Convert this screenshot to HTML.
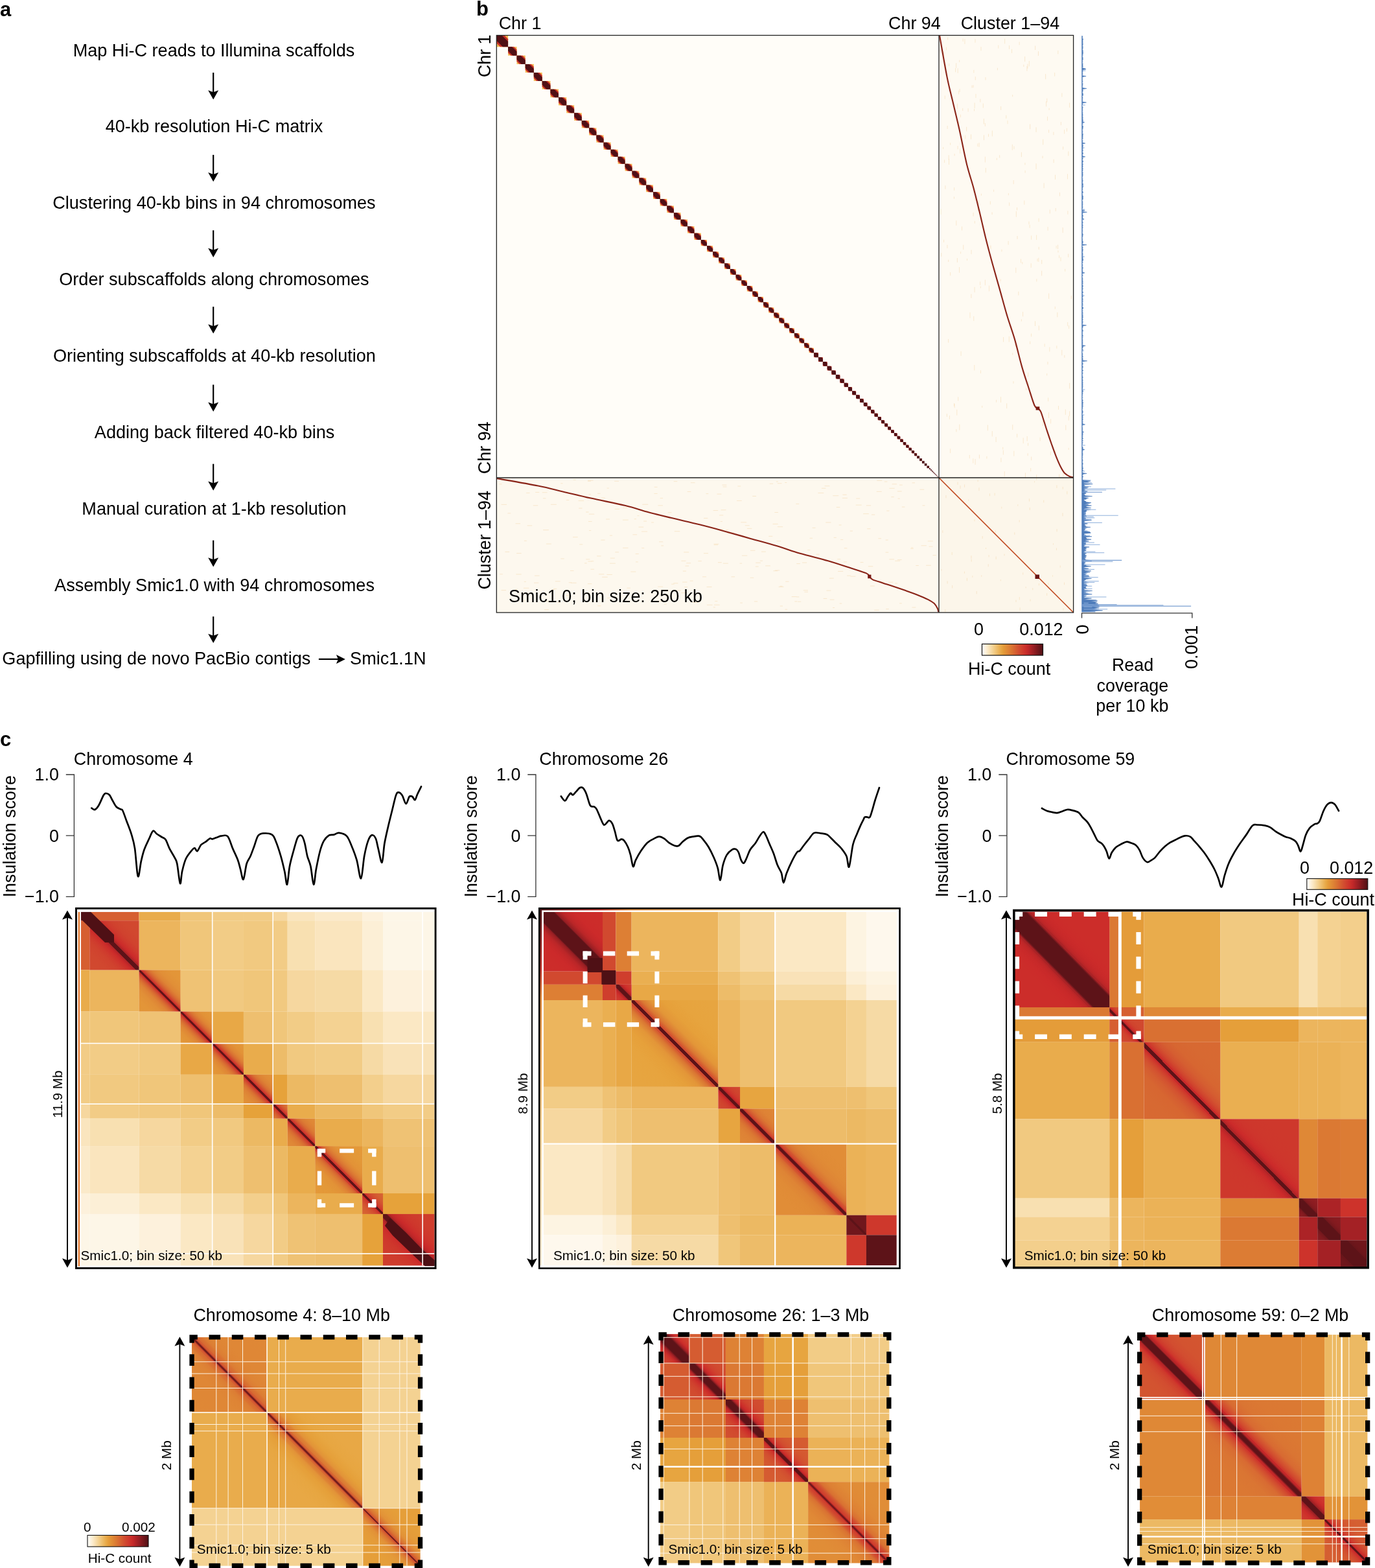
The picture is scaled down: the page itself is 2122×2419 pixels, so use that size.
<!DOCTYPE html>
<html><head><meta charset="utf-8"><title>Hi-C assembly figure</title>
<style>
html,body{margin:0;padding:0;background:#fff;}
body{width:2122px;height:2419px;overflow:hidden;}
svg{display:block;}
text{fill:#000;}
</style></head><body>
<svg xmlns="http://www.w3.org/2000/svg" width="2122" height="2419" viewBox="0 0 2122 2419" font-family="'Liberation Sans', Arial, Helvetica, sans-serif">
<text x="0" y="24.5" font-size="31" font-weight="bold">a</text>
<text x="112.65" y="86.7" font-size="27.1">Map Hi-C reads to Illumina scaffolds</text>
<text x="162.65" y="203.8" font-size="27.1">40-kb resolution Hi-C matrix</text>
<text x="81.21" y="322.1" font-size="27.1">Clustering 40-kb bins in 94 chromosomes</text>
<text x="91.27" y="440" font-size="27.1">Order subscaffolds along chromosomes</text>
<text x="81.89" y="557.5" font-size="27.1">Orienting subscaffolds at 40-kb resolution</text>
<text x="145.84" y="675.9" font-size="27.1">Adding back filtered 40-kb bins</text>
<text x="126.37" y="793.8" font-size="27.1">Manual curation at 1-kb resolution</text>
<text x="84.12" y="911.7" font-size="27.1">Assembly Smic1.0 with 94 chromosomes</text>
<line x1="329.2" y1="112.1" x2="329.2" y2="143.2" stroke="#000" stroke-width="2.2"/><path d="M329.2 153.5 L321.2 139.2 L329.2 142.2 L337.2 139.2 Z" fill="#000"/>
<line x1="329.2" y1="238.9" x2="329.2" y2="270" stroke="#000" stroke-width="2.2"/><path d="M329.2 280.3 L321.2 266 L329.2 269 L337.2 266 Z" fill="#000"/>
<line x1="329.2" y1="355.3" x2="329.2" y2="386.7" stroke="#000" stroke-width="2.2"/><path d="M329.2 397 L321.2 382.7 L329.2 385.7 L337.2 382.7 Z" fill="#000"/>
<line x1="329.2" y1="473.2" x2="329.2" y2="504.3" stroke="#000" stroke-width="2.2"/><path d="M329.2 514.6 L321.2 500.3 L329.2 503.3 L337.2 500.3 Z" fill="#000"/>
<line x1="329.2" y1="593.5" x2="329.2" y2="624.6" stroke="#000" stroke-width="2.2"/><path d="M329.2 634.9 L321.2 620.6 L329.2 623.6 L337.2 620.6 Z" fill="#000"/>
<line x1="329.2" y1="715.7" x2="329.2" y2="746.4" stroke="#000" stroke-width="2.2"/><path d="M329.2 756.7 L321.2 742.4 L329.2 745.4 L337.2 742.4 Z" fill="#000"/>
<line x1="329.2" y1="833.6" x2="329.2" y2="864.3" stroke="#000" stroke-width="2.2"/><path d="M329.2 874.6 L321.2 860.3 L329.2 863.3 L337.2 860.3 Z" fill="#000"/>
<line x1="329.2" y1="951.1" x2="329.2" y2="981.8" stroke="#000" stroke-width="2.2"/><path d="M329.2 992.1 L321.2 977.8 L329.2 980.8 L337.2 977.8 Z" fill="#000"/>
<text x="3.34" y="1024.9" font-size="27.1">Gapfilling using de novo PacBio contigs</text>
<line x1="491.9" y1="1016.9" x2="522" y2="1016.9" stroke="#000" stroke-width="2.2"/>
<path d="M532.9 1016.9 L518.9 1009.9 L521.9 1016.9 L518.9 1023.9 Z" fill="#000"/>
<text x="540.08" y="1024.9" font-size="27.1">Smic1.1N</text>
<text x="735" y="24" font-size="31" font-weight="bold">b</text>
<rect x="766.3" y="54.5" width="682.7" height="682.5" fill="#fffdf8"/>
<rect x="1449" y="54.5" width="207.6" height="682.5" fill="#fefaf2"/>
<rect x="766.3" y="737" width="682.7" height="208" fill="#fdf8ee"/>
<rect x="1449" y="737" width="207.6" height="208" fill="#fcf6ea"/>
<path d="M1517.28 159.55v6.91 M1466.6 420.02v5.19 M1463.69 400.78v3.22 M1539.42 104.76v3.54 M1537.58 616.87v3.74 M1497 481.96v8.69 M1568.34 325.85v8.86 M1461.39 638.25v4.74 M1481.08 137.19v4.85 M1616.53 179.76v6.49 M1580.8 309.43v6.29 M1464.66 97.82v4.24 M1589.17 346.77v4.88 M1570.05 364.08v4.8 M1612.15 530.37v4.46 M1567.8 412.8v8.25 M1599.06 252.29v8.88 M1475.8 340.36v7.54 M1482.64 388.28v3.24 M1586.71 574.73v6.44 M1628.5 269.75v7.17 M1571.82 449.8v5.74 M1621.34 696.58v5.84 M1585.89 98.54v7.21 M1582.46 729.33v7.93 M1509.37 318.49v7.01 M1456.55 369.84v4.01 M1475.61 97.38v7.61 M1478.07 225.01v5.35 M1627.68 112.01v5.7 M1562.77 655.11v7.92 M1626.18 245.85v5.49 M1524.33 655.66v8.75 M1482.43 176.71v4.39 M1499.04 385.58v6.53 M1504.97 60.27v5.51 M1526.44 440.63v8.72 M1591.2 406.23v6.71 M1588.32 94.03v8.4 M1609.24 649.11v7.79 M1531.1 327.41v3.62 M1579.87 99.61v3.4 M1494.09 167.3v5.04 M1462.6 57.66v3.91 M1472.46 303.48v3.15 M1628.27 472.92v3.89 M1502.86 292.51v5.18 M1476.76 631.81v8.96 M1545.94 384.81v3.52 M1472.6 289.29v4.59 M1619.1 166.71v3.14 M1643.72 414.87v3.88 M1561.5 75.79v6.17 M1649.27 641.54v7.18 M1504.64 305.57v4 M1607.62 417.8v7.67 M1518.46 208.39v7.87 M1650.56 634.3v7.84 M1616.98 558.02v4.36 M1556.36 298.04v3.17 M1457.63 246.53v4.56 M1591.61 704.58v5.68 M1640.9 725.91v8.73 M1525.51 206.64v4.36 M1491.66 195.76v6.74 M1633.5 626.05v5.88 M1583.64 598.46v3.51 M1585.17 672.96v7.69 M1603.23 380.89v4.07 M1611.09 282.45v7.8 M1647.89 325.28v5.41 M1642.87 547.83v4.02 M1477.61 159.75v8.43 M1614.59 156.39v7.96 M1649.63 502.14v5.1 M1562.61 146.11v3.09 M1647.73 497v6.16 M1640.22 350.97v8.23 M1618.55 200.27v4.51 M1511.06 220.22v6.52 M1504.29 340.96v3.79 M1635.46 296.83v5.75 M1569.6 669.26v5.52 M1637.01 396.87v6.19 M1557.54 70.15v5.64 M1488.91 60.16v7.8 M1486.75 377.82v7.35 M1564.19 278.03v6.11 M1563.98 588.06v3.64 M1564.96 225.61v4.66 M1607.69 400.97v6.37 M1605.21 674.8v5.66 M1575.49 399.51v6.07 M1591.65 363.51v6.2 M1548.37 694.43v7.2 M1628.71 694.89v4.56 M1564.8 695.62v8.04 M1479.65 139.78v5.65 M1466.63 220.29v3.44 M1586.97 587.83v8.38 M1483.14 541.96v6.96 M1480.82 654.74v8.81 M1496.27 701.87v5.39 M1550.23 727.15v7.99 M1484.55 349.42v6.09 M1520.37 189.92v4.91 M1597.59 70.68v6.32 M1540.8 69.73v4.99 M1577.78 404.05v3.39 M1650.59 590.83v8.83 M1473.12 237.15v3.24 M1609.05 240.46v3.78 M1537.13 674.07v7.91 M1504.14 158.55v8.52 M1567.03 531.33v3.54 M1463.6 523.07v5.55 M1466.6 692.29v6.81 M1613.61 114.15v8.14 M1465.43 641.17v5.72 M1520.37 431.65v8.56 M1506 144.92v6.16 M1500.07 131.54v3.97 M1462.16 194v4.87 M1513.49 571.3v4.74 M1552.82 177.85v5.08 M1455.66 226.93v3.09 M1599.79 430.28v4.14 M1547.71 689.79v3.64 M1617.09 349.87v5.97 M1620.26 323.42v6.04 M1590.65 722.12v5.06 M1619.79 535.6v6.82 M1533.59 292.62v3.33 M1478.17 105.34v7.45 M1503.53 167.94v3.51 M1621.6 646.42v7.02 M1508.84 221.36v4.76 M1544.63 164.07v5.67 M1505.07 708.15v8.84 M1562.29 222.87v8.79 M1514.4 298.73v3.01 M1528.94 378.6v6.02 M1492.52 398.95v3.03 M1505.26 118.22v5.4 M1460.4 72.72v4.83 M1498.93 453.65v6.18 M1603.31 502.33v7.3 M1629.22 321.01v4.96 M1650.52 158.61v7.34 M1581.67 87.12v8.01 M1631.82 481.89v7.4 M1615.74 151.74v6.14 M1553.68 622.34v7.83 M1618.6 452.62v8.36 M1589.67 526.54v4.38 M1458.28 147.54v5.16 M1473.15 622.93v6.35 M1578.56 481.14v7.08 M1550.64 59.74v7.79 M1602.85 397.76v6.21 M1584.91 102.18v7.42 M1502.84 107.87v4.59 M1599.03 196.33v7.44 M1648.71 391.66v5.3 M1548.57 520.02v7.6 M1576.38 492.33v3.46 M1481.72 229.29v7.46 M1513.37 441.59v3.07 M1464.23 239.32v7.03 M1591.54 514.62v4.75 M1556.13 371.84v5.8 M1475.89 662.06v4.2 M1649.19 690.88v3.11 M1544.53 612.16v8.81 M1542.61 239.25v4.26 M1642.63 200.04v6.49 M1480.57 412.03v8.72 M1478.73 612.38v6.05 M1630.79 533.31v4.39 M1632.98 386.37v3.15 M1452.72 390.13v5.7 M1512.87 152.69v5.06 M1515.72 625.92v3.01 M1603.35 625.16v3.72 M1638.76 539.86v8.41 M1510.43 309.31v5.36 M1653.36 456.08v5.16 M1538.3 243.64v3.29 M1472.5 622.16v4.71 M1640.61 226.17v4.59 M1555.01 185.93v5.24 M1644.76 655.71v7.87 M1579.19 675.43v8.64 M1562.72 544.29v3.3 M1599.64 362.51v7.52 M1581.93 251.12v3.29 M1638.84 143.63v5.83 M1521.28 258.94v7.43 M1648.82 233.5v6.94 M1512.65 434.53v5.37 M1485.73 166.86v4.25 M1634.64 393.77v4.32 M1634.7 731.62v5.7 M1480.14 187.66v3.54 M1520.94 119.13v4.43 M1504.08 442.85v8.32 M1603.13 336.75v5.48 M1557.67 312.45v5.03 M1464.51 245.24v8.81 M1477.38 398.05v6.78 M1625.95 203.6v4.63 M1502.09 327.94v5.68 M1644.32 631.63v8.24 M1456.4 79.31v7.26 M1632.57 377.67v6.52 M1452.04 322.36v8.56 M1618.44 636.22v8.83 M1502.09 131.27v3.93 M1557.31 518.92v8.65 M1597.5 495.43v7.59 M1544.2 430.59v3.24 M1609.71 214.84v8.52 M1582.13 263.01v3.77 M1502.76 487.95v7.19 M1474.61 105.09v6.15 M1569.51 320.04v4.34 M1573.17 64.58v4.81 M1544.88 706.22v6.87 M1630.17 379.04v4.41 M1501.81 707.36v7.23 M1513.97 72.24v5.99 M1587.97 341.64v4.54 M1586.54 683.37v4.36 M1458.87 286.19v5.52 M1589.61 191.5v7.78 M1601.01 399.05v4.23 M1647.52 268.38v7.92 M1498.53 207.31v7.56 M1511.46 701.48v5.97 M1489.76 208.58v5.5 M1586.12 699.34v3.88 M1531.32 201.56v8.84 M1480.61 92.57v3.36 M1531.29 665.11v8.3 M1599.72 732.33v8.59 M1518.38 183v8.62 M1602.46 79.08v6.99 M1528.33 310.43v4.99 M1486.12 59.44v4.68 M1522.86 703.91v3.74 M1646.4 197.81v5.14 M1617.63 613.59v5.59 M1461.93 377.8v5.24 M1637.37 188.08v5.19 M1632.83 77.99v5.46 M1615.66 576.15v3.24 M1459.03 99.84v8.52 M1503.81 563.04v8.39 M1520.36 241.72v8.75 M1576.38 234.86v7.3 M983.46 795.68h3.02 M1280.65 925.12h6.8 M1407.6 744.9h4.4 M1090.86 933.27h8.72 M1030.85 790.71h5.58 M1103.23 927.48h4.1 M1312.4 889.17h7.94 M1292.26 862.67h4.97 M985.54 813.1h7.69 M822.77 779.86h7.52 M936.65 753.08h3.2 M1143.24 805.8h8.88 M1367.15 939.54h4.59 M826.2 759.48h5.99 M1249.6 830.29h4.41 M1051.38 865.3h7.04 M1275.46 911.09h6.99 M851.29 909.86h4.76 M1152.91 815.34h7.43 M904.09 789.98h4.47 M873.05 918.6h6.47 M990.13 820.01h8.95 M1112.61 786.74h7.85 M1211.41 940.17h3.61 M1090.57 905.46h8.04 M1388.06 748.15h4.76 M849.97 778.29h8.84 M1163.95 927.9h5.23 M1355.41 830.72h4.56 M1295.62 931.03h3.63 M1172.71 865.23h4.31 M1018.81 768.56h4.22 M941.8 861.08h6.91 M906.97 742.3h4.96 M1228.32 777.4h4.87 M906.95 900.65h6.29 M812.12 760.48h5.37 M1141.58 869.11h3.55 M880.07 880.47h5.46 M961.01 802.13h8.72 M980.68 854.44h5.14 M1051.11 914.58h8.98 M1015.47 779.83h7.37 M907.12 741.19h8.41 M1056.05 905.71h5.44 M1366.72 833.1h3.98 M779.34 851.41h6.84 M1384.96 757.98h6.73 M1020.25 841.9h3.88 M961.01 845.27h8.55 M842.92 839.08h7.83 M1423.59 779.86h3.76 M1407.48 937.06h5.9 M805.42 927.09h5.33 M1381.19 865.31h7.95 M877.76 898.74h4.33 M1043.01 910.96h7.98 M893.11 784.06h5.4 M1119.76 817.48h3.74 M936.48 886.43h8.38 M797.11 853.59h7.54 M795.1 909.32h3.71 M1175 851.11h6.76 M976.52 824.85h6.5 M1057.4 873.09h5.68 M1065.93 744.72h6.71 M1100.55 787.52h7.58 M1297.11 832.57h4.08 M1089.53 761.63h3.77 M1060.69 758.53h5.65 M1114.53 748.23h6.82 M824.95 888.16h7.67 M1115.42 750.96h6.02 M1025 932.08h3.82 M1349.28 941.22h7.39 M1320.8 779.13h8.89 M1102.15 933.24h8.5 M881.03 899.25h8.58 M813.63 810.88h7.54 M876.74 921.1h4.65 M1321.23 769h6.01 M1391.8 782.08h4.58 M1111.71 804.45h3.22 M892.52 772.57h8.62 M1229.24 920.87h4.01 M1300.42 763.25h6.18 M1199.9 812.68h8.24 M1144.99 857.17h8.3 M840.09 940.58h6.78 M1036.09 901.13h4.59 M1439.57 856.63h5.16 M1286.73 829.34h4.06 M1272.49 749.75h7.92 M940.95 869.13h8.9 M1165.76 874.07h4.88 M770.51 746.83h3.9 M1186.18 827.31h6.08 M1375.31 766.67h4.36 M1211.26 744.5h3.02 M1009.5 761.49h5.14 M921.06 857.89h6.53 M907.47 866.03h5.85 M860.48 929.19h4.46 M870.34 759.35h6.83 M1358.9 898h5.41 M948.11 742.32h6.87 M1149.83 810.77h6.87 M1069.59 929.31h7.4 M937.46 922.51h3.26 M1128.98 822.01h4.43 M808.81 897.33h3.07 M1142.11 930.07h3.85 M904.31 862.83h6.04 M1203.45 904.3h4.05 M978.66 800.65h3.29 M1371.12 898.16h7.29 M773.6 910.58h7.47 M1084.15 889.83h5.71 M922.2 761.27h4.39 M795.57 807.77h7.5 M1239.68 910.76h7.27 M949.29 851.87h5.62 M1302.84 845.7h4.59 M1203.74 934.96h4.3 M1364.83 743.08h4.56 M929.08 890.26h8.67 M1274.22 806.03h8.28 M991.63 788.31h8.45 M1196.09 879.95h6.99 M1431.8 834.84h8.04 M1241.38 913.22h5.62 M1259.65 855.21h4.85 M912.74 865.77h3.47 M1385.63 769.21h3.16 M841.49 927.65h5.07 M865.28 745.8h3.25 M1238 868.04h7.18 M1267.88 753.28h6.54 M1015.22 905.15h7.92 M1372.43 753.32h8.21 M1388.08 930.75h3.64 M908.51 762.62h3.21 M1342.95 904.03h6.81 M1327.62 867.57h4.72 M836.89 759.77h7.54 M908.02 804.47h5.54 M783.46 791.85h4.7 M1253.66 814.34h4.92 M1421.64 841.75h8.11 M1187.69 746.26h5.48 M1064.65 896.15h5.08 M1246.14 848.65h4.3 M1352.78 758.36h7.92 M884.59 740.26h4.21 M1285.07 937.53h3.03 M1101.44 839.28h7.78 M894.16 839.91h5.08 M1332.2 792.64h8.66 M961.3 783.37h7.2 M1106.51 762.2h6.82 M824.03 899.16h7.18 M1301.82 866.84h5.13 M1040.84 819.71h8.34 M827.61 919.47h3.15 M908.78 793.17h8.41 M1108.46 816.62h8.3 M927.36 833.1h6.19 M1279.85 892.1h6.88 M1005.12 805.99h3.93 M1339.83 873.74h7.45 M884.03 828.64h7.64 M1161.22 765.46h5.77 M1368.26 788.06h4.15 M973.33 882.04h8.06 M873.91 771.51h4.49 M990.28 845.48h3.97 M991.31 778.23h8.85 M1262.43 760.56h8.77 M838.08 817.62h8.9 M1307.2 888.13h5.61 M902.06 868.87h3.64 M909 818.44h3.2 M1039.32 899.78h7.16 M1107.98 867.74h5.78 M865.26 861.95h5.43 M1270.7 923.42h5.58 M1157.71 891.32h5.53 M923.97 885.89h8.28 M1293.1 881.42h8.11 M1229.18 869.59h5.72 M981.12 866.91h3.59 M1053.23 898.04h7.28 M1195.36 790.51h5.54 M1077.33 865.56h5.46 M1226.24 927.9h4.1 M1212.19 897.19h5.33 M1100.77 936.87h3.23 M1136.99 772.49h7.69 M1405.8 844.88h3.61 M1158.11 849.29h7.3 M1115.9 869.13h7.97 M1122.33 822.89h8.69 M911.47 878.24h5.35 M1285.42 764.72h8.91 M1009.85 751.44h4.65 M1039.77 742.69h5.51 M1053.88 881.05h5.11 M948.73 785.33h7.45 M1405.35 846.47h4.31 M1311.67 819.18h4.27 M856.8 896.87h7.86 M1198.53 834.77h6.37 M922.23 934.7h5.12 M1201.57 905.39h7.9 M1086.06 799.46h6.29 M854 908.42h5.13 M1344.95 794.02h5.26 M940.88 826.07h4.12 M771.12 885.8h4.69 M935.07 800.97h5.88 M1059.26 868.73h6.96 M1014.56 927.6h8.13 M807.91 907.24h8.43 M1299.86 768.36h7.99 M1197.76 743.03h3.07 M1413.36 872.5h4.5 M837.99 768.83h4.4 M1294.63 809.98h3.92 M1381.1 899.92h4.01 M1372.33 862.89h7.69 M1221.65 920.57h7.73 M1336.92 779.87h7.16 M1128.49 889.87h5.63 M1366.61 852.12h4.59 M927.77 768.15h5.96 M808.86 834.35h3.87 M1101.81 840.63h6.24 M1353.21 741.33h8.04 M1085.97 853.64h6.99 M1338.11 815.74h5.51 M1419.35 755.23h6.82 M1199.77 745.76h6.66 M1231.21 928.16h4.98 M1433.62 843.15h5.91 M1376.68 746.85h7.31 M1192.43 808.4h8.17 M1017.08 835.86h6.15 M1290.75 782.57h5.61 M1055.13 851.91h7.96 M967.49 907.2h5.42 M1110.19 794.88h6.04 M1429.08 872.22h7.75 M993.22 804.05h4.8 M1166.15 868.23h7.71 M796.4 885.98h8.31 M1138.37 750.04h4.8 M773.5 778.37h8.53 M1181.2 872.92h7.73 M1384.98 863.57h6.7 M1193.47 880.67h6.58 M1589.29 782.93v4 M1544.31 894.06v2.3 M1488.55 747.47v4.32 M1636.28 872.45v3.11 M1617.84 898.88v3.69 M1504.01 801.01v3.27 M1516.2 827v3.93 M1640.27 751.03v3.7 M1459.94 764.01v4.43 M1567.98 925.56v3.34 M1454.85 818.2v3.78 M1641.04 938.12v3.43 M1535.14 760.61v3.93 M1494.8 770.66v2.05 M1452.96 878.12v2.37 M1646.82 757.8v4.61 M1478 743.59v4.16 M1500.84 888.18v2.56 M1462.11 896.35v4.14 M1624.47 887.4v2.25 M1578.73 883.27v3.38 M1639.96 791.32v4.89 M1596.59 742.3v2.04 M1583.18 905.1v2.24 M1514.71 887.35v2.5 M1625.57 838.24v2.18 M1526.1 856.14v3.32 M1588.46 769.27v4.39 M1525.23 870.27v3.89 M1536.26 817.92v4.36 M1642.5 898.49v3.7 M1510.95 752.25v4.92 M1593.78 907.14v3 M1574.13 937.44v4.49 M1573.19 802.34v3.29 M1631.05 816.09v4.05 M1573.32 921.02v4.42 M1509.12 740.34v2.79 M1537.18 858.5v4.45 M1630.91 748.54v4.5 M1615.65 915.18v3.72 M1507.21 911.94v4.42 M1590.02 924.58v3.04 M1469.15 851.84v4.39 M1492.41 891.54v4.8 M1499.18 862.59v4.03 M1545.81 781.73v2.76 M1603.43 899.92v3.38 M1469.68 902.93v4.32 M1498.95 857.08v4.69 M1630.43 845.42v3.43 M1570.81 778.21v2.58 M1488.43 881.61v3.09 M1565.79 821.3v3.55 M1482.04 749.01v4.99 M1527.41 761.44v3.9 M1610.73 771.54v3.79 M1521.54 844.93v2.06 M1458.77 940.06v4.6 M1550.04 854.57v2.78" stroke="#f0c890" stroke-width="1" fill="none" opacity="0.35"/>
<rect x="766.3" y="54.5" width="17.78" height="17.78" fill="#f2b850"/>
<path d="M766.3 54.5 L778.39 54.5 L784.08 60.19 L784.08 72.28 L771.99 72.28 L766.3 66.59 Z" fill="#c83028"/>
<path d="M766.3 54.5 L774.48 54.5 L784.08 64.1 L784.08 72.28 L775.9 72.28 L766.3 62.68 Z" fill="#501015"/>
<rect x="784.08" y="72.28" width="13.39" height="13.39" fill="#f2b850"/>
<path d="M784.08 72.28 L793.19 72.28 L797.47 76.57 L797.47 85.67 L788.37 85.67 L784.08 81.39 Z" fill="#c83028"/>
<path d="M784.08 72.28 L790.24 72.28 L797.47 79.51 L797.47 85.67 L791.31 85.67 L784.08 78.44 Z" fill="#501015"/>
<rect x="797.47" y="85.67" width="13.23" height="13.23" fill="#f2b850"/>
<path d="M797.47 85.67 L806.47 85.67 L810.7 89.91 L810.7 98.9 L801.71 98.9 L797.47 94.67 Z" fill="#c83028"/>
<path d="M797.47 85.67 L803.56 85.67 L810.7 92.82 L810.7 98.9 L804.62 98.9 L797.47 91.76 Z" fill="#501015"/>
<rect x="810.7" y="98.9" width="13.07" height="13.07" fill="#f2b850"/>
<path d="M810.7 98.9 L819.59 98.9 L823.77 103.08 L823.77 111.97 L814.88 111.97 L810.7 107.79 Z" fill="#c83028"/>
<path d="M810.7 98.9 L816.71 98.9 L823.77 105.96 L823.77 111.97 L817.76 111.97 L810.7 104.91 Z" fill="#501015"/>
<rect x="823.77" y="111.97" width="12.91" height="12.91" fill="#f2b850"/>
<path d="M823.77 111.97 L832.55 111.97 L836.68 116.1 L836.68 124.88 L827.9 124.88 L823.77 120.75 Z" fill="#c83028"/>
<path d="M823.77 111.97 L829.71 111.97 L836.68 118.94 L836.68 124.88 L830.74 124.88 L823.77 117.91 Z" fill="#501015"/>
<rect x="836.68" y="124.88" width="12.75" height="12.75" fill="#f2b850"/>
<path d="M836.68 124.88 L845.35 124.88 L849.43 128.96 L849.43 137.63 L840.76 137.63 L836.68 133.55 Z" fill="#c83028"/>
<path d="M836.68 124.88 L842.54 124.88 L849.43 131.76 L849.43 137.63 L843.56 137.63 L836.68 130.74 Z" fill="#501015"/>
<rect x="849.43" y="137.63" width="12.59" height="12.59" fill="#f2b850"/>
<path d="M849.43 137.63 L857.99 137.63 L862.02 141.66 L862.02 150.22 L853.46 150.22 L849.43 146.19 Z" fill="#c83028"/>
<path d="M849.43 137.63 L855.22 137.63 L862.02 144.42 L862.02 150.22 L856.22 150.22 L849.43 143.42 Z" fill="#501015"/>
<rect x="862.02" y="150.22" width="12.19" height="12.19" fill="#f2b850"/>
<path d="M862.02 150.22 L870.3 150.22 L874.21 154.12 L874.21 162.41 L865.92 162.41 L862.02 158.5 Z" fill="#c83028"/>
<path d="M862.02 150.22 L867.62 150.22 L874.21 156.8 L874.21 162.41 L868.6 162.41 L862.02 155.82 Z" fill="#501015"/>
<rect x="874.21" y="162.41" width="11.92" height="11.92" fill="#f2b850"/>
<path d="M874.21 162.41 L882.31 162.41 L886.13 166.22 L886.13 174.33 L878.02 174.33 L874.21 170.51 Z" fill="#c83028"/>
<path d="M874.21 162.41 L879.69 162.41 L886.13 168.84 L886.13 174.33 L880.64 174.33 L874.21 167.89 Z" fill="#501015"/>
<rect x="886.13" y="174.33" width="11.66" height="11.66" fill="#f2b850"/>
<path d="M886.13 174.33 L894.05 174.33 L897.78 178.06 L897.78 185.98 L889.86 185.98 L886.13 182.25 Z" fill="#c83028"/>
<path d="M886.13 174.33 L891.49 174.33 L897.78 180.62 L897.78 185.98 L892.42 185.98 L886.13 179.69 Z" fill="#501015"/>
<rect x="897.78" y="185.98" width="11.39" height="11.39" fill="#f2b850"/>
<path d="M897.78 185.98 L905.53 185.98 L909.17 189.63 L909.17 197.37 L901.43 197.37 L897.78 193.73 Z" fill="#c83028"/>
<path d="M897.78 185.98 L903.02 185.98 L909.17 192.14 L909.17 197.37 L903.94 197.37 L897.78 191.22 Z" fill="#501015"/>
<rect x="909.17" y="197.37" width="11.19" height="11.19" fill="#f2b850"/>
<path d="M909.17 197.37 L916.78 197.37 L920.36 200.96 L920.36 208.56 L912.76 208.56 L909.17 204.98 Z" fill="#c83028"/>
<path d="M909.17 197.37 L914.32 197.37 L920.36 203.42 L920.36 208.56 L915.22 208.56 L909.17 202.52 Z" fill="#501015"/>
<rect x="920.36" y="208.56" width="11.14" height="11.14" fill="#f2b850"/>
<path d="M920.36 208.56 L927.94 208.56 L931.5 212.13 L931.5 219.7 L923.93 219.7 L920.36 216.14 Z" fill="#c83028"/>
<path d="M920.36 208.56 L925.49 208.56 L931.5 214.58 L931.5 219.7 L926.38 219.7 L920.36 213.69 Z" fill="#501015"/>
<rect x="931.5" y="219.7" width="11.08" height="11.08" fill="#f2b850"/>
<path d="M931.5 219.7 L939.04 219.7 L942.59 223.25 L942.59 230.79 L935.05 230.79 L931.5 227.24 Z" fill="#c83028"/>
<path d="M931.5 219.7 L936.6 219.7 L942.59 225.69 L942.59 230.79 L937.49 230.79 L931.5 224.8 Z" fill="#501015"/>
<rect x="942.59" y="230.79" width="11.03" height="11.03" fill="#f2b850"/>
<path d="M942.59 230.79 L950.09 230.79 L953.62 234.31 L953.62 241.82 L946.11 241.82 L942.59 238.29 Z" fill="#c83028"/>
<path d="M942.59 230.79 L947.66 230.79 L953.62 236.74 L953.62 241.82 L948.54 241.82 L942.59 235.86 Z" fill="#501015"/>
<rect x="953.62" y="241.82" width="10.98" height="10.98" fill="#f2b850"/>
<path d="M953.62 241.82 L961.08 241.82 L964.59 245.33 L964.59 252.79 L957.13 252.79 L953.62 249.28 Z" fill="#c83028"/>
<path d="M953.62 241.82 L958.66 241.82 L964.59 247.74 L964.59 252.79 L959.54 252.79 L953.62 246.86 Z" fill="#501015"/>
<rect x="964.59" y="252.79" width="10.92" height="10.92" fill="#f2b850"/>
<path d="M964.59 252.79 L972.02 252.79 L975.52 256.29 L975.52 263.72 L968.09 263.72 L964.59 260.22 Z" fill="#c83028"/>
<path d="M964.59 252.79 L969.62 252.79 L975.52 258.69 L975.52 263.72 L970.49 263.72 L964.59 257.82 Z" fill="#501015"/>
<rect x="975.52" y="263.72" width="10.87" height="10.87" fill="#f2b850"/>
<path d="M975.52 263.72 L982.91 263.72 L986.39 267.19 L986.39 274.59 L978.99 274.59 L975.52 271.11 Z" fill="#c83028"/>
<path d="M975.52 263.72 L980.52 263.72 L986.39 269.59 L986.39 274.59 L981.39 274.59 L975.52 268.72 Z" fill="#501015"/>
<rect x="986.39" y="274.59" width="10.82" height="10.82" fill="#f2b850"/>
<path d="M986.39 274.59 L993.74 274.59 L997.2 278.05 L997.2 285.4 L989.85 285.4 L986.39 281.94 Z" fill="#c83028"/>
<path d="M986.39 274.59 L991.36 274.59 L997.2 280.43 L997.2 285.4 L992.23 285.4 L986.39 279.56 Z" fill="#501015"/>
<rect x="997.2" y="285.4" width="10.76" height="10.76" fill="#f2b850"/>
<path d="M997.2 285.4 L1004.52 285.4 L1007.97 288.85 L1007.97 296.17 L1000.65 296.17 L997.2 292.72 Z" fill="#c83028"/>
<path d="M997.2 285.4 L1002.16 285.4 L1007.97 291.22 L1007.97 296.17 L1003.02 296.17 L997.2 290.36 Z" fill="#501015"/>
<rect x="1007.97" y="296.17" width="10.71" height="10.71" fill="#f2b850"/>
<path d="M1007.97 296.17 L1015.25 296.17 L1018.68 299.59 L1018.68 306.88 L1011.39 306.88 L1007.97 303.45 Z" fill="#c83028"/>
<path d="M1007.97 296.17 L1012.89 296.17 L1018.68 301.95 L1018.68 306.88 L1013.75 306.88 L1007.97 301.09 Z" fill="#501015"/>
<rect x="1018.68" y="306.88" width="10.66" height="10.66" fill="#f2b850"/>
<path d="M1018.68 306.88 L1025.93 306.88 L1029.34 310.29 L1029.34 317.54 L1022.09 317.54 L1018.68 314.13 Z" fill="#c83028"/>
<path d="M1018.68 306.88 L1023.58 306.88 L1029.34 312.63 L1029.34 317.54 L1024.43 317.54 L1018.68 311.78 Z" fill="#501015"/>
<rect x="1029.34" y="317.54" width="10.6" height="10.6" fill="#f2b850"/>
<path d="M1029.34 317.54 L1036.55 317.54 L1039.94 320.93 L1039.94 328.14 L1032.73 328.14 L1029.34 324.75 Z" fill="#c83028"/>
<path d="M1029.34 317.54 L1034.21 317.54 L1039.94 323.26 L1039.94 328.14 L1035.06 328.14 L1029.34 322.41 Z" fill="#501015"/>
<rect x="1039.94" y="328.14" width="10.55" height="10.55" fill="#f2b850"/>
<path d="M1039.94 328.14 L1047.11 328.14 L1050.49 331.52 L1050.49 338.69 L1043.32 338.69 L1039.94 335.31 Z" fill="#c83028"/>
<path d="M1039.94 328.14 L1044.79 328.14 L1050.49 333.84 L1050.49 338.69 L1045.64 338.69 L1039.94 332.99 Z" fill="#501015"/>
<rect x="1050.49" y="338.69" width="10.5" height="10.5" fill="#f2b850"/>
<path d="M1050.49 338.69 L1057.63 338.69 L1060.99 342.05 L1060.99 349.19 L1053.85 349.19 L1050.49 345.83 Z" fill="#c83028"/>
<path d="M1050.49 338.69 L1055.32 338.69 L1060.99 344.36 L1060.99 349.19 L1056.16 349.19 L1050.49 343.52 Z" fill="#501015"/>
<rect x="1060.99" y="349.19" width="10.44" height="10.44" fill="#f2b850"/>
<path d="M1060.99 349.19 L1068.09 349.19 L1071.43 352.53 L1071.43 359.63 L1064.33 359.63 L1060.99 356.29 Z" fill="#c83028"/>
<path d="M1060.99 349.19 L1065.79 349.19 L1071.43 354.83 L1071.43 359.63 L1066.63 359.63 L1060.99 353.99 Z" fill="#501015"/>
<rect x="1071.43" y="359.63" width="10.39" height="10.39" fill="#f2b850"/>
<path d="M1071.43 359.63 L1078.5 359.63 L1081.82 362.96 L1081.82 370.02 L1074.76 370.02 L1071.43 366.7 Z" fill="#c83028"/>
<path d="M1071.43 359.63 L1076.21 359.63 L1081.82 365.24 L1081.82 370.02 L1077.04 370.02 L1071.43 364.41 Z" fill="#501015"/>
<rect x="1081.82" y="370.02" width="9.19" height="9.19" fill="#f2b850"/>
<path d="M1081.82 370.02 L1088.07 370.02 L1091.01 372.96 L1091.01 379.21 L1084.76 379.21 L1081.82 376.27 Z" fill="#c83028"/>
<path d="M1081.82 370.02 L1086.05 370.02 L1091.01 374.99 L1091.01 379.21 L1086.79 379.21 L1081.82 374.25 Z" fill="#501015"/>
<rect x="1091.01" y="379.21" width="9.1" height="9.1" fill="#f2b850"/>
<path d="M1091.01 379.21 L1097.2 379.21 L1100.12 382.13 L1100.12 388.32 L1093.93 388.32 L1091.01 385.4 Z" fill="#c83028"/>
<path d="M1091.01 379.21 L1095.2 379.21 L1100.12 384.13 L1100.12 388.32 L1095.93 388.32 L1091.01 383.4 Z" fill="#501015"/>
<rect x="1100.12" y="388.32" width="9.01" height="9.01" fill="#f2b850"/>
<path d="M1100.12 388.32 L1106.24 388.32 L1109.13 391.2 L1109.13 397.33 L1103 397.33 L1100.12 394.44 Z" fill="#c83028"/>
<path d="M1100.12 388.32 L1104.26 388.32 L1109.13 393.18 L1109.13 397.33 L1104.98 397.33 L1100.12 392.46 Z" fill="#501015"/>
<rect x="1109.13" y="397.33" width="8.92" height="8.92" fill="#f2b850"/>
<path d="M1109.13 397.33 L1115.2 397.33 L1118.05 400.18 L1118.05 406.25 L1111.98 406.25 L1109.13 403.4 Z" fill="#c83028"/>
<path d="M1109.13 397.33 L1113.23 397.33 L1118.05 402.15 L1118.05 406.25 L1113.95 406.25 L1109.13 401.43 Z" fill="#501015"/>
<rect x="1118.05" y="406.25" width="8.83" height="8.83" fill="#f2b850"/>
<path d="M1118.05 406.25 L1124.06 406.25 L1126.88 409.08 L1126.88 415.08 L1120.88 415.08 L1118.05 412.26 Z" fill="#c83028"/>
<path d="M1118.05 406.25 L1122.11 406.25 L1126.88 411.02 L1126.88 415.08 L1122.82 415.08 L1118.05 410.31 Z" fill="#501015"/>
<rect x="1126.88" y="415.08" width="8.74" height="8.74" fill="#f2b850"/>
<path d="M1126.88 415.08 L1132.83 415.08 L1135.63 417.88 L1135.63 423.83 L1129.68 423.83 L1126.88 421.03 Z" fill="#c83028"/>
<path d="M1126.88 415.08 L1130.9 415.08 L1135.63 419.8 L1135.63 423.83 L1131.6 423.83 L1126.88 419.1 Z" fill="#501015"/>
<rect x="1135.63" y="423.83" width="8.65" height="8.65" fill="#f2b850"/>
<path d="M1135.63 423.83 L1141.51 423.83 L1144.28 426.59 L1144.28 432.48 L1138.39 432.48 L1135.63 429.71 Z" fill="#c83028"/>
<path d="M1135.63 423.83 L1139.61 423.83 L1144.28 428.5 L1144.28 432.48 L1140.3 432.48 L1135.63 427.81 Z" fill="#501015"/>
<rect x="1144.28" y="432.48" width="8.56" height="8.56" fill="#f2b850"/>
<path d="M1144.28 432.48 L1150.1 432.48 L1152.84 435.22 L1152.84 441.04 L1147.02 441.04 L1144.28 438.3 Z" fill="#c83028"/>
<path d="M1144.28 432.48 L1148.22 432.48 L1152.84 437.1 L1152.84 441.04 L1148.9 441.04 L1144.28 436.42 Z" fill="#501015"/>
<rect x="1152.84" y="441.04" width="8.47" height="8.47" fill="#f2b850"/>
<path d="M1152.84 441.04 L1158.6 441.04 L1161.31 443.75 L1161.31 449.51 L1155.55 449.51 L1152.84 446.8 Z" fill="#c83028"/>
<path d="M1152.84 441.04 L1156.74 441.04 L1161.31 445.62 L1161.31 449.51 L1157.42 449.51 L1152.84 444.94 Z" fill="#501015"/>
<rect x="1161.31" y="449.51" width="8.38" height="8.38" fill="#f2b850"/>
<path d="M1161.31 449.51 L1167.01 449.51 L1169.7 452.2 L1169.7 457.9 L1164 457.9 L1161.31 455.21 Z" fill="#c83028"/>
<path d="M1161.31 449.51 L1165.17 449.51 L1169.7 454.04 L1169.7 457.9 L1165.84 457.9 L1161.31 453.37 Z" fill="#501015"/>
<rect x="1169.7" y="457.9" width="8.29" height="8.29" fill="#f2b850"/>
<path d="M1169.7 457.9 L1175.33 457.9 L1177.99 460.55 L1177.99 466.19 L1172.35 466.19 L1169.7 463.53 Z" fill="#c83028"/>
<path d="M1169.7 457.9 L1173.51 457.9 L1177.99 462.37 L1177.99 466.19 L1174.17 466.19 L1169.7 461.71 Z" fill="#501015"/>
<rect x="1177.99" y="466.19" width="8.2" height="8.2" fill="#f2b850"/>
<path d="M1177.99 466.19 L1183.57 466.19 L1186.19 468.81 L1186.19 474.39 L1180.61 474.39 L1177.99 471.77 Z" fill="#c83028"/>
<path d="M1177.99 466.19 L1181.76 466.19 L1186.19 470.62 L1186.19 474.39 L1182.42 474.39 L1177.99 469.96 Z" fill="#501015"/>
<rect x="1186.19" y="474.39" width="8.11" height="8.11" fill="#f2b850"/>
<path d="M1186.19 474.39 L1191.71 474.39 L1194.3 476.99 L1194.3 482.5 L1188.79 482.5 L1186.19 479.91 Z" fill="#c83028"/>
<path d="M1186.19 474.39 L1189.92 474.39 L1194.3 478.77 L1194.3 482.5 L1190.57 482.5 L1186.19 478.12 Z" fill="#501015"/>
<rect x="1194.3" y="482.5" width="8.02" height="8.02" fill="#f2b850"/>
<path d="M1194.3 482.5 L1199.76 482.5 L1202.33 485.07 L1202.33 490.53 L1196.87 490.53 L1194.3 487.96 Z" fill="#c83028"/>
<path d="M1194.3 482.5 L1197.99 482.5 L1202.33 486.84 L1202.33 490.53 L1198.64 490.53 L1194.3 486.19 Z" fill="#501015"/>
<rect x="1202.33" y="490.53" width="7.93" height="7.93" fill="#f2b850"/>
<path d="M1202.33 490.53 L1207.72 490.53 L1210.26 493.07 L1210.26 498.46 L1204.87 498.46 L1202.33 495.92 Z" fill="#c83028"/>
<path d="M1202.33 490.53 L1205.98 490.53 L1210.26 494.81 L1210.26 498.46 L1206.61 498.46 L1202.33 494.18 Z" fill="#501015"/>
<rect x="1210.26" y="498.46" width="7.84" height="7.84" fill="#f2b850"/>
<path d="M1210.26 498.46 L1215.59 498.46 L1218.1 500.97 L1218.1 506.3 L1212.77 506.3 L1210.26 503.79 Z" fill="#c83028"/>
<path d="M1210.26 498.46 L1213.87 498.46 L1218.1 502.7 L1218.1 506.3 L1214.5 506.3 L1210.26 502.07 Z" fill="#501015"/>
<rect x="1218.1" y="506.3" width="7.75" height="7.75" fill="#f2b850"/>
<path d="M1218.1 506.3 L1223.38 506.3 L1225.86 508.78 L1225.86 514.06 L1220.58 514.06 L1218.1 511.58 Z" fill="#c83028"/>
<path d="M1218.1 506.3 L1221.67 506.3 L1225.86 510.49 L1225.86 514.06 L1222.29 514.06 L1218.1 509.87 Z" fill="#501015"/>
<rect x="1225.86" y="514.06" width="7.66" height="7.66" fill="#f2b850"/>
<path d="M1225.86 514.06 L1231.07 514.06 L1233.52 516.51 L1233.52 521.72 L1228.31 521.72 L1225.86 519.27 Z" fill="#c83028"/>
<path d="M1225.86 514.06 L1229.38 514.06 L1233.52 518.19 L1233.52 521.72 L1229.99 521.72 L1225.86 517.58 Z" fill="#501015"/>
<rect x="1233.52" y="521.72" width="7.57" height="7.57" fill="#f2b850"/>
<path d="M1233.52 521.72 L1238.67 521.72 L1241.09 524.14 L1241.09 529.29 L1235.94 529.29 L1233.52 526.87 Z" fill="#c83028"/>
<path d="M1233.52 521.72 L1237 521.72 L1241.09 525.81 L1241.09 529.29 L1237.61 529.29 L1233.52 525.2 Z" fill="#501015"/>
<rect x="1241.09" y="529.29" width="7.48" height="7.48" fill="#f2b850"/>
<path d="M1241.09 529.29 L1246.18 529.29 L1248.58 531.69 L1248.58 536.78 L1243.49 536.78 L1241.09 534.38 Z" fill="#c83028"/>
<path d="M1241.09 529.29 L1244.54 529.29 L1248.58 533.33 L1248.58 536.78 L1245.13 536.78 L1241.09 532.74 Z" fill="#501015"/>
<rect x="1248.58" y="536.78" width="7.39" height="7.39" fill="#f2b850"/>
<path d="M1248.58 536.78 L1253.6 536.78 L1255.97 539.14 L1255.97 544.17 L1250.94 544.17 L1248.58 541.8 Z" fill="#c83028"/>
<path d="M1248.58 536.78 L1251.98 536.78 L1255.97 540.77 L1255.97 544.17 L1252.57 544.17 L1248.58 540.18 Z" fill="#501015"/>
<rect x="1255.97" y="544.17" width="6.99" height="6.99" fill="#b83026"/>
<path d="M1255.97 544.17 L1260.87 544.17 L1262.96 546.27 L1262.96 551.16 L1258.07 551.16 L1255.97 549.07 Z" fill="#501015"/>
<rect x="1262.96" y="551.16" width="6.89" height="6.89" fill="#b83026"/>
<path d="M1262.96 551.16 L1267.78 551.16 L1269.85 553.23 L1269.85 558.05 L1265.03 558.05 L1262.96 555.98 Z" fill="#501015"/>
<rect x="1269.85" y="558.05" width="6.78" height="6.78" fill="#b83026"/>
<path d="M1269.85 558.05 L1274.59 558.05 L1276.63 560.08 L1276.63 564.83 L1271.88 564.83 L1269.85 562.79 Z" fill="#501015"/>
<rect x="1276.63" y="564.83" width="6.67" height="6.67" fill="#b83026"/>
<path d="M1276.63 564.83 L1281.3 564.83 L1283.3 566.83 L1283.3 571.5 L1278.63 571.5 L1276.63 569.5 Z" fill="#501015"/>
<rect x="1283.3" y="571.5" width="6.56" height="6.56" fill="#b83026"/>
<path d="M1283.3 571.5 L1287.89 571.5 L1289.86 573.47 L1289.86 578.06 L1285.27 578.06 L1283.3 576.09 Z" fill="#501015"/>
<rect x="1289.86" y="578.06" width="6.46" height="6.46" fill="#b83026"/>
<path d="M1289.86 578.06 L1294.38 578.06 L1296.32 580 L1296.32 584.52 L1291.8 584.52 L1289.86 582.58 Z" fill="#501015"/>
<rect x="1296.32" y="584.52" width="6.35" height="6.35" fill="#b83026"/>
<path d="M1296.32 584.52 L1300.76 584.52 L1302.67 586.42 L1302.67 590.87 L1298.22 590.87 L1296.32 588.96 Z" fill="#501015"/>
<rect x="1302.67" y="590.87" width="6.24" height="6.24" fill="#b83026"/>
<path d="M1302.67 590.87 L1307.04 590.87 L1308.91 592.74 L1308.91 597.11 L1304.54 597.11 L1302.67 595.24 Z" fill="#501015"/>
<rect x="1308.91" y="597.11" width="6.13" height="6.13" fill="#b83026"/>
<path d="M1308.91 597.11 L1313.2 597.11 L1315.04 598.95 L1315.04 603.24 L1310.75 603.24 L1308.91 601.4 Z" fill="#501015"/>
<rect x="1315.04" y="603.24" width="6.03" height="6.03" fill="#b83026"/>
<path d="M1315.04 603.24 L1319.26 603.24 L1321.07 605.05 L1321.07 609.27 L1316.85 609.27 L1315.04 607.46 Z" fill="#501015"/>
<rect x="1321.07" y="609.27" width="5.92" height="5.92" fill="#b83026"/>
<path d="M1321.07 609.27 L1325.21 609.27 L1326.98 611.04 L1326.98 615.18 L1322.84 615.18 L1321.07 613.41 Z" fill="#501015"/>
<rect x="1326.98" y="615.18" width="5.81" height="5.81" fill="#b83026"/>
<path d="M1326.98 615.18 L1331.05 615.18 L1332.79 616.93 L1332.79 620.99 L1328.73 620.99 L1326.98 619.25 Z" fill="#501015"/>
<rect x="1332.79" y="620.99" width="5.7" height="5.7" fill="#b83026"/>
<path d="M1332.79 620.99 L1336.79 620.99 L1338.5 622.71 L1338.5 626.7 L1334.51 626.7 L1332.79 624.99 Z" fill="#501015"/>
<rect x="1338.5" y="626.7" width="5.6" height="5.6" fill="#b83026"/>
<path d="M1338.5 626.7 L1342.41 626.7 L1344.09 628.38 L1344.09 632.29 L1340.18 632.29 L1338.5 630.61 Z" fill="#501015"/>
<rect x="1344.09" y="632.29" width="5.4" height="5.4" fill="#b83026"/>
<path d="M1344.09 632.29 L1347.87 632.29 L1349.49 633.91 L1349.49 637.69 L1345.71 637.69 L1344.09 636.07 Z" fill="#501015"/>
<rect x="1349.49" y="637.69" width="5.3" height="5.3" fill="#b83026"/>
<path d="M1349.49 637.69 L1353.2 637.69 L1354.79 639.28 L1354.79 642.99 L1351.08 642.99 L1349.49 641.4 Z" fill="#501015"/>
<rect x="1354.79" y="642.99" width="5.21" height="5.21" fill="#b83026"/>
<path d="M1354.79 642.99 L1358.43 642.99 L1359.99 644.55 L1359.99 648.19 L1356.35 648.19 L1354.79 646.63 Z" fill="#501015"/>
<rect x="1359.99" y="648.19" width="5.11" height="5.11" fill="#b83026"/>
<path d="M1359.99 648.19 L1363.57 648.19 L1365.11 649.73 L1365.11 653.31 L1361.53 653.31 L1359.99 651.77 Z" fill="#501015"/>
<rect x="1365.11" y="653.31" width="5.02" height="5.02" fill="#b83026"/>
<path d="M1365.11 653.31 L1368.62 653.31 L1370.12 654.81 L1370.12 658.32 L1366.61 658.32 L1365.11 656.82 Z" fill="#501015"/>
<rect x="1370.12" y="658.32" width="4.92" height="4.92" fill="#b83026"/>
<path d="M1370.12 658.32 L1373.57 658.32 L1375.04 659.8 L1375.04 663.24 L1371.6 663.24 L1370.12 661.77 Z" fill="#501015"/>
<rect x="1375.04" y="663.24" width="4.83" height="4.83" fill="#b83026"/>
<path d="M1375.04 663.24 L1378.42 663.24 L1379.87 664.69 L1379.87 668.07 L1376.49 668.07 L1375.04 666.62 Z" fill="#501015"/>
<rect x="1379.87" y="668.07" width="4.73" height="4.73" fill="#b83026"/>
<path d="M1379.87 668.07 L1383.18 668.07 L1384.6 669.49 L1384.6 672.8 L1381.29 672.8 L1379.87 671.38 Z" fill="#501015"/>
<rect x="1384.6" y="672.8" width="4.64" height="4.64" fill="#b83026"/>
<path d="M1384.6 672.8 L1387.85 672.8 L1389.24 674.2 L1389.24 677.44 L1386 677.44 L1384.6 676.05 Z" fill="#501015"/>
<rect x="1389.24" y="677.44" width="4.54" height="4.54" fill="#b83026"/>
<path d="M1389.24 677.44 L1392.42 677.44 L1393.79 678.81 L1393.79 681.99 L1390.61 681.99 L1389.24 680.62 Z" fill="#501015"/>
<rect x="1393.79" y="681.99" width="4.45" height="4.45" fill="#b83026"/>
<path d="M1393.79 681.99 L1396.9 681.99 L1398.23 683.32 L1398.23 686.43 L1395.12 686.43 L1393.79 685.1 Z" fill="#501015"/>
<rect x="1398.23" y="686.43" width="4.35" height="4.35" fill="#b83026"/>
<path d="M1398.23 686.43 L1401.28 686.43 L1402.59 687.74 L1402.59 690.79 L1399.54 690.79 L1398.23 689.48 Z" fill="#501015"/>
<rect x="1402.59" y="690.79" width="4.26" height="4.26" fill="#b83026"/>
<path d="M1402.59 690.79 L1405.57 690.79 L1406.85 692.07 L1406.85 695.05 L1403.87 695.05 L1402.59 693.77 Z" fill="#501015"/>
<rect x="1406.85" y="695.05" width="4.16" height="4.16" fill="#b83026"/>
<path d="M1406.85 695.05 L1409.76 695.05 L1411.01 696.3 L1411.01 699.21 L1408.1 699.21 L1406.85 697.96 Z" fill="#501015"/>
<rect x="1411.01" y="699.21" width="4.07" height="4.07" fill="#b83026"/>
<path d="M1411.01 699.21 L1413.86 699.21 L1415.08 700.43 L1415.08 703.28 L1412.23 703.28 L1411.01 702.06 Z" fill="#501015"/>
<rect x="1415.08" y="703.28" width="3.98" height="3.98" fill="#501015"/>
<rect x="1419.06" y="707.26" width="3.88" height="3.88" fill="#501015"/>
<rect x="1422.94" y="711.14" width="3.79" height="3.79" fill="#501015"/>
<rect x="1426.72" y="714.92" width="3.69" height="3.69" fill="#501015"/>
<rect x="1430.42" y="718.62" width="3.6" height="3.6" fill="#501015"/>
<rect x="1434.01" y="722.21" width="2" height="2" fill="#501015"/>
<rect x="1436.01" y="724.21" width="1.86" height="1.86" fill="#501015"/>
<rect x="1437.87" y="726.07" width="1.73" height="1.73" fill="#501015"/>
<rect x="1439.6" y="727.8" width="1.59" height="1.59" fill="#501015"/>
<rect x="1441.19" y="729.39" width="1.45" height="1.45" fill="#501015"/>
<rect x="1442.64" y="730.84" width="1.32" height="1.32" fill="#501015"/>
<rect x="1443.96" y="732.16" width="1.18" height="1.18" fill="#501015"/>
<rect x="1445.14" y="733.34" width="1.04" height="1.04" fill="#501015"/>
<rect x="1446.18" y="734.38" width="0.91" height="0.91" fill="#501015"/>
<rect x="1447.09" y="735.29" width="0.77" height="0.77" fill="#501015"/>
<rect x="1447.86" y="736.06" width="0.64" height="0.64" fill="#501015"/>
<rect x="1448.5" y="736.7" width="0.5" height="0.5" fill="#501015"/>
<path d="M1450.1 55.1 C1452 65.68 1458.12 101.65 1461.5 118.6 C1464.88 135.55 1467.22 143.23 1470.4 156.8 C1473.58 170.37 1477 183.9 1480.6 200 C1484.2 216.1 1488.4 238.57 1492 253.4 C1495.6 268.23 1499.02 277.13 1502.2 289 C1505.38 300.87 1507.92 311.47 1511.1 324.6 C1514.28 337.73 1517.92 354.23 1521.3 367.8 C1524.68 381.37 1527.8 392.87 1531.4 406 C1535 419.13 1539.08 433.05 1542.9 446.6 C1546.72 460.15 1550.48 474.58 1554.3 487.3 C1558.12 500.02 1561.98 509.77 1565.8 522.9 C1569.62 536.03 1573.57 553.47 1577.2 566.1 C1580.83 578.73 1584.4 588.85 1587.6 598.7 C1590.8 608.55 1594.08 619.98 1596.4 625.2 C1598.72 630.42 1599.88 628.38 1601.5 630 C1603.12 631.62 1604.45 631.45 1606.1 634.9 C1607.75 638.35 1609.72 645.57 1611.4 650.7 C1613.08 655.83 1614.3 659.98 1616.2 665.7 C1618.1 671.42 1620.52 678.55 1622.8 685 C1625.08 691.45 1627.55 698.52 1629.9 704.4 C1632.25 710.28 1634.7 716.03 1636.9 720.3 C1639.1 724.57 1640.75 727.52 1643.1 730 C1645.45 732.48 1648.85 734.13 1651 735.2 C1653.15 736.27 1655.17 736.2 1656 736.4" fill="none" stroke="#8a2418" stroke-width="2.1"/>
<rect x="1598.6" y="627.4" width="5.7" height="5.2" fill="#7a1a14"/>
<path d="M766.9 738.1 C777.48 740 813.45 746.12 830.4 749.5 C847.35 752.88 855.03 755.22 868.6 758.4 C882.17 761.58 895.7 765 911.8 768.6 C927.9 772.2 950.37 776.4 965.2 780 C980.03 783.6 988.93 787.02 1000.8 790.2 C1012.67 793.38 1023.27 795.92 1036.4 799.1 C1049.53 802.28 1066.03 805.92 1079.6 809.3 C1093.17 812.68 1104.67 815.8 1117.8 819.4 C1130.93 823 1144.85 827.08 1158.4 830.9 C1171.95 834.72 1186.38 838.48 1199.1 842.3 C1211.82 846.12 1221.57 849.98 1234.7 853.8 C1247.83 857.62 1265.27 861.57 1277.9 865.2 C1290.53 868.83 1300.65 872.4 1310.5 875.6 C1320.35 878.8 1331.78 882.08 1337 884.4 C1342.22 886.72 1340.18 887.88 1341.8 889.5 C1343.42 891.12 1343.25 892.45 1346.7 894.1 C1350.15 895.75 1357.37 897.72 1362.5 899.4 C1367.63 901.08 1371.78 902.3 1377.5 904.2 C1383.22 906.1 1390.35 908.52 1396.8 910.8 C1403.25 913.08 1410.32 915.55 1416.2 917.9 C1422.08 920.25 1427.83 922.7 1432.1 924.9 C1436.37 927.1 1439.32 928.75 1441.8 931.1 C1444.28 933.45 1445.93 936.85 1447 939 C1448.07 941.15 1448 943.17 1448.2 944" fill="none" stroke="#8a2418" stroke-width="2.1"/>
<rect x="1339.2" y="886.6" width="5.2" height="5.7" fill="#7a1a14"/>
<line x1="1449" y1="737" x2="1656.6" y2="945" stroke="#c04a20" stroke-width="1.6"/>
<rect x="1597.5" y="886.5" width="6.5" height="6.5" fill="#6a1414"/>
<rect x="766.3" y="54.5" width="890.3" height="890.5" fill="none" stroke="#222" stroke-width="1.3"/>
<line x1="1449" y1="54.5" x2="1449" y2="945" stroke="#222" stroke-width="1.3"/>
<line x1="766.3" y1="737" x2="1656.6" y2="737" stroke="#222" stroke-width="1.3"/>
<text x="769.65" y="44.5" font-size="26.9">Chr 1</text>
<text x="1371.04" y="44.5" font-size="26.9">Chr 94</text>
<text x="1482.65" y="44.5" font-size="26.9">Cluster 1–94</text>
<text x="757" y="119.22" font-size="26.9" transform="rotate(-90 757 119.22)">Chr 1</text>
<text x="757.5" y="731.15" font-size="26.9" transform="rotate(-90 757.5 731.15)">Chr 94</text>
<text x="757.5" y="909.56" font-size="26.9" transform="rotate(-90 757.5 909.56)">Cluster 1–94</text>
<text x="785.09" y="929.3" font-size="26.9">Smic1.0; bin size: 250 kb</text>
<defs><linearGradient id="cbar" x1="0" y1="0" x2="1" y2="0"><stop offset="0" stop-color="#ffffff"/><stop offset="0.05" stop-color="#fdf4e2"/><stop offset="0.1" stop-color="#fbe8c4"/><stop offset="0.15" stop-color="#f6daa5"/><stop offset="0.2" stop-color="#f2cc86"/><stop offset="0.25" stop-color="#edbc69"/><stop offset="0.3" stop-color="#e9ac4c"/><stop offset="0.35" stop-color="#e49c39"/><stop offset="0.4" stop-color="#e18d37"/><stop offset="0.45" stop-color="#dd7f34"/><stop offset="0.5" stop-color="#d97032"/><stop offset="0.55" stop-color="#d65f31"/><stop offset="0.6" stop-color="#d24f30"/><stop offset="0.65" stop-color="#d0412e"/><stop offset="0.7" stop-color="#cd332b"/><stop offset="0.75" stop-color="#c32829"/><stop offset="0.8" stop-color="#ac2326"/><stop offset="0.85" stop-color="#961e23"/><stop offset="0.9" stop-color="#7e191e"/><stop offset="0.95" stop-color="#67151a"/><stop offset="1" stop-color="#4f1015"/></linearGradient></defs>
<rect x="1515.5" y="993.5" width="94" height="17.5" fill="url(#cbar)" stroke="#111" stroke-width="1.2"/>
<text x="1503" y="980" font-size="26.9">0</text>
<text x="1573.28" y="980" font-size="26.9">0.012</text>
<text x="1494.12" y="1041.4" font-size="26.9">Hi-C count</text>
<path d="M1669.6 55.5 L1670.38 55.5 L1670.59 56.4 L1671 57.3 L1670.02 58.2 L1670.41 59.1 L1671.59 60 L1671.34 60.9 L1671.02 61.8 L1671.02 62.7 L1670.84 63.6 L1671.07 64.5 L1671.21 65.4 L1670.48 66.3 L1671.38 67.2 L1671.15 68.1 L1671.14 69 L1670.63 69.9 L1670.71 70.8 L1671.41 71.7 L1670.22 72.6 L1671.54 73.5 L1671 74.4 L1670.81 75.3 L1670.56 76.2 L1670.93 77.1 L1671.09 78 L1671.37 78.9 L1671.07 79.8 L1671.38 80.7 L1671.45 81.6 L1671.14 82.5 L1671.33 83.4 L1670.46 84.3 L1671.37 85.2 L1670.14 86.1 L1670.66 87 L1670.47 87.9 L1671.4 88.8 L1670.98 89.7 L1671.15 90.6 L1671.41 91.5 L1670.81 92.4 L1670.5 93.3 L1670.96 94.2 L1670.32 95.1 L1670.98 96 L1670.07 96.9 L1670.5 97.8 L1671.43 98.7 L1670.74 99.6 L1671.03 100.5 L1670.89 101.4 L1671.5 102.3 L1670.69 103.2 L1670.38 104.1 L1671.56 105 L1674.95 105.9 L1676.01 106.8 L1671.01 107.7 L1671 108.6 L1671.09 109.5 L1671.13 110.4 L1670.04 111.3 L1671.08 112.2 L1670.4 113.1 L1670.95 114 L1670.58 114.9 L1670.59 115.8 L1670.48 116.7 L1676.08 117.6 L1671.18 118.5 L1670.36 119.4 L1670.38 120.3 L1670.7 121.2 L1670.16 122.1 L1670.53 123 L1670.7 123.9 L1670.27 124.8 L1671.04 125.7 L1670.72 126.6 L1670.19 127.5 L1670.31 128.4 L1671.34 129.3 L1670.45 130.2 L1671.03 131.1 L1670.55 132 L1670.47 132.9 L1670.43 133.8 L1670.67 134.7 L1670.66 135.6 L1676.97 136.5 L1671.41 137.4 L1670.69 138.3 L1671.48 139.2 L1671.19 140.1 L1671.06 141 L1670.46 141.9 L1670.36 142.8 L1670.94 143.7 L1671.3 144.6 L1671.45 145.5 L1671.48 146.4 L1671.44 147.3 L1670.02 148.2 L1670.27 149.1 L1671.06 150 L1670.66 150.9 L1670.98 151.8 L1670.4 152.7 L1670.76 153.6 L1670.56 154.5 L1670.86 155.4 L1670.27 156.3 L1671.47 157.2 L1676.46 158.1 L1671.38 159 L1670.43 159.9 L1670.84 160.8 L1670.76 161.7 L1670 162.6 L1670.2 163.5 L1670.11 164.4 L1671.37 165.3 L1670.8 166.2 L1670.5 167.1 L1671.04 168 L1670.58 168.9 L1670.53 169.8 L1670.89 170.7 L1670.61 171.6 L1670.29 172.5 L1670.97 173.4 L1670.61 174.3 L1671 175.2 L1670.6 176.1 L1671.12 177 L1671.11 177.9 L1670.39 178.8 L1671.11 179.7 L1670.68 180.6 L1671.41 181.5 L1670.6 182.4 L1671.27 183.3 L1670.74 184.2 L1671.3 185.1 L1671.42 186 L1671.07 186.9 L1670.9 187.8 L1673.66 188.7 L1671.24 189.6 L1670.15 190.5 L1671.41 191.4 L1670.04 192.3 L1670.19 193.2 L1671.08 194.1 L1671.52 195 L1671.28 195.9 L1671.23 196.8 L1671.14 197.7 L1671.2 198.6 L1670.1 199.5 L1670.9 200.4 L1670.39 201.3 L1670.4 202.2 L1671.21 203.1 L1670.59 204 L1670.56 204.9 L1670.13 205.8 L1671.56 206.7 L1671.2 207.6 L1671.11 208.5 L1671.08 209.4 L1670.77 210.3 L1671.44 211.2 L1670.15 212.1 L1671.47 213 L1670.71 213.9 L1670.3 214.8 L1670.32 215.7 L1670.5 216.6 L1671.11 217.5 L1670.47 218.4 L1670.66 219.3 L1670.94 220.2 L1674.75 221.1 L1670.61 222 L1670.58 222.9 L1671.24 223.8 L1671.59 224.7 L1670.96 225.6 L1671.34 226.5 L1670.89 227.4 L1671.15 228.3 L1670.64 229.2 L1671.54 230.1 L1670.37 231 L1671.15 231.9 L1671.53 232.8 L1670.39 233.7 L1670.41 234.6 L1671.13 235.5 L1671.44 236.4 L1671.38 237.3 L1670.68 238.2 L1670.14 239.1 L1671.33 240 L1670.57 240.9 L1674.75 241.8 L1670.7 242.7 L1670.34 243.6 L1671.53 244.5 L1670.87 245.4 L1670.44 246.3 L1670.18 247.2 L1671.45 248.1 L1671.51 249 L1671.24 249.9 L1670.47 250.8 L1671.05 251.7 L1670.42 252.6 L1671.54 253.5 L1670.86 254.4 L1670.79 255.3 L1671.15 256.2 L1670.91 257.1 L1671.03 258 L1670.29 258.9 L1671.05 259.8 L1671.49 260.7 L1670.53 261.6 L1670.96 262.5 L1671.04 263.4 L1670.5 264.3 L1670.11 265.2 L1671.21 266.1 L1671.18 267 L1670.43 267.9 L1671.4 268.8 L1670.81 269.7 L1671.23 270.6 L1670.53 271.5 L1670.87 272.4 L1670.56 273.3 L1670.18 274.2 L1670.16 275.1 L1671.25 276 L1670.3 276.9 L1670.67 277.8 L1671.31 278.7 L1670.95 279.6 L1670.64 280.5 L1670.84 281.4 L1670.32 282.3 L1671.25 283.2 L1671.29 284.1 L1671.52 285 L1670.88 285.9 L1671.01 286.8 L1671.1 287.7 L1671.38 288.6 L1670.96 289.5 L1670 290.4 L1671.06 291.3 L1670.84 292.2 L1670.31 293.1 L1670.06 294 L1671.03 294.9 L1670.91 295.8 L1671.43 296.7 L1671.27 297.6 L1670.08 298.5 L1670.37 299.4 L1670.86 300.3 L1670.52 301.2 L1671.11 302.1 L1671.37 303 L1671.48 303.9 L1671.18 304.8 L1671.29 305.7 L1671.38 306.6 L1671.21 307.5 L1670.17 308.4 L1670.12 309.3 L1670.26 310.2 L1671.12 311.1 L1670.68 312 L1670.49 312.9 L1671.21 313.8 L1670.29 314.7 L1671.15 315.6 L1670.59 316.5 L1670.95 317.4 L1670 318.3 L1671.25 319.2 L1670.74 320.1 L1670.33 321 L1670.65 321.9 L1670.04 322.8 L1670.27 323.7 L1674.34 324.6 L1670.65 325.5 L1670.08 326.4 L1677.46 327.3 L1670.35 328.2 L1670.76 329.1 L1671 330 L1670.2 330.9 L1671.16 331.8 L1671.26 332.7 L1671.49 333.6 L1670.4 334.5 L1671.3 335.4 L1670.55 336.3 L1671.09 337.2 L1673.1 338.1 L1670.14 339 L1670.06 339.9 L1671.05 340.8 L1670.32 341.7 L1670.76 342.6 L1671.47 343.5 L1670.05 344.4 L1670.97 345.3 L1670.14 346.2 L1671.36 347.1 L1670.62 348 L1671.09 348.9 L1670.28 349.8 L1671.17 350.7 L1670.89 351.6 L1670.58 352.5 L1670.37 353.4 L1670.77 354.3 L1670.27 355.2 L1670.97 356.1 L1670.62 357 L1670.25 357.9 L1670.04 358.8 L1671.21 359.7 L1670.16 360.6 L1671.35 361.5 L1671.41 362.4 L1670.72 363.3 L1671.17 364.2 L1670.59 365.1 L1670.64 366 L1670.17 366.9 L1670.18 367.8 L1671.04 368.7 L1670.08 369.6 L1671.03 370.5 L1670.02 371.4 L1671.55 372.3 L1670.9 373.2 L1671.25 374.1 L1671.26 375 L1670.3 375.9 L1670.13 376.8 L1677.01 377.7 L1670.32 378.6 L1670.14 379.5 L1670.36 380.4 L1670.98 381.3 L1671.22 382.2 L1670.55 383.1 L1670.71 384 L1671.34 384.9 L1671.3 385.8 L1670.86 386.7 L1671.16 387.6 L1670.55 388.5 L1670.11 389.4 L1671.18 390.3 L1671.04 391.2 L1670.34 392.1 L1671.59 393 L1670.69 393.9 L1670.35 394.8 L1671.49 395.7 L1671.4 396.6 L1670.98 397.5 L1670.86 398.4 L1671.52 399.3 L1671.52 400.2 L1671.24 401.1 L1671.6 402 L1670.47 402.9 L1670.3 403.8 L1671.16 404.7 L1670.83 405.6 L1670.06 406.5 L1670.44 407.4 L1670.55 408.3 L1671.19 409.2 L1670.17 410.1 L1670.66 411 L1670.25 411.9 L1671.12 412.8 L1671.57 413.7 L1670.6 414.6 L1670.5 415.5 L1670.84 416.4 L1670.58 417.3 L1670.46 418.2 L1671.42 419.1 L1670.48 420 L1673.95 420.9 L1670.85 421.8 L1670.27 422.7 L1670.33 423.6 L1670.75 424.5 L1671.26 425.4 L1670.06 426.3 L1670.02 427.2 L1670.54 428.1 L1670.87 429 L1670.5 429.9 L1671.28 430.8 L1670.42 431.7 L1670.69 432.6 L1671.08 433.5 L1671.29 434.4 L1670.22 435.3 L1671.26 436.2 L1671.33 437.1 L1670.45 438 L1670.03 438.9 L1671.44 439.8 L1670.75 440.7 L1671.49 441.6 L1670.96 442.5 L1670.83 443.4 L1670.29 444.3 L1671.59 445.2 L1670.65 446.1 L1670.73 447 L1670.72 447.9 L1670.25 448.8 L1670.84 449.7 L1671.36 450.6 L1671.49 451.5 L1670.05 452.4 L1670.88 453.3 L1670.45 454.2 L1671.46 455.1 L1671.07 456 L1670.82 456.9 L1671.54 457.8 L1670.31 458.7 L1670.29 459.6 L1671.33 460.5 L1670.43 461.4 L1671.51 462.3 L1670.63 463.2 L1670.21 464.1 L1671.57 465 L1670.37 465.9 L1670.13 466.8 L1671.19 467.7 L1671.01 468.6 L1670.01 469.5 L1671.54 470.4 L1670.43 471.3 L1670.43 472.2 L1670.08 473.1 L1671.53 474 L1671.45 474.9 L1671.59 475.8 L1671.04 476.7 L1670.09 477.6 L1670.28 478.5 L1671.32 479.4 L1670.08 480.3 L1670.86 481.2 L1670.17 482.1 L1671.58 483 L1670.21 483.9 L1670.2 484.8 L1671.46 485.7 L1670.31 486.6 L1671.6 487.5 L1670.39 488.4 L1671.52 489.3 L1671.13 490.2 L1670.03 491.1 L1671.2 492 L1670.91 492.9 L1670.86 493.8 L1670.86 494.7 L1670.32 495.6 L1671.49 496.5 L1670.29 497.4 L1671.34 498.3 L1670.43 499.2 L1670.08 500.1 L1670.65 501 L1676.53 501.9 L1671.27 502.8 L1671.1 503.7 L1671.23 504.6 L1670.86 505.5 L1670.23 506.4 L1670.52 507.3 L1670.6 508.2 L1670.57 509.1 L1671.57 510 L1671.38 510.9 L1670.46 511.8 L1670.43 512.7 L1670.8 513.6 L1670.55 514.5 L1670.45 515.4 L1670.72 516.3 L1670.85 517.2 L1671.58 518.1 L1670.71 519 L1670.11 519.9 L1671.36 520.8 L1670.09 521.7 L1670.61 522.6 L1670.59 523.5 L1670.88 524.4 L1670.69 525.3 L1671.14 526.2 L1670.48 527.1 L1670.64 528 L1671.04 528.9 L1670.94 529.8 L1670.35 530.7 L1670.98 531.6 L1670.13 532.5 L1675.15 533.4 L1671.47 534.3 L1671.18 535.2 L1671.34 536.1 L1670.71 537 L1670.19 537.9 L1670.61 538.8 L1671.42 539.7 L1670.3 540.6 L1670.96 541.5 L1670.04 542.4 L1670.01 543.3 L1670.29 544.2 L1670.62 545.1 L1670.69 546 L1671.06 546.9 L1670.16 547.8 L1671.11 548.7 L1670.71 549.6 L1671.59 550.5 L1670.02 551.4 L1670.68 552.3 L1671.32 553.2 L1670.67 554.1 L1671.41 555 L1670.63 555.9 L1677.7 556.8 L1670.84 557.7 L1670.14 558.6 L1670.75 559.5 L1670.86 560.4 L1671.57 561.3 L1670.85 562.2 L1670.48 563.1 L1670.21 564 L1670.99 564.9 L1671.23 565.8 L1671.37 566.7 L1670.33 567.6 L1670.69 568.5 L1670.31 569.4 L1670.35 570.3 L1671.5 571.2 L1671.46 572.1 L1670.34 573 L1670.06 573.9 L1670.61 574.8 L1671.33 575.7 L1670.64 576.6 L1670.28 577.5 L1670.42 578.4 L1670.54 579.3 L1670.35 580.2 L1670.9 581.1 L1671.12 582 L1671.07 582.9 L1670.28 583.8 L1670.63 584.7 L1670.96 585.6 L1670.71 586.5 L1671.26 587.4 L1670.78 588.3 L1670.43 589.2 L1671.1 590.1 L1671.31 591 L1670.55 591.9 L1670.77 592.8 L1671.15 593.7 L1671.17 594.6 L1670.17 595.5 L1671.36 596.4 L1670.86 597.3 L1670.71 598.2 L1670.93 599.1 L1670.32 600 L1671.22 600.9 L1670.48 601.8 L1671.42 602.7 L1671.58 603.6 L1671.2 604.5 L1670.02 605.4 L1671.18 606.3 L1670.77 607.2 L1670.4 608.1 L1670.9 609 L1670.18 609.9 L1670.51 610.8 L1670.28 611.7 L1670.31 612.6 L1670.92 613.5 L1670.09 614.4 L1670.32 615.3 L1670.27 616.2 L1670.86 617.1 L1671.39 618 L1670.64 618.9 L1670.44 619.8 L1671.51 620.7 L1671.52 621.6 L1670.69 622.5 L1671.54 623.4 L1670.91 624.3 L1670.32 625.2 L1671.58 626.1 L1671.17 627 L1670.16 627.9 L1671.2 628.8 L1670.73 629.7 L1670.52 630.6 L1670.26 631.5 L1670.43 632.4 L1670.6 633.3 L1671.19 634.2 L1671.1 635.1 L1671.29 636 L1670.87 636.9 L1670.62 637.8 L1670.27 638.7 L1670.34 639.6 L1670.81 640.5 L1671.36 641.4 L1670.6 642.3 L1670.89 643.2 L1671.47 644.1 L1670.25 645 L1671.18 645.9 L1671.18 646.8 L1670.87 647.7 L1670.97 648.6 L1670.22 649.5 L1671.41 650.4 L1670.01 651.3 L1671.26 652.2 L1670.73 653.1 L1670.98 654 L1674.53 654.9 L1671.12 655.8 L1670.05 656.7 L1670.52 657.6 L1670.16 658.5 L1670.62 659.4 L1670.71 660.3 L1670.52 661.2 L1670.72 662.1 L1670.55 663 L1670.67 663.9 L1670.51 664.8 L1670.87 665.7 L1672.6 666.6 L1670.54 667.5 L1670.91 668.4 L1671.22 669.3 L1671.06 670.2 L1670.83 671.1 L1670.49 672 L1671.27 672.9 L1670.16 673.8 L1670.93 674.7 L1670.7 675.6 L1671.6 676.5 L1670.59 677.4 L1670.2 678.3 L1670.77 679.2 L1671.48 680.1 L1670.02 681 L1670.01 681.9 L1671.39 682.8 L1670.08 683.7 L1670.49 684.6 L1670.48 685.5 L1670.21 686.4 L1670.14 687.3 L1670.07 688.2 L1670.31 689.1 L1671.19 690 L1671.23 690.9 L1671.01 691.8 L1671.08 692.7 L1673.88 693.6 L1671.08 694.5 L1670.67 695.4 L1670.9 696.3 L1670.74 697.2 L1670.05 698.1 L1671.18 699 L1670.76 699.9 L1670.57 700.8 L1671.19 701.7 L1670.76 702.6 L1670.54 703.5 L1670.38 704.4 L1670.98 705.3 L1670.29 706.2 L1670.29 707.1 L1670.41 708 L1670.9 708.9 L1670.69 709.8 L1671.17 710.7 L1670.58 711.6 L1670.44 712.5 L1670.37 713.4 L1670.97 714.3 L1671.16 715.2 L1671.23 716.1 L1670.61 717 L1670.69 717.9 L1670.63 718.8 L1671.14 719.7 L1670.31 720.6 L1671.28 721.5 L1671.57 722.4 L1671.24 723.3 L1670.2 724.2 L1671.52 725.1 L1671.37 726 L1670.7 726.9 L1670.34 727.8 L1670.68 728.7 L1670.71 729.6 L1677.15 730.5 L1670.51 731.4 L1671.56 732.3 L1670.14 733.2 L1670.39 734.1 L1671.5 735 L1671.44 735.9 L1670.49 736.8 L1670.87 737.7 L1670.64 738.6 L1670.48 739.5 L1671.49 740.4 L1680.2 741.3 L1682.87 742.2 L1676.63 743.1 L1680.31 744 L1672.38 744.9 L1673.43 745.8 L1686.21 746.7 L1673.66 747.6 L1672.63 748.5 L1674.09 749.4 L1675.37 750.3 L1679.96 751.2 L1672.22 752.1 L1678.44 753 L1672.67 753.9 L1674.82 754.8 L1673.77 755.7 L1674.53 756.6 L1674.29 757.5 L1677.88 758.4 L1676.34 759.3 L1674.01 760.2 L1676.33 761.1 L1673.91 762 L1672.15 762.9 L1674.5 763.8 L1674.36 764.7 L1685.53 765.6 L1672.67 766.5 L1672.98 767.4 L1679.73 768.3 L1676.29 769.2 L1676.48 770.1 L1672.37 771 L1672.63 771.9 L1674.36 772.8 L1676.08 773.7 L1675.48 774.6 L1683.97 775.5 L1681.2 776.4 L1673.5 777.3 L1679.97 778.2 L1672.29 779.1 L1684.43 780 L1675.82 780.9 L1675.93 781.8 L1678.46 782.7 L1683.64 783.6 L1672.74 784.5 L1674.33 785.4 L1683.28 786.3 L1676.1 787.2 L1676.83 788.1 L1676.6 789 L1674.05 789.9 L1675.59 790.8 L1673.78 791.7 L1675.98 792.6 L1672.47 793.5 L1675.75 794.4 L1674.12 795.3 L1677.06 796.2 L1673.86 797.1 L1673.92 798 L1675.35 798.9 L1675.4 799.8 L1675.19 800.7 L1674.72 801.6 L1684.54 802.5 L1673.59 803.4 L1672.46 804.3 L1674.31 805.2 L1673.11 806.1 L1672.76 807 L1678.41 807.9 L1673.1 808.8 L1674.38 809.7 L1673.55 810.6 L1676.16 811.5 L1672.11 812.4 L1682.86 813.3 L1673.69 814.2 L1675.23 815.1 L1674.58 816 L1674.69 816.9 L1672.42 817.8 L1673.92 818.7 L1676.14 819.6 L1681.7 820.5 L1682.69 821.4 L1683.28 822.3 L1673.24 823.2 L1672.81 824.1 L1673.35 825 L1676.19 825.9 L1672.84 826.8 L1684.98 827.7 L1676.31 828.6 L1675.59 829.5 L1676.98 830.4 L1677.07 831.3 L1684.05 832.2 L1674.08 833.1 L1675.9 834 L1680.45 834.9 L1673.94 835.8 L1675.45 836.7 L1675.8 837.6 L1675.58 838.5 L1674.64 839.4 L1676.17 840.3 L1673.88 841.2 L1673.24 842.1 L1672.1 843 L1681.09 843.9 L1674.47 844.8 L1676.52 845.7 L1676.46 846.6 L1672.93 847.5 L1676.27 848.4 L1675.9 849.3 L1673.13 850.2 L1673.15 851.1 L1674.97 852 L1673.88 852.9 L1676.62 853.8 L1673.99 854.7 L1674.28 855.6 L1674.68 856.5 L1677 857.4 L1675.89 858.3 L1673.07 859.2 L1676.21 860.1 L1673.17 861 L1674.72 861.9 L1675.04 862.8 L1675.34 863.7 L1683.58 864.6 L1676.83 865.5 L1675 866.4 L1672.26 867.3 L1675.22 868.2 L1673.65 869.1 L1672.73 870 L1673.39 870.9 L1676.12 871.8 L1675.87 872.7 L1683.58 873.6 L1675.92 874.5 L1672.52 875.4 L1672.16 876.3 L1679.91 877.2 L1676.54 878.1 L1673.67 879 L1673.88 879.9 L1683.88 880.8 L1672.46 881.7 L1682.31 882.6 L1676.4 883.5 L1673.84 884.4 L1676.23 885.3 L1675.23 886.2 L1674.14 887.1 L1680.53 888 L1673.23 888.9 L1681.23 889.8 L1672.94 890.7 L1674.38 891.6 L1684.48 892.5 L1676.54 893.4 L1675.62 894.3 L1673.62 895.2 L1673.09 896.1 L1672.54 897 L1676.52 897.9 L1680.02 898.8 L1673.49 899.7 L1672.4 900.6 L1675.21 901.5 L1677.25 902.4 L1678.12 903.3 L1676.01 904.2 L1676.38 905.1 L1674.88 906 L1675.59 906.9 L1676.95 907.8 L1673.35 908.7 L1672.71 909.6 L1674.98 910.5 L1685.65 911.4 L1676.89 912.3 L1672.73 913.2 L1676.55 914.1 L1674.14 915 L1678.02 915.9 L1685.25 916.8 L1672.25 917.7 L1673.28 918.6 L1676.19 919.5 L1674.45 920.4 L1673.56 921.3 L1672.64 922.2 L1684.59 923.1 L1677.75 924 L1672.24 924.9 L1691.38 925.8 L1693.52 926.7 L1681.67 927.6 L1693.2 928.5 L1690.67 929.4 L1689.58 930.3 L1694.57 931.2 L1689.49 932.1 L1694.62 933 L1696.53 933.9 L1694.87 934.8 L1683.51 935.7 L1696.57 936.6 L1693.25 937.5 L1687.39 938.4 L1696.04 939.3 L1684.93 940.2 L1693.3 941.1 L1701.61 942 L1680.05 942.9 L1690.34 943.8 L1669.6 944 Z" fill="#4f7dbb" stroke="#4a78b8" stroke-width="0.6"/>
<path d="M1672.6 740.99H1683.53 M1672.6 744.62H1684.95 M1672.6 750.77H1683.92 M1672.6 754.11H1721.4 M1672.6 756.07H1707.22 M1672.6 757.88H1678.43 M1672.6 786.19H1691.37 M1672.6 791.18H1675.72 M1672.6 795.23H1725.71 M1672.6 797.14H1687.72 M1672.6 798.92H1689.34 M1672.6 801.16H1684.43 M1672.6 806.42H1700.86 M1672.6 814.86H1677.22 M1672.6 818.98H1678.42 M1672.6 826.42H1681.96 M1672.6 837.05H1688.9 M1672.6 840.27H1697.53 M1672.6 851.1H1690.48 M1672.6 852.74H1704.23 M1672.6 865.67H1684.86 M1672.6 871.03H1705.54 M1672.6 878.4H1688.94 M1672.6 885.17H1677.98 M1672.6 888.24H1679.06 M1672.6 890.67H1694.67 M1672.6 896.63H1695.72 M1672.6 898.54H1689.34 M1672.6 900.89H1676.84 M1672.6 904.21H1685.23 M1672.6 908.26H1685.57 M1672.6 911.86H1681.63 M1672.6 914.88H1679.69 M1672.6 919.09H1676.86 M1672.6 920.97H1707.43 M1672.6 930.42H1679.73 M1672.6 932.96H1687.59 M1672.6 936.27H1685.41 M1672.6 939.83H1709.18 M1670.6 109H1675.48 M1670.6 162H1674.87 M1670.6 228H1673.65 M1670.6 287H1672.67 M1670.6 323H1673.91 M1670.6 396H1673.92 M1670.6 456H1673.72 M1670.6 541H1672.89 M1670.6 601H1674.33 M1670.6 640H1673.36 M1670.6 687H1674.89 M1670.6 727H1674.19" stroke="#8fb0dc" stroke-width="1" fill="none"/>
<line x1="1669.6" y1="935.1" x2="1838.1" y2="935.1" stroke="#7a9fd2" stroke-width="1.1"/>
<line x1="1669.6" y1="933.8" x2="1795.5" y2="933.8" stroke="#7a9fd2" stroke-width="1.1"/>
<line x1="1669.6" y1="932.8" x2="1723.6" y2="932.8" stroke="#7a9fd2" stroke-width="1.1"/>
<line x1="1669.6" y1="864.4" x2="1731.2" y2="864.4" stroke="#7a9fd2" stroke-width="1.1"/>
<line x1="1669.6" y1="866.3" x2="1717.4" y2="866.3" stroke="#7a9fd2" stroke-width="1.1"/>
<line x1="1669.6" y1="759.3" x2="1700.9" y2="759.3" stroke="#7a9fd2" stroke-width="1.1"/>
<path d="M1669.5 953.6 V945.8 H1839.8 V953.6" fill="none" stroke="#333" stroke-width="1.3"/>
<text x="1680" y="978.5" font-size="26.9" transform="rotate(-90 1680 978.5)">0</text>
<text x="1847.6" y="1032.06" font-size="26.9" transform="rotate(-90 1847.6 1032.06)">0.001</text>
<text x="1715.89" y="1034.7" font-size="26.9">Read</text>
<text x="1692.49" y="1066.5" font-size="26.9">coverage</text>
<text x="1691.26" y="1097.7" font-size="26.9">per 10 kb</text>
<defs><linearGradient id="g1" gradientUnits="userSpaceOnUse" x1="88.94" y1="1442.76" x2="160.86" y2="1370.84"><stop offset="0" stop-color="#e39638"/><stop offset="0.18" stop-color="#e39538"/><stop offset="0.29" stop-color="#e18f37"/><stop offset="0.36" stop-color="#de8335"/><stop offset="0.4" stop-color="#da7232"/><stop offset="0.43" stop-color="#d55f31"/><stop offset="0.45" stop-color="#d24e30"/><stop offset="0.46" stop-color="#d0432e"/><stop offset="0.47" stop-color="#cf3c2d"/><stop offset="0.47" stop-color="#ce362c"/><stop offset="0.48" stop-color="#cc2d2a"/><stop offset="0.49" stop-color="#5d1318"/><stop offset="0.5" stop-color="#5d1318"/><stop offset="0.51" stop-color="#5d1318"/><stop offset="0.52" stop-color="#cc2d2a"/><stop offset="0.53" stop-color="#ce362c"/><stop offset="0.53" stop-color="#cf3c2d"/><stop offset="0.54" stop-color="#d0432e"/><stop offset="0.55" stop-color="#d24e30"/><stop offset="0.57" stop-color="#d55f31"/><stop offset="0.6" stop-color="#da7232"/><stop offset="0.64" stop-color="#de8335"/><stop offset="0.71" stop-color="#e18f37"/><stop offset="0.82" stop-color="#e39538"/><stop offset="1" stop-color="#e39638"/></linearGradient><linearGradient id="g2" gradientUnits="userSpaceOnUse" x1="88.94" y1="1442.76" x2="160.86" y2="1370.84"><stop offset="0" stop-color="#e49939"/><stop offset="0.18" stop-color="#e39838"/><stop offset="0.29" stop-color="#e29237"/><stop offset="0.36" stop-color="#df8535"/><stop offset="0.4" stop-color="#da7433"/><stop offset="0.43" stop-color="#d66131"/><stop offset="0.45" stop-color="#d24f30"/><stop offset="0.46" stop-color="#d0442e"/><stop offset="0.47" stop-color="#cf3c2d"/><stop offset="0.47" stop-color="#ce372c"/><stop offset="0.48" stop-color="#cc2d2a"/><stop offset="0.49" stop-color="#5d1318"/><stop offset="0.5" stop-color="#5d1318"/><stop offset="0.51" stop-color="#5d1318"/><stop offset="0.52" stop-color="#cc2d2a"/><stop offset="0.53" stop-color="#ce372c"/><stop offset="0.53" stop-color="#cf3c2d"/><stop offset="0.54" stop-color="#d0442e"/><stop offset="0.55" stop-color="#d24f30"/><stop offset="0.57" stop-color="#d66131"/><stop offset="0.6" stop-color="#da7433"/><stop offset="0.64" stop-color="#df8535"/><stop offset="0.71" stop-color="#e29237"/><stop offset="0.82" stop-color="#e39838"/><stop offset="1" stop-color="#e49939"/></linearGradient><linearGradient id="g3" gradientUnits="userSpaceOnUse" x1="88.94" y1="1442.76" x2="160.86" y2="1370.84"><stop offset="0" stop-color="#e49939"/><stop offset="0.18" stop-color="#e39838"/><stop offset="0.29" stop-color="#e29237"/><stop offset="0.36" stop-color="#df8535"/><stop offset="0.4" stop-color="#da7433"/><stop offset="0.43" stop-color="#d66131"/><stop offset="0.45" stop-color="#d24f30"/><stop offset="0.46" stop-color="#d0442e"/><stop offset="0.47" stop-color="#cf3c2d"/><stop offset="0.47" stop-color="#ce372c"/><stop offset="0.48" stop-color="#cc2d2a"/><stop offset="0.49" stop-color="#5d1318"/><stop offset="0.5" stop-color="#5d1318"/><stop offset="0.51" stop-color="#5d1318"/><stop offset="0.52" stop-color="#cc2d2a"/><stop offset="0.53" stop-color="#ce372c"/><stop offset="0.53" stop-color="#cf3c2d"/><stop offset="0.54" stop-color="#d0442e"/><stop offset="0.55" stop-color="#d24f30"/><stop offset="0.57" stop-color="#d66131"/><stop offset="0.6" stop-color="#da7433"/><stop offset="0.64" stop-color="#df8535"/><stop offset="0.71" stop-color="#e29237"/><stop offset="0.82" stop-color="#e39838"/><stop offset="1" stop-color="#e49939"/></linearGradient><linearGradient id="g4" gradientUnits="userSpaceOnUse" x1="101.83" y1="1429.87" x2="147.97" y2="1383.73"><stop offset="0" stop-color="#e29237"/><stop offset="0.17" stop-color="#e08c37"/><stop offset="0.28" stop-color="#dd8135"/><stop offset="0.35" stop-color="#d97032"/><stop offset="0.39" stop-color="#d55d31"/><stop offset="0.42" stop-color="#d24d30"/><stop offset="0.44" stop-color="#d0432e"/><stop offset="0.45" stop-color="#cf3b2d"/><stop offset="0.45" stop-color="#ce362c"/><stop offset="0.47" stop-color="#cc2d2a"/><stop offset="0.48" stop-color="#5d1318"/><stop offset="0.5" stop-color="#5d1318"/><stop offset="0.52" stop-color="#5d1318"/><stop offset="0.53" stop-color="#cc2d2a"/><stop offset="0.55" stop-color="#ce362c"/><stop offset="0.55" stop-color="#cf3b2d"/><stop offset="0.56" stop-color="#d0432e"/><stop offset="0.58" stop-color="#d24d30"/><stop offset="0.61" stop-color="#d55d31"/><stop offset="0.65" stop-color="#d97032"/><stop offset="0.72" stop-color="#dd8135"/><stop offset="0.83" stop-color="#e08c37"/><stop offset="1" stop-color="#e29237"/></linearGradient><linearGradient id="g5" gradientUnits="userSpaceOnUse" x1="109.88" y1="1421.82" x2="139.92" y2="1391.78"><stop offset="0" stop-color="#de8235"/><stop offset="0.17" stop-color="#db7733"/><stop offset="0.27" stop-color="#d76831"/><stop offset="0.34" stop-color="#d45730"/><stop offset="0.38" stop-color="#d14a2f"/><stop offset="0.4" stop-color="#d0402e"/><stop offset="0.42" stop-color="#cf392d"/><stop offset="0.43" stop-color="#ce352c"/><stop offset="0.45" stop-color="#cc2d2a"/><stop offset="0.47" stop-color="#5d1318"/><stop offset="0.5" stop-color="#5d1318"/><stop offset="0.53" stop-color="#5d1318"/><stop offset="0.55" stop-color="#cc2d2a"/><stop offset="0.57" stop-color="#ce352c"/><stop offset="0.58" stop-color="#cf392d"/><stop offset="0.6" stop-color="#d0402e"/><stop offset="0.62" stop-color="#d14a2f"/><stop offset="0.66" stop-color="#d45730"/><stop offset="0.73" stop-color="#d76831"/><stop offset="0.83" stop-color="#db7733"/><stop offset="1" stop-color="#de8235"/></linearGradient><linearGradient id="g6" gradientUnits="userSpaceOnUse" x1="101.83" y1="1429.87" x2="147.97" y2="1383.73"><stop offset="0" stop-color="#e08c37"/><stop offset="0.17" stop-color="#df8736"/><stop offset="0.28" stop-color="#dc7c34"/><stop offset="0.35" stop-color="#d86c32"/><stop offset="0.39" stop-color="#d45a31"/><stop offset="0.42" stop-color="#d14b2f"/><stop offset="0.44" stop-color="#d0412e"/><stop offset="0.45" stop-color="#cf3a2d"/><stop offset="0.45" stop-color="#ce362c"/><stop offset="0.47" stop-color="#cc2d2a"/><stop offset="0.48" stop-color="#5d1318"/><stop offset="0.5" stop-color="#5d1318"/><stop offset="0.52" stop-color="#5d1318"/><stop offset="0.53" stop-color="#cc2d2a"/><stop offset="0.55" stop-color="#ce362c"/><stop offset="0.55" stop-color="#cf3a2d"/><stop offset="0.56" stop-color="#d0412e"/><stop offset="0.58" stop-color="#d14b2f"/><stop offset="0.61" stop-color="#d45a31"/><stop offset="0.65" stop-color="#d86c32"/><stop offset="0.72" stop-color="#dc7c34"/><stop offset="0.83" stop-color="#df8736"/><stop offset="1" stop-color="#e08c37"/></linearGradient><linearGradient id="g7" gradientUnits="userSpaceOnUse" x1="68.32" y1="1463.38" x2="181.48" y2="1350.22"><stop offset="0" stop-color="#e49939"/><stop offset="0.18" stop-color="#e49939"/><stop offset="0.3" stop-color="#e39838"/><stop offset="0.37" stop-color="#e29237"/><stop offset="0.41" stop-color="#df8535"/><stop offset="0.44" stop-color="#da7433"/><stop offset="0.46" stop-color="#d66131"/><stop offset="0.47" stop-color="#d24f30"/><stop offset="0.47" stop-color="#d0442e"/><stop offset="0.48" stop-color="#cf3c2d"/><stop offset="0.48" stop-color="#ce372c"/><stop offset="0.49" stop-color="#cc2d2a"/><stop offset="0.49" stop-color="#5d1318"/><stop offset="0.5" stop-color="#5d1318"/><stop offset="0.51" stop-color="#5d1318"/><stop offset="0.51" stop-color="#cc2d2a"/><stop offset="0.52" stop-color="#ce372c"/><stop offset="0.52" stop-color="#cf3c2d"/><stop offset="0.53" stop-color="#d0442e"/><stop offset="0.53" stop-color="#d24f30"/><stop offset="0.54" stop-color="#d66131"/><stop offset="0.56" stop-color="#da7433"/><stop offset="0.59" stop-color="#df8535"/><stop offset="0.63" stop-color="#e29237"/><stop offset="0.7" stop-color="#e39838"/><stop offset="0.82" stop-color="#e49939"/><stop offset="1" stop-color="#e49939"/></linearGradient><linearGradient id="g8" gradientUnits="userSpaceOnUse" x1="101.83" y1="1429.87" x2="147.97" y2="1383.73"><stop offset="0" stop-color="#d76832"/><stop offset="0.17" stop-color="#d76531"/><stop offset="0.28" stop-color="#d55d31"/><stop offset="0.35" stop-color="#d35230"/><stop offset="0.39" stop-color="#d1482f"/><stop offset="0.42" stop-color="#d0402e"/><stop offset="0.44" stop-color="#cf3a2d"/><stop offset="0.45" stop-color="#ce352c"/><stop offset="0.45" stop-color="#cd322b"/><stop offset="0.47" stop-color="#cc2d2a"/><stop offset="0.48" stop-color="#5d1318"/><stop offset="0.5" stop-color="#5d1318"/><stop offset="0.52" stop-color="#5d1318"/><stop offset="0.53" stop-color="#cc2d2a"/><stop offset="0.55" stop-color="#cd322b"/><stop offset="0.55" stop-color="#ce352c"/><stop offset="0.56" stop-color="#cf3a2d"/><stop offset="0.58" stop-color="#d0402e"/><stop offset="0.61" stop-color="#d1482f"/><stop offset="0.65" stop-color="#d35230"/><stop offset="0.72" stop-color="#d55d31"/><stop offset="0.83" stop-color="#d76531"/><stop offset="1" stop-color="#d76832"/></linearGradient><linearGradient id="g9" gradientUnits="userSpaceOnUse" x1="67.32" y1="1464.38" x2="182.48" y2="1349.22"><stop offset="0" stop-color="#d1492f"/><stop offset="0.18" stop-color="#d1492f"/><stop offset="0.29" stop-color="#d1472f"/><stop offset="0.36" stop-color="#d0422e"/><stop offset="0.4" stop-color="#cf3a2d"/><stop offset="0.43" stop-color="#cd312b"/><stop offset="0.45" stop-color="#cb2a2a"/><stop offset="0.46" stop-color="#c12829"/><stop offset="0.47" stop-color="#ba2628"/><stop offset="0.47" stop-color="#b52527"/><stop offset="0.47" stop-color="#b22427"/><stop offset="0.48" stop-color="#ac2326"/><stop offset="0.48" stop-color="#5d1318"/><stop offset="0.5" stop-color="#5d1318"/><stop offset="0.52" stop-color="#5d1318"/><stop offset="0.52" stop-color="#ac2326"/><stop offset="0.53" stop-color="#b22427"/><stop offset="0.53" stop-color="#b52527"/><stop offset="0.53" stop-color="#ba2628"/><stop offset="0.54" stop-color="#c12829"/><stop offset="0.55" stop-color="#cb2a2a"/><stop offset="0.57" stop-color="#cd312b"/><stop offset="0.6" stop-color="#cf3a2d"/><stop offset="0.64" stop-color="#d0422e"/><stop offset="0.71" stop-color="#d1472f"/><stop offset="0.82" stop-color="#d1492f"/><stop offset="1" stop-color="#d1492f"/></linearGradient><linearGradient id="g10" gradientUnits="userSpaceOnUse" x1="66.82" y1="1464.88" x2="182.98" y2="1348.72"><stop offset="0" stop-color="#cf3e2d"/><stop offset="0.18" stop-color="#cf3e2d"/><stop offset="0.29" stop-color="#cf3c2d"/><stop offset="0.36" stop-color="#ce372c"/><stop offset="0.4" stop-color="#cd302b"/><stop offset="0.43" stop-color="#c9292a"/><stop offset="0.45" stop-color="#be2728"/><stop offset="0.46" stop-color="#b62527"/><stop offset="0.46" stop-color="#b02426"/><stop offset="0.47" stop-color="#ab2326"/><stop offset="0.47" stop-color="#a82225"/><stop offset="0.47" stop-color="#a42125"/><stop offset="0.48" stop-color="#5d1318"/><stop offset="0.5" stop-color="#5d1318"/><stop offset="0.52" stop-color="#5d1318"/><stop offset="0.53" stop-color="#a42125"/><stop offset="0.53" stop-color="#a82225"/><stop offset="0.53" stop-color="#ab2326"/><stop offset="0.54" stop-color="#b02426"/><stop offset="0.54" stop-color="#b62527"/><stop offset="0.55" stop-color="#be2728"/><stop offset="0.57" stop-color="#c9292a"/><stop offset="0.6" stop-color="#cd302b"/><stop offset="0.64" stop-color="#ce372c"/><stop offset="0.71" stop-color="#cf3c2d"/><stop offset="0.82" stop-color="#cf3e2d"/><stop offset="1" stop-color="#cf3e2d"/></linearGradient><linearGradient id="g11" gradientUnits="userSpaceOnUse" x1="118.06" y1="1413.64" x2="131.74" y2="1399.96"><stop offset="0" stop-color="#75171c"/><stop offset="0.14" stop-color="#75171c"/><stop offset="0.23" stop-color="#75171c"/><stop offset="0.29" stop-color="#75171c"/><stop offset="0.32" stop-color="#75171c"/><stop offset="0.35" stop-color="#75171c"/><stop offset="0.38" stop-color="#75171c"/><stop offset="0.43" stop-color="#5d1318"/><stop offset="0.5" stop-color="#5d1318"/><stop offset="0.57" stop-color="#5d1318"/><stop offset="0.62" stop-color="#75171c"/><stop offset="0.65" stop-color="#75171c"/><stop offset="0.68" stop-color="#75171c"/><stop offset="0.71" stop-color="#75171c"/><stop offset="0.77" stop-color="#75171c"/><stop offset="0.86" stop-color="#75171c"/><stop offset="1" stop-color="#75171c"/></linearGradient><linearGradient id="g12" gradientUnits="userSpaceOnUse" x1="774.62" y1="1470.98" x2="902.58" y2="1343.02"><stop offset="0" stop-color="#cc2d2a"/><stop offset="0.16" stop-color="#cc2d2a"/><stop offset="0.26" stop-color="#cc2c2a"/><stop offset="0.32" stop-color="#cc2a2a"/><stop offset="0.36" stop-color="#c52829"/><stop offset="0.39" stop-color="#ba2628"/><stop offset="0.4" stop-color="#b02426"/><stop offset="0.41" stop-color="#a72225"/><stop offset="0.42" stop-color="#a02024"/><stop offset="0.42" stop-color="#9b1f24"/><stop offset="0.43" stop-color="#971e23"/><stop offset="0.43" stop-color="#911d22"/><stop offset="0.44" stop-color="#5d1318"/><stop offset="0.5" stop-color="#5d1318"/><stop offset="0.56" stop-color="#5d1318"/><stop offset="0.57" stop-color="#911d22"/><stop offset="0.57" stop-color="#971e23"/><stop offset="0.58" stop-color="#9b1f24"/><stop offset="0.58" stop-color="#a02024"/><stop offset="0.59" stop-color="#a72225"/><stop offset="0.6" stop-color="#b02426"/><stop offset="0.61" stop-color="#ba2628"/><stop offset="0.64" stop-color="#c52829"/><stop offset="0.68" stop-color="#cc2a2a"/><stop offset="0.74" stop-color="#cc2c2a"/><stop offset="0.84" stop-color="#cc2d2a"/><stop offset="1" stop-color="#cc2d2a"/></linearGradient><linearGradient id="g13" gradientUnits="userSpaceOnUse" x1="822.58" y1="1423.02" x2="854.62" y2="1390.98"><stop offset="0" stop-color="#cf3f2d"/><stop offset="0.16" stop-color="#cf3c2d"/><stop offset="0.26" stop-color="#ce352c"/><stop offset="0.32" stop-color="#cd2e2b"/><stop offset="0.35" stop-color="#c82929"/><stop offset="0.38" stop-color="#bf2728"/><stop offset="0.39" stop-color="#b92628"/><stop offset="0.4" stop-color="#b42527"/><stop offset="0.42" stop-color="#ac2326"/><stop offset="0.44" stop-color="#5d1318"/><stop offset="0.5" stop-color="#5d1318"/><stop offset="0.56" stop-color="#5d1318"/><stop offset="0.58" stop-color="#ac2326"/><stop offset="0.6" stop-color="#b42527"/><stop offset="0.61" stop-color="#b92628"/><stop offset="0.62" stop-color="#bf2728"/><stop offset="0.65" stop-color="#c82929"/><stop offset="0.68" stop-color="#cd2e2b"/><stop offset="0.74" stop-color="#ce352c"/><stop offset="0.84" stop-color="#cf3c2d"/><stop offset="1" stop-color="#cf3f2d"/></linearGradient><linearGradient id="g14" gradientUnits="userSpaceOnUse" x1="749.04" y1="1496.56" x2="928.16" y2="1317.44"><stop offset="0" stop-color="#e7a540"/><stop offset="0.18" stop-color="#e7a540"/><stop offset="0.3" stop-color="#e7a43e"/><stop offset="0.37" stop-color="#e6a03a"/><stop offset="0.42" stop-color="#e39638"/><stop offset="0.44" stop-color="#df8736"/><stop offset="0.46" stop-color="#da7633"/><stop offset="0.47" stop-color="#d76531"/><stop offset="0.48" stop-color="#d45831"/><stop offset="0.48" stop-color="#d24e30"/><stop offset="0.49" stop-color="#d1482f"/><stop offset="0.49" stop-color="#d0452e"/><stop offset="0.49" stop-color="#cf3e2d"/><stop offset="0.49" stop-color="#5d1318"/><stop offset="0.5" stop-color="#5d1318"/><stop offset="0.51" stop-color="#5d1318"/><stop offset="0.51" stop-color="#cf3e2d"/><stop offset="0.51" stop-color="#d0452e"/><stop offset="0.51" stop-color="#d1482f"/><stop offset="0.52" stop-color="#d24e30"/><stop offset="0.52" stop-color="#d45831"/><stop offset="0.53" stop-color="#d76531"/><stop offset="0.54" stop-color="#da7633"/><stop offset="0.56" stop-color="#df8736"/><stop offset="0.58" stop-color="#e39638"/><stop offset="0.63" stop-color="#e6a03a"/><stop offset="0.7" stop-color="#e7a43e"/><stop offset="0.82" stop-color="#e7a540"/><stop offset="1" stop-color="#e7a540"/></linearGradient><linearGradient id="g15" gradientUnits="userSpaceOnUse" x1="815.28" y1="1430.32" x2="861.92" y2="1383.68"><stop offset="0" stop-color="#d1492f"/><stop offset="0.17" stop-color="#d1482f"/><stop offset="0.28" stop-color="#d0442e"/><stop offset="0.35" stop-color="#cf3d2d"/><stop offset="0.39" stop-color="#ce352c"/><stop offset="0.42" stop-color="#cd2e2b"/><stop offset="0.43" stop-color="#c9292a"/><stop offset="0.44" stop-color="#c32829"/><stop offset="0.45" stop-color="#be2728"/><stop offset="0.46" stop-color="#b52527"/><stop offset="0.47" stop-color="#5d1318"/><stop offset="0.5" stop-color="#5d1318"/><stop offset="0.53" stop-color="#5d1318"/><stop offset="0.54" stop-color="#b52527"/><stop offset="0.55" stop-color="#be2728"/><stop offset="0.56" stop-color="#c32829"/><stop offset="0.57" stop-color="#c9292a"/><stop offset="0.58" stop-color="#cd2e2b"/><stop offset="0.61" stop-color="#ce352c"/><stop offset="0.65" stop-color="#cf3d2d"/><stop offset="0.72" stop-color="#d0442e"/><stop offset="0.83" stop-color="#d1482f"/><stop offset="1" stop-color="#d1492f"/></linearGradient><linearGradient id="g16" gradientUnits="userSpaceOnUse" x1="802.39" y1="1443.21" x2="874.81" y2="1370.79"><stop offset="0" stop-color="#df8736"/><stop offset="0.18" stop-color="#df8636"/><stop offset="0.29" stop-color="#de8235"/><stop offset="0.36" stop-color="#db7833"/><stop offset="0.4" stop-color="#d86a32"/><stop offset="0.43" stop-color="#d45a31"/><stop offset="0.45" stop-color="#d24d30"/><stop offset="0.46" stop-color="#d0452e"/><stop offset="0.46" stop-color="#cf3e2d"/><stop offset="0.47" stop-color="#cf3a2d"/><stop offset="0.47" stop-color="#cd332b"/><stop offset="0.48" stop-color="#5d1318"/><stop offset="0.5" stop-color="#5d1318"/><stop offset="0.52" stop-color="#5d1318"/><stop offset="0.53" stop-color="#cd332b"/><stop offset="0.53" stop-color="#cf3a2d"/><stop offset="0.54" stop-color="#cf3e2d"/><stop offset="0.54" stop-color="#d0452e"/><stop offset="0.55" stop-color="#d24d30"/><stop offset="0.57" stop-color="#d45a31"/><stop offset="0.6" stop-color="#d86a32"/><stop offset="0.64" stop-color="#db7833"/><stop offset="0.71" stop-color="#de8235"/><stop offset="0.82" stop-color="#df8636"/><stop offset="1" stop-color="#df8736"/></linearGradient><linearGradient id="g17" gradientUnits="userSpaceOnUse" x1="781.77" y1="1463.83" x2="895.43" y2="1350.17"><stop offset="0" stop-color="#e18d37"/><stop offset="0.18" stop-color="#e18d37"/><stop offset="0.29" stop-color="#e08b36"/><stop offset="0.37" stop-color="#de8435"/><stop offset="0.41" stop-color="#db7833"/><stop offset="0.44" stop-color="#d76831"/><stop offset="0.45" stop-color="#d45831"/><stop offset="0.47" stop-color="#d14b2f"/><stop offset="0.47" stop-color="#d0432e"/><stop offset="0.48" stop-color="#cf3d2d"/><stop offset="0.48" stop-color="#ce392c"/><stop offset="0.48" stop-color="#cd332b"/><stop offset="0.49" stop-color="#5d1318"/><stop offset="0.5" stop-color="#5d1318"/><stop offset="0.51" stop-color="#5d1318"/><stop offset="0.52" stop-color="#cd332b"/><stop offset="0.52" stop-color="#ce392c"/><stop offset="0.52" stop-color="#cf3d2d"/><stop offset="0.53" stop-color="#d0432e"/><stop offset="0.53" stop-color="#d14b2f"/><stop offset="0.55" stop-color="#d45831"/><stop offset="0.56" stop-color="#d76831"/><stop offset="0.59" stop-color="#db7833"/><stop offset="0.63" stop-color="#de8435"/><stop offset="0.71" stop-color="#e08b36"/><stop offset="0.82" stop-color="#e18d37"/><stop offset="1" stop-color="#e18d37"/></linearGradient><linearGradient id="g18" gradientUnits="userSpaceOnUse" x1="823.58" y1="1422.02" x2="853.62" y2="1391.98"><stop offset="0" stop-color="#7e191e"/><stop offset="0.17" stop-color="#7e191e"/><stop offset="0.27" stop-color="#7e191e"/><stop offset="0.34" stop-color="#7e191e"/><stop offset="0.38" stop-color="#7e191e"/><stop offset="0.4" stop-color="#7e191e"/><stop offset="0.42" stop-color="#7e191e"/><stop offset="0.43" stop-color="#7e191e"/><stop offset="0.45" stop-color="#7e191e"/><stop offset="0.47" stop-color="#5d1318"/><stop offset="0.5" stop-color="#5d1318"/><stop offset="0.53" stop-color="#5d1318"/><stop offset="0.55" stop-color="#7e191e"/><stop offset="0.57" stop-color="#7e191e"/><stop offset="0.58" stop-color="#7e191e"/><stop offset="0.6" stop-color="#7e191e"/><stop offset="0.62" stop-color="#7e191e"/><stop offset="0.66" stop-color="#7e191e"/><stop offset="0.73" stop-color="#7e191e"/><stop offset="0.83" stop-color="#7e191e"/><stop offset="1" stop-color="#7e191e"/></linearGradient><linearGradient id="g19" gradientUnits="userSpaceOnUse" x1="815.53" y1="1430.07" x2="861.67" y2="1383.93"><stop offset="0" stop-color="#70171c"/><stop offset="0.17" stop-color="#70171c"/><stop offset="0.28" stop-color="#70171c"/><stop offset="0.35" stop-color="#70171c"/><stop offset="0.39" stop-color="#70171c"/><stop offset="0.42" stop-color="#70171c"/><stop offset="0.44" stop-color="#70171c"/><stop offset="0.45" stop-color="#70171c"/><stop offset="0.45" stop-color="#70171c"/><stop offset="0.47" stop-color="#70171c"/><stop offset="0.48" stop-color="#5d1318"/><stop offset="0.5" stop-color="#5d1318"/><stop offset="0.52" stop-color="#5d1318"/><stop offset="0.53" stop-color="#70171c"/><stop offset="0.55" stop-color="#70171c"/><stop offset="0.55" stop-color="#70171c"/><stop offset="0.56" stop-color="#70171c"/><stop offset="0.58" stop-color="#70171c"/><stop offset="0.61" stop-color="#70171c"/><stop offset="0.65" stop-color="#70171c"/><stop offset="0.72" stop-color="#70171c"/><stop offset="0.83" stop-color="#70171c"/><stop offset="1" stop-color="#70171c"/></linearGradient><linearGradient id="g20" gradientUnits="userSpaceOnUse" x1="802.64" y1="1442.96" x2="874.56" y2="1371.04"><stop offset="0" stop-color="#5d1318"/><stop offset="0.18" stop-color="#5d1318"/><stop offset="0.29" stop-color="#5d1318"/><stop offset="0.36" stop-color="#5d1318"/><stop offset="0.4" stop-color="#5d1318"/><stop offset="0.43" stop-color="#5d1318"/><stop offset="0.45" stop-color="#5d1318"/><stop offset="0.46" stop-color="#5d1318"/><stop offset="0.47" stop-color="#5d1318"/><stop offset="0.47" stop-color="#5d1318"/><stop offset="0.48" stop-color="#5d1318"/><stop offset="0.49" stop-color="#5d1318"/><stop offset="0.5" stop-color="#5d1318"/><stop offset="0.51" stop-color="#5d1318"/><stop offset="0.52" stop-color="#5d1318"/><stop offset="0.53" stop-color="#5d1318"/><stop offset="0.53" stop-color="#5d1318"/><stop offset="0.54" stop-color="#5d1318"/><stop offset="0.55" stop-color="#5d1318"/><stop offset="0.57" stop-color="#5d1318"/><stop offset="0.6" stop-color="#5d1318"/><stop offset="0.64" stop-color="#5d1318"/><stop offset="0.71" stop-color="#5d1318"/><stop offset="0.82" stop-color="#5d1318"/><stop offset="1" stop-color="#5d1318"/></linearGradient><linearGradient id="g21" gradientUnits="userSpaceOnUse" x1="1466.34" y1="1505.96" x2="1665.26" y2="1307.04" gradientTransform="matrix(1 0 0 1.01 0 -10.41)"><stop offset="0" stop-color="#cc2d2a"/><stop offset="0.17" stop-color="#cc2d2a"/><stop offset="0.27" stop-color="#cc2d2a"/><stop offset="0.33" stop-color="#cc2d2a"/><stop offset="0.37" stop-color="#cc2b2a"/><stop offset="0.4" stop-color="#c82929"/><stop offset="0.42" stop-color="#c02728"/><stop offset="0.43" stop-color="#b62527"/><stop offset="0.43" stop-color="#ae2326"/><stop offset="0.44" stop-color="#a82225"/><stop offset="0.44" stop-color="#a32125"/><stop offset="0.44" stop-color="#a02024"/><stop offset="0.44" stop-color="#9a1f24"/><stop offset="0.45" stop-color="#5d1318"/><stop offset="0.5" stop-color="#5d1318"/><stop offset="0.55" stop-color="#5d1318"/><stop offset="0.56" stop-color="#9a1f24"/><stop offset="0.56" stop-color="#a02024"/><stop offset="0.56" stop-color="#a32125"/><stop offset="0.56" stop-color="#a82225"/><stop offset="0.57" stop-color="#ae2326"/><stop offset="0.57" stop-color="#b62527"/><stop offset="0.58" stop-color="#c02728"/><stop offset="0.6" stop-color="#c82929"/><stop offset="0.63" stop-color="#cc2b2a"/><stop offset="0.67" stop-color="#cc2d2a"/><stop offset="0.73" stop-color="#cc2d2a"/><stop offset="0.83" stop-color="#cc2d2a"/><stop offset="1" stop-color="#cc2d2a"/></linearGradient><linearGradient id="g22" gradientUnits="userSpaceOnUse" x1="1475.74" y1="1496.56" x2="1655.86" y2="1316.44" gradientTransform="matrix(1 0 0 1.01 0 -10.41)"><stop offset="0" stop-color="#d86932"/><stop offset="0.18" stop-color="#d86932"/><stop offset="0.3" stop-color="#d76932"/><stop offset="0.37" stop-color="#d76631"/><stop offset="0.41" stop-color="#d55e31"/><stop offset="0.44" stop-color="#d35230"/><stop offset="0.46" stop-color="#d0452e"/><stop offset="0.47" stop-color="#cf3b2d"/><stop offset="0.48" stop-color="#cd332b"/><stop offset="0.48" stop-color="#cc2d2a"/><stop offset="0.48" stop-color="#ca2a2a"/><stop offset="0.49" stop-color="#c62929"/><stop offset="0.49" stop-color="#be2728"/><stop offset="0.49" stop-color="#5d1318"/><stop offset="0.5" stop-color="#5d1318"/><stop offset="0.51" stop-color="#5d1318"/><stop offset="0.51" stop-color="#be2728"/><stop offset="0.51" stop-color="#c62929"/><stop offset="0.52" stop-color="#ca2a2a"/><stop offset="0.52" stop-color="#cc2d2a"/><stop offset="0.52" stop-color="#cd332b"/><stop offset="0.53" stop-color="#cf3b2d"/><stop offset="0.54" stop-color="#d0452e"/><stop offset="0.56" stop-color="#d35230"/><stop offset="0.59" stop-color="#d55e31"/><stop offset="0.63" stop-color="#d76631"/><stop offset="0.7" stop-color="#d76932"/><stop offset="0.82" stop-color="#d86932"/><stop offset="1" stop-color="#d86932"/></linearGradient><linearGradient id="g23" gradientUnits="userSpaceOnUse" x1="1475.74" y1="1496.56" x2="1655.86" y2="1316.44" gradientTransform="matrix(1 0 0 1.01 0 -10.41)"><stop offset="0" stop-color="#ce382c"/><stop offset="0.18" stop-color="#ce382c"/><stop offset="0.3" stop-color="#ce382c"/><stop offset="0.37" stop-color="#ce372c"/><stop offset="0.41" stop-color="#ce352c"/><stop offset="0.44" stop-color="#cd302b"/><stop offset="0.46" stop-color="#cc2a2a"/><stop offset="0.47" stop-color="#c32829"/><stop offset="0.48" stop-color="#bc2628"/><stop offset="0.48" stop-color="#b72527"/><stop offset="0.48" stop-color="#b32427"/><stop offset="0.49" stop-color="#b12426"/><stop offset="0.49" stop-color="#ac2326"/><stop offset="0.49" stop-color="#5d1318"/><stop offset="0.5" stop-color="#5d1318"/><stop offset="0.51" stop-color="#5d1318"/><stop offset="0.51" stop-color="#ac2326"/><stop offset="0.51" stop-color="#b12426"/><stop offset="0.52" stop-color="#b32427"/><stop offset="0.52" stop-color="#b72527"/><stop offset="0.52" stop-color="#bc2628"/><stop offset="0.53" stop-color="#c32829"/><stop offset="0.54" stop-color="#cc2a2a"/><stop offset="0.56" stop-color="#cd302b"/><stop offset="0.59" stop-color="#ce352c"/><stop offset="0.63" stop-color="#ce372c"/><stop offset="0.7" stop-color="#ce382c"/><stop offset="0.82" stop-color="#ce382c"/><stop offset="1" stop-color="#ce382c"/></linearGradient><linearGradient id="g24" gradientUnits="userSpaceOnUse" x1="1547.78" y1="1424.52" x2="1583.82" y2="1388.48" gradientTransform="matrix(1 0 0 1.01 0 -10.41)"><stop offset="0" stop-color="#911d22"/><stop offset="0.14" stop-color="#901d22"/><stop offset="0.23" stop-color="#8c1c21"/><stop offset="0.28" stop-color="#881b20"/><stop offset="0.32" stop-color="#831a1f"/><stop offset="0.34" stop-color="#7f191e"/><stop offset="0.35" stop-color="#7c191e"/><stop offset="0.36" stop-color="#79181d"/><stop offset="0.37" stop-color="#75171c"/><stop offset="0.39" stop-color="#5d1318"/><stop offset="0.5" stop-color="#5d1318"/><stop offset="0.61" stop-color="#5d1318"/><stop offset="0.63" stop-color="#75171c"/><stop offset="0.64" stop-color="#79181d"/><stop offset="0.65" stop-color="#7c191e"/><stop offset="0.66" stop-color="#7f191e"/><stop offset="0.68" stop-color="#831a1f"/><stop offset="0.72" stop-color="#881b20"/><stop offset="0.77" stop-color="#8c1c21"/><stop offset="0.86" stop-color="#901d22"/><stop offset="1" stop-color="#911d22"/></linearGradient><linearGradient id="g25" gradientUnits="userSpaceOnUse" x1="1545.78" y1="1426.52" x2="1585.82" y2="1386.48" gradientTransform="matrix(1 0 0 1.01 0 -10.41)"><stop offset="0" stop-color="#881b20"/><stop offset="0.13" stop-color="#861b20"/><stop offset="0.2" stop-color="#841a1f"/><stop offset="0.25" stop-color="#801a1f"/><stop offset="0.28" stop-color="#7c191e"/><stop offset="0.3" stop-color="#78181d"/><stop offset="0.32" stop-color="#76181d"/><stop offset="0.32" stop-color="#74171c"/><stop offset="0.34" stop-color="#70171c"/><stop offset="0.35" stop-color="#5d1318"/><stop offset="0.5" stop-color="#5d1318"/><stop offset="0.65" stop-color="#5d1318"/><stop offset="0.66" stop-color="#70171c"/><stop offset="0.68" stop-color="#74171c"/><stop offset="0.68" stop-color="#76181d"/><stop offset="0.7" stop-color="#78181d"/><stop offset="0.72" stop-color="#7c191e"/><stop offset="0.75" stop-color="#801a1f"/><stop offset="0.8" stop-color="#841a1f"/><stop offset="0.87" stop-color="#861b20"/><stop offset="1" stop-color="#881b20"/></linearGradient><linearGradient id="g26" gradientUnits="userSpaceOnUse" x1="1544.78" y1="1427.52" x2="1586.82" y2="1385.48" gradientTransform="matrix(1 0 0 1.01 0 -10.41)"><stop offset="0" stop-color="#70171c"/><stop offset="0.12" stop-color="#70161b"/><stop offset="0.19" stop-color="#6e161b"/><stop offset="0.24" stop-color="#6d161b"/><stop offset="0.27" stop-color="#6b161b"/><stop offset="0.29" stop-color="#6a151a"/><stop offset="0.3" stop-color="#69151a"/><stop offset="0.31" stop-color="#68151a"/><stop offset="0.32" stop-color="#67151a"/><stop offset="0.33" stop-color="#5d1318"/><stop offset="0.5" stop-color="#5d1318"/><stop offset="0.67" stop-color="#5d1318"/><stop offset="0.68" stop-color="#67151a"/><stop offset="0.69" stop-color="#68151a"/><stop offset="0.7" stop-color="#69151a"/><stop offset="0.71" stop-color="#6a151a"/><stop offset="0.73" stop-color="#6b161b"/><stop offset="0.76" stop-color="#6d161b"/><stop offset="0.81" stop-color="#6e161b"/><stop offset="0.88" stop-color="#70161b"/><stop offset="1" stop-color="#70171c"/></linearGradient><linearGradient id="g27" gradientUnits="userSpaceOnUse" x1="1555.81" y1="1416.49" x2="1575.79" y2="1396.51" gradientTransform="matrix(1 0 0 1.01 0 -10.41)"><stop offset="0" stop-color="#d24d30"/><stop offset="0.16" stop-color="#d1492f"/><stop offset="0.26" stop-color="#d0412e"/><stop offset="0.32" stop-color="#ce382c"/><stop offset="0.36" stop-color="#cd302b"/><stop offset="0.38" stop-color="#cc2a2a"/><stop offset="0.39" stop-color="#c42829"/><stop offset="0.42" stop-color="#b52527"/><stop offset="0.45" stop-color="#5d1318"/><stop offset="0.5" stop-color="#5d1318"/><stop offset="0.55" stop-color="#5d1318"/><stop offset="0.58" stop-color="#b52527"/><stop offset="0.61" stop-color="#c42829"/><stop offset="0.62" stop-color="#cc2a2a"/><stop offset="0.64" stop-color="#cd302b"/><stop offset="0.68" stop-color="#ce382c"/><stop offset="0.74" stop-color="#d0412e"/><stop offset="0.84" stop-color="#d1492f"/><stop offset="1" stop-color="#d24d30"/></linearGradient><linearGradient id="g28" gradientUnits="userSpaceOnUse" x1="1542.73" y1="1429.57" x2="1588.87" y2="1383.43" gradientTransform="matrix(1 0 0 1.01 0 -10.41)"><stop offset="0" stop-color="#d1492f"/><stop offset="0.17" stop-color="#d1492f"/><stop offset="0.28" stop-color="#d1482f"/><stop offset="0.35" stop-color="#d0442e"/><stop offset="0.39" stop-color="#cf3d2d"/><stop offset="0.42" stop-color="#ce352c"/><stop offset="0.44" stop-color="#cd2e2b"/><stop offset="0.45" stop-color="#c9292a"/><stop offset="0.45" stop-color="#c32829"/><stop offset="0.47" stop-color="#b52527"/><stop offset="0.48" stop-color="#5d1318"/><stop offset="0.5" stop-color="#5d1318"/><stop offset="0.52" stop-color="#5d1318"/><stop offset="0.53" stop-color="#b52527"/><stop offset="0.55" stop-color="#c32829"/><stop offset="0.55" stop-color="#c9292a"/><stop offset="0.56" stop-color="#cd2e2b"/><stop offset="0.58" stop-color="#ce352c"/><stop offset="0.61" stop-color="#cf3d2d"/><stop offset="0.65" stop-color="#d0442e"/><stop offset="0.72" stop-color="#d1482f"/><stop offset="0.83" stop-color="#d1492f"/><stop offset="1" stop-color="#d1492f"/></linearGradient><linearGradient id="g29" gradientUnits="userSpaceOnUse" x1="206.89" y1="2152.11" x2="385.11" y2="1973.89"><stop offset="0" stop-color="#df8836"/><stop offset="0.19" stop-color="#df8836"/><stop offset="0.3" stop-color="#df8736"/><stop offset="0.37" stop-color="#df8736"/><stop offset="0.42" stop-color="#de8435"/><stop offset="0.45" stop-color="#dc7d34"/><stop offset="0.46" stop-color="#da7332"/><stop offset="0.48" stop-color="#d76832"/><stop offset="0.48" stop-color="#d55f31"/><stop offset="0.49" stop-color="#d45731"/><stop offset="0.49" stop-color="#d35230"/><stop offset="0.49" stop-color="#d24f30"/><stop offset="0.49" stop-color="#d1492f"/><stop offset="0.5" stop-color="#5d1318"/><stop offset="0.5" stop-color="#5d1318"/><stop offset="0.5" stop-color="#5d1318"/><stop offset="0.51" stop-color="#d1492f"/><stop offset="0.51" stop-color="#d24f30"/><stop offset="0.51" stop-color="#d35230"/><stop offset="0.51" stop-color="#d45731"/><stop offset="0.52" stop-color="#d55f31"/><stop offset="0.52" stop-color="#d76832"/><stop offset="0.54" stop-color="#da7332"/><stop offset="0.55" stop-color="#dc7d34"/><stop offset="0.58" stop-color="#de8435"/><stop offset="0.63" stop-color="#df8736"/><stop offset="0.7" stop-color="#df8736"/><stop offset="0.81" stop-color="#df8836"/><stop offset="1" stop-color="#df8836"/></linearGradient><linearGradient id="g30" gradientUnits="userSpaceOnUse" x1="206.89" y1="2152.11" x2="385.11" y2="1973.89"><stop offset="0" stop-color="#e8a846"/><stop offset="0.19" stop-color="#e8a846"/><stop offset="0.3" stop-color="#e8a845"/><stop offset="0.37" stop-color="#e7a641"/><stop offset="0.42" stop-color="#e59f39"/><stop offset="0.45" stop-color="#e29338"/><stop offset="0.46" stop-color="#de8435"/><stop offset="0.48" stop-color="#db7633"/><stop offset="0.48" stop-color="#d86b32"/><stop offset="0.49" stop-color="#d66131"/><stop offset="0.49" stop-color="#d55b31"/><stop offset="0.49" stop-color="#d45730"/><stop offset="0.49" stop-color="#d24f30"/><stop offset="0.5" stop-color="#5d1318"/><stop offset="0.5" stop-color="#5d1318"/><stop offset="0.5" stop-color="#5d1318"/><stop offset="0.51" stop-color="#d24f30"/><stop offset="0.51" stop-color="#d45730"/><stop offset="0.51" stop-color="#d55b31"/><stop offset="0.51" stop-color="#d66131"/><stop offset="0.52" stop-color="#d86b32"/><stop offset="0.52" stop-color="#db7633"/><stop offset="0.54" stop-color="#de8435"/><stop offset="0.55" stop-color="#e29338"/><stop offset="0.58" stop-color="#e59f39"/><stop offset="0.63" stop-color="#e7a641"/><stop offset="0.7" stop-color="#e8a845"/><stop offset="0.81" stop-color="#e8a846"/><stop offset="1" stop-color="#e8a846"/></linearGradient><linearGradient id="g31" gradientUnits="userSpaceOnUse" x1="239.87" y1="2119.13" x2="352.13" y2="2006.87"><stop offset="0" stop-color="#e59f3a"/><stop offset="0.18" stop-color="#e59f3a"/><stop offset="0.3" stop-color="#e59e39"/><stop offset="0.37" stop-color="#e49a39"/><stop offset="0.42" stop-color="#e29137"/><stop offset="0.44" stop-color="#de8435"/><stop offset="0.46" stop-color="#db7733"/><stop offset="0.47" stop-color="#d86c32"/><stop offset="0.48" stop-color="#d66231"/><stop offset="0.48" stop-color="#d55c31"/><stop offset="0.49" stop-color="#d45730"/><stop offset="0.49" stop-color="#d24f30"/><stop offset="0.5" stop-color="#5d1318"/><stop offset="0.5" stop-color="#5d1318"/><stop offset="0.5" stop-color="#5d1318"/><stop offset="0.51" stop-color="#d24f30"/><stop offset="0.51" stop-color="#d45730"/><stop offset="0.52" stop-color="#d55c31"/><stop offset="0.52" stop-color="#d66231"/><stop offset="0.53" stop-color="#d86c32"/><stop offset="0.54" stop-color="#db7733"/><stop offset="0.56" stop-color="#de8435"/><stop offset="0.58" stop-color="#e29137"/><stop offset="0.63" stop-color="#e49a39"/><stop offset="0.7" stop-color="#e59e39"/><stop offset="0.82" stop-color="#e59f3a"/><stop offset="1" stop-color="#e59f3a"/></linearGradient><linearGradient id="g32" gradientUnits="userSpaceOnUse" x1="991.53" y1="2085.57" x2="1046.47" y2="2030.63"><stop offset="0" stop-color="#d1482f"/><stop offset="0.15" stop-color="#d0452e"/><stop offset="0.24" stop-color="#cf3d2d"/><stop offset="0.3" stop-color="#cd312b"/><stop offset="0.33" stop-color="#c52929"/><stop offset="0.35" stop-color="#b62527"/><stop offset="0.37" stop-color="#aa2226"/><stop offset="0.38" stop-color="#a12124"/><stop offset="0.38" stop-color="#9c1f24"/><stop offset="0.39" stop-color="#911d22"/><stop offset="0.42" stop-color="#5d1318"/><stop offset="0.5" stop-color="#5d1318"/><stop offset="0.58" stop-color="#5d1318"/><stop offset="0.61" stop-color="#911d22"/><stop offset="0.62" stop-color="#9c1f24"/><stop offset="0.62" stop-color="#a12124"/><stop offset="0.63" stop-color="#aa2226"/><stop offset="0.65" stop-color="#b62527"/><stop offset="0.67" stop-color="#c52929"/><stop offset="0.7" stop-color="#cd312b"/><stop offset="0.76" stop-color="#cf3d2d"/><stop offset="0.85" stop-color="#d0452e"/><stop offset="1" stop-color="#d1482f"/></linearGradient><linearGradient id="g33" gradientUnits="userSpaceOnUse" x1="980.14" y1="2096.96" x2="1057.86" y2="2019.24"><stop offset="0" stop-color="#d24f30"/><stop offset="0.17" stop-color="#d24e30"/><stop offset="0.27" stop-color="#d14a2f"/><stop offset="0.33" stop-color="#d0422e"/><stop offset="0.37" stop-color="#ce372c"/><stop offset="0.4" stop-color="#cc2c2a"/><stop offset="0.42" stop-color="#bf2728"/><stop offset="0.43" stop-color="#b32427"/><stop offset="0.43" stop-color="#aa2326"/><stop offset="0.44" stop-color="#a52125"/><stop offset="0.44" stop-color="#9a1f24"/><stop offset="0.46" stop-color="#5d1318"/><stop offset="0.5" stop-color="#5d1318"/><stop offset="0.54" stop-color="#5d1318"/><stop offset="0.56" stop-color="#9a1f24"/><stop offset="0.56" stop-color="#a52125"/><stop offset="0.57" stop-color="#aa2326"/><stop offset="0.57" stop-color="#b32427"/><stop offset="0.58" stop-color="#bf2728"/><stop offset="0.6" stop-color="#cc2c2a"/><stop offset="0.63" stop-color="#ce372c"/><stop offset="0.67" stop-color="#d0422e"/><stop offset="0.73" stop-color="#d14a2f"/><stop offset="0.83" stop-color="#d24e30"/><stop offset="1" stop-color="#d24f30"/></linearGradient><linearGradient id="g34" gradientUnits="userSpaceOnUse" x1="980.14" y1="2096.96" x2="1057.86" y2="2019.24"><stop offset="0" stop-color="#d24f30"/><stop offset="0.17" stop-color="#d24e30"/><stop offset="0.27" stop-color="#d14a2f"/><stop offset="0.33" stop-color="#d0422e"/><stop offset="0.37" stop-color="#ce372c"/><stop offset="0.4" stop-color="#cc2c2a"/><stop offset="0.42" stop-color="#bf2728"/><stop offset="0.43" stop-color="#b32427"/><stop offset="0.43" stop-color="#aa2326"/><stop offset="0.44" stop-color="#a52125"/><stop offset="0.44" stop-color="#9a1f24"/><stop offset="0.46" stop-color="#5d1318"/><stop offset="0.5" stop-color="#5d1318"/><stop offset="0.54" stop-color="#5d1318"/><stop offset="0.56" stop-color="#9a1f24"/><stop offset="0.56" stop-color="#a52125"/><stop offset="0.57" stop-color="#aa2326"/><stop offset="0.57" stop-color="#b32427"/><stop offset="0.58" stop-color="#bf2728"/><stop offset="0.6" stop-color="#cc2c2a"/><stop offset="0.63" stop-color="#ce372c"/><stop offset="0.67" stop-color="#d0422e"/><stop offset="0.73" stop-color="#d14a2f"/><stop offset="0.83" stop-color="#d24e30"/><stop offset="1" stop-color="#d24f30"/></linearGradient><linearGradient id="g35" gradientUnits="userSpaceOnUse" x1="982.79" y1="2094.31" x2="1055.21" y2="2021.89"><stop offset="0" stop-color="#d55c31"/><stop offset="0.18" stop-color="#d55b31"/><stop offset="0.29" stop-color="#d45730"/><stop offset="0.36" stop-color="#d24e30"/><stop offset="0.4" stop-color="#d0422e"/><stop offset="0.43" stop-color="#ce372c"/><stop offset="0.45" stop-color="#cc2d2a"/><stop offset="0.46" stop-color="#c52829"/><stop offset="0.46" stop-color="#bc2728"/><stop offset="0.47" stop-color="#b72527"/><stop offset="0.47" stop-color="#ac2326"/><stop offset="0.48" stop-color="#5d1318"/><stop offset="0.5" stop-color="#5d1318"/><stop offset="0.52" stop-color="#5d1318"/><stop offset="0.53" stop-color="#ac2326"/><stop offset="0.53" stop-color="#b72527"/><stop offset="0.54" stop-color="#bc2728"/><stop offset="0.54" stop-color="#c52829"/><stop offset="0.55" stop-color="#cc2d2a"/><stop offset="0.57" stop-color="#ce372c"/><stop offset="0.6" stop-color="#d0422e"/><stop offset="0.64" stop-color="#d24e30"/><stop offset="0.71" stop-color="#d45730"/><stop offset="0.82" stop-color="#d55b31"/><stop offset="1" stop-color="#d55c31"/></linearGradient><linearGradient id="g36" gradientUnits="userSpaceOnUse" x1="929.69" y1="2147.41" x2="1108.31" y2="1968.79"><stop offset="0" stop-color="#e18d37"/><stop offset="0.18" stop-color="#e18d37"/><stop offset="0.3" stop-color="#e08d37"/><stop offset="0.37" stop-color="#e08936"/><stop offset="0.42" stop-color="#dd8034"/><stop offset="0.45" stop-color="#d97132"/><stop offset="0.46" stop-color="#d55f31"/><stop offset="0.47" stop-color="#d24f30"/><stop offset="0.48" stop-color="#d0442e"/><stop offset="0.49" stop-color="#cf3c2d"/><stop offset="0.49" stop-color="#ce372c"/><stop offset="0.49" stop-color="#cd332b"/><stop offset="0.49" stop-color="#cc2d2a"/><stop offset="0.5" stop-color="#5d1318"/><stop offset="0.5" stop-color="#5d1318"/><stop offset="0.5" stop-color="#5d1318"/><stop offset="0.51" stop-color="#cc2d2a"/><stop offset="0.51" stop-color="#cd332b"/><stop offset="0.51" stop-color="#ce372c"/><stop offset="0.51" stop-color="#cf3c2d"/><stop offset="0.52" stop-color="#d0442e"/><stop offset="0.53" stop-color="#d24f30"/><stop offset="0.54" stop-color="#d55f31"/><stop offset="0.55" stop-color="#d97132"/><stop offset="0.58" stop-color="#dd8034"/><stop offset="0.63" stop-color="#e08936"/><stop offset="0.7" stop-color="#e08d37"/><stop offset="0.82" stop-color="#e18d37"/><stop offset="1" stop-color="#e18d37"/></linearGradient><linearGradient id="g37" gradientUnits="userSpaceOnUse" x1="1699.62" y1="2118.58" x2="1818.58" y2="1999.62"><stop offset="0" stop-color="#d35630"/><stop offset="0.17" stop-color="#d35530"/><stop offset="0.28" stop-color="#d35330"/><stop offset="0.35" stop-color="#d24d30"/><stop offset="0.39" stop-color="#d0442e"/><stop offset="0.42" stop-color="#ce382c"/><stop offset="0.43" stop-color="#cd2d2b"/><stop offset="0.44" stop-color="#c32829"/><stop offset="0.45" stop-color="#b82627"/><stop offset="0.46" stop-color="#b12426"/><stop offset="0.46" stop-color="#ac2326"/><stop offset="0.46" stop-color="#a42125"/><stop offset="0.47" stop-color="#5d1318"/><stop offset="0.5" stop-color="#5d1318"/><stop offset="0.53" stop-color="#5d1318"/><stop offset="0.54" stop-color="#a42125"/><stop offset="0.54" stop-color="#ac2326"/><stop offset="0.54" stop-color="#b12426"/><stop offset="0.55" stop-color="#b82627"/><stop offset="0.56" stop-color="#c32829"/><stop offset="0.57" stop-color="#cd2d2b"/><stop offset="0.58" stop-color="#ce382c"/><stop offset="0.61" stop-color="#d0442e"/><stop offset="0.65" stop-color="#d24d30"/><stop offset="0.72" stop-color="#d35330"/><stop offset="0.83" stop-color="#d35530"/><stop offset="1" stop-color="#d35630"/></linearGradient><linearGradient id="g38" gradientUnits="userSpaceOnUse" x1="1667.14" y1="2151.06" x2="1851.06" y2="1967.14"><stop offset="0" stop-color="#db7933"/><stop offset="0.18" stop-color="#db7933"/><stop offset="0.29" stop-color="#db7833"/><stop offset="0.36" stop-color="#da7533"/><stop offset="0.41" stop-color="#d86b32"/><stop offset="0.43" stop-color="#d55b31"/><stop offset="0.45" stop-color="#d14a2f"/><stop offset="0.46" stop-color="#cf3d2d"/><stop offset="0.47" stop-color="#cd322b"/><stop offset="0.47" stop-color="#cc2b2a"/><stop offset="0.47" stop-color="#c52829"/><stop offset="0.48" stop-color="#bf2728"/><stop offset="0.48" stop-color="#b52527"/><stop offset="0.49" stop-color="#5d1318"/><stop offset="0.5" stop-color="#5d1318"/><stop offset="0.51" stop-color="#5d1318"/><stop offset="0.52" stop-color="#b52527"/><stop offset="0.52" stop-color="#bf2728"/><stop offset="0.53" stop-color="#c52829"/><stop offset="0.53" stop-color="#cc2b2a"/><stop offset="0.53" stop-color="#cd322b"/><stop offset="0.54" stop-color="#cf3d2d"/><stop offset="0.55" stop-color="#d14a2f"/><stop offset="0.57" stop-color="#d55b31"/><stop offset="0.59" stop-color="#d86b32"/><stop offset="0.64" stop-color="#da7533"/><stop offset="0.71" stop-color="#db7833"/><stop offset="0.82" stop-color="#db7933"/><stop offset="1" stop-color="#db7933"/></linearGradient><linearGradient id="g39" gradientUnits="userSpaceOnUse" x1="1734.13" y1="2084.07" x2="1784.07" y2="2034.13"><stop offset="0" stop-color="#cf3d2d"/><stop offset="0.16" stop-color="#cf3a2d"/><stop offset="0.26" stop-color="#ce342c"/><stop offset="0.32" stop-color="#cc2c2a"/><stop offset="0.36" stop-color="#c12829"/><stop offset="0.39" stop-color="#b62527"/><stop offset="0.4" stop-color="#ad2326"/><stop offset="0.41" stop-color="#a62225"/><stop offset="0.42" stop-color="#a22125"/><stop offset="0.43" stop-color="#9a1f24"/><stop offset="0.45" stop-color="#5d1318"/><stop offset="0.5" stop-color="#5d1318"/><stop offset="0.55" stop-color="#5d1318"/><stop offset="0.57" stop-color="#9a1f24"/><stop offset="0.58" stop-color="#a22125"/><stop offset="0.59" stop-color="#a62225"/><stop offset="0.6" stop-color="#ad2326"/><stop offset="0.61" stop-color="#b62527"/><stop offset="0.64" stop-color="#c12829"/><stop offset="0.68" stop-color="#cc2c2a"/><stop offset="0.74" stop-color="#ce342c"/><stop offset="0.84" stop-color="#cf3a2d"/><stop offset="1" stop-color="#cf3d2d"/></linearGradient><linearGradient id="g40" gradientUnits="userSpaceOnUse" x1="1723.14" y1="2095.06" x2="1795.06" y2="2023.14"><stop offset="0" stop-color="#d55f31"/><stop offset="0.18" stop-color="#d55f31"/><stop offset="0.29" stop-color="#d55b31"/><stop offset="0.36" stop-color="#d35330"/><stop offset="0.4" stop-color="#d1492f"/><stop offset="0.43" stop-color="#d0402e"/><stop offset="0.45" stop-color="#ce372c"/><stop offset="0.46" stop-color="#cd312b"/><stop offset="0.47" stop-color="#cc2d2a"/><stop offset="0.47" stop-color="#cc2a2a"/><stop offset="0.48" stop-color="#c32829"/><stop offset="0.49" stop-color="#5d1318"/><stop offset="0.5" stop-color="#5d1318"/><stop offset="0.51" stop-color="#5d1318"/><stop offset="0.52" stop-color="#c32829"/><stop offset="0.53" stop-color="#cc2a2a"/><stop offset="0.53" stop-color="#cc2d2a"/><stop offset="0.54" stop-color="#cd312b"/><stop offset="0.55" stop-color="#ce372c"/><stop offset="0.57" stop-color="#d0402e"/><stop offset="0.6" stop-color="#d1492f"/><stop offset="0.64" stop-color="#d35330"/><stop offset="0.71" stop-color="#d55b31"/><stop offset="0.82" stop-color="#d55f31"/><stop offset="1" stop-color="#d55f31"/></linearGradient></defs>
<text x="0" y="1151" font-size="31" font-weight="bold">c</text>
<text x="113.86" y="1180.4" font-size="26.9">Chromosome 4</text>
<path d="M101.8 1195 H114.4 V1383.3 H101.8 M101.8 1289.2 H114.4" fill="none" stroke="#333" stroke-width="1.3"/>
<text x="53.62" y="1204.1" font-size="26.9">1.0</text>
<text x="76.08" y="1298.6" font-size="26.9">0</text>
<text x="37.95" y="1391.9" font-size="26.9">−1.0</text>
<text x="23.6" y="1384.36" font-size="26.9" transform="rotate(-90 23.6 1384.36)">Insulation score</text>
<path d="M141.3 1246.6 C142.15 1247.02 144.58 1249.73 146.4 1249.1 C148.22 1248.47 149.93 1246.57 152.2 1242.8 C154.47 1239.03 158.03 1229.63 160 1226.5 C161.97 1223.37 162.5 1224 164 1224 C165.5 1224 167.38 1224.67 169 1226.5 C170.62 1228.33 171.93 1231.97 173.7 1235 C175.47 1238.03 177.45 1242.43 179.6 1244.7 C181.75 1246.97 184.98 1247.63 186.6 1248.6 C188.22 1249.57 187.87 1247.57 189.3 1250.5 C190.73 1253.43 192.92 1260.02 195.2 1266.2 C197.48 1272.38 200.85 1280.45 203 1287.6 C205.15 1294.75 206.45 1298.37 208.1 1309.1 C209.75 1319.83 211.28 1348.75 212.9 1352 C214.52 1355.25 216.2 1335.43 217.8 1328.6 C219.4 1321.77 220.42 1316.85 222.5 1311 C224.58 1305.15 228.02 1298.37 230.3 1293.5 C232.58 1288.63 234.25 1282.97 236.2 1281.8 C238.15 1280.63 239.72 1284.88 242 1286.5 C244.28 1288.12 247.62 1290 249.9 1291.5 C252.18 1293 253.75 1292.57 255.7 1295.5 C257.65 1298.43 259.32 1304.55 261.6 1309.1 C263.88 1313.65 267.45 1318.9 269.4 1322.8 C271.35 1326.7 271.87 1325.8 273.3 1332.5 C274.73 1339.2 276.7 1361.03 278 1363 C279.3 1364.97 279.62 1350.68 281.1 1344.3 C282.58 1337.92 284.3 1330.25 286.9 1324.7 C289.5 1319.15 294.42 1313.72 296.7 1311 C298.98 1308.28 299.3 1308.07 300.6 1308.4 C301.9 1308.73 302.87 1313.87 304.5 1313 C306.13 1312.13 308.12 1305.67 310.4 1303.2 C312.68 1300.73 315.93 1299.82 318.2 1298.2 C320.47 1296.58 322.38 1294.15 324 1293.5 C325.62 1292.85 325.95 1294.63 327.9 1294.3 C329.85 1293.97 333.42 1292.28 335.7 1291.5 C337.98 1290.72 338.98 1289.78 341.6 1289.6 C344.22 1289.42 348.47 1287.15 351.4 1290.4 C354.33 1293.65 356.6 1303.05 359.2 1309.1 C361.8 1315.15 365.05 1321.5 367 1326.7 C368.95 1331.9 369.47 1335.3 370.9 1340.3 C372.33 1345.3 373.98 1358 375.6 1356.7 C377.22 1355.4 378.78 1338.48 380.6 1332.5 C382.42 1326.52 384.53 1325.35 386.5 1320.8 C388.47 1316.25 390.45 1310.4 392.4 1305.2 C394.35 1300 395.93 1292.85 398.2 1289.6 C400.47 1286.35 402.42 1286.03 406 1285.7 C409.58 1285.37 416.45 1285.65 419.7 1287.6 C422.95 1289.55 423.22 1291.87 425.5 1297.4 C427.78 1302.93 431.12 1312.98 433.4 1320.8 C435.68 1328.62 437.58 1337.02 439.2 1344.3 C440.82 1351.58 441.8 1365.82 443.1 1364.5 C444.4 1363.18 445.37 1344.98 447 1336.4 C448.63 1327.82 450.95 1320.15 452.9 1313 C454.85 1305.85 457.08 1297.53 458.7 1293.5 C460.32 1289.47 461.3 1289.32 462.6 1288.8 C463.9 1288.28 465.2 1288.32 466.5 1290.4 C467.8 1292.48 469.1 1296.23 470.4 1301.3 C471.7 1306.37 472.8 1314.95 474.3 1320.8 C475.8 1326.65 477.78 1329.12 479.4 1336.4 C481.02 1343.68 482.57 1363.85 484 1364.5 C485.43 1365.15 486.35 1348.88 488 1340.3 C489.65 1331.72 491.95 1320.15 493.9 1313 C495.85 1305.85 497.43 1301.43 499.7 1297.4 C501.97 1293.37 504.88 1290.43 507.5 1288.8 C510.12 1287.17 512.8 1288.25 515.4 1287.6 C518 1286.95 519.85 1284.57 523.1 1284.9 C526.35 1285.23 531.63 1286.22 534.9 1289.6 C538.17 1292.98 540.1 1299.02 542.7 1305.2 C545.3 1311.38 548.1 1318.37 550.5 1326.7 C552.9 1335.03 555.15 1356.18 557.1 1355.2 C559.05 1354.22 560.38 1330.43 562.2 1320.8 C564.02 1311.17 566.05 1302.8 568 1297.4 C569.95 1292 571.93 1289.05 573.9 1288.4 C575.87 1287.75 578.17 1290.05 579.8 1293.5 C581.43 1296.95 582.08 1302.92 583.7 1309.1 C585.32 1315.28 587.88 1331.9 589.5 1330.6 C591.12 1329.3 591.77 1310.73 593.4 1301.3 C595.03 1291.87 597.35 1282.47 599.3 1274 C601.25 1265.53 603.15 1258.32 605.1 1250.5 C607.05 1242.68 609.37 1231.78 611 1227.1 C612.63 1222.42 613.28 1222.4 614.9 1222.4 C616.52 1222.4 618.75 1224.17 620.7 1227.1 C622.65 1230.03 624.77 1239.68 626.6 1240 C628.43 1240.32 630.07 1230.83 631.7 1229 C633.33 1227.17 634.97 1228.13 636.4 1229 C637.83 1229.87 639 1234.83 640.3 1234.2 C641.6 1233.57 642.58 1228.65 644.2 1225.2 C645.82 1221.75 649.03 1215.45 650 1213.5" fill="none" stroke="#000" stroke-width="2.7" stroke-linejoin="round" stroke-linecap="round"/>
<text x="832.36" y="1180.4" font-size="26.9">Chromosome 26</text>
<path d="M814.3 1195 H826.9 V1383.3 H814.3 M814.3 1289.2 H826.9" fill="none" stroke="#333" stroke-width="1.3"/>
<text x="766.12" y="1204.1" font-size="26.9">1.0</text>
<text x="788.58" y="1298.6" font-size="26.9">0</text>
<text x="750.45" y="1391.9" font-size="26.9">−1.0</text>
<text x="736.3" y="1384.36" font-size="26.9" transform="rotate(-90 736.3 1384.36)">Insulation score</text>
<path d="M865.84 1228.46 C866.85 1229.6 870.06 1235.29 871.87 1235.29 C873.67 1235.29 875.21 1230.4 876.69 1228.46 C878.16 1226.52 879.5 1223.98 880.7 1223.64 C881.91 1223.31 882.58 1226.79 883.91 1226.45 C885.25 1226.12 886.93 1223.51 888.73 1221.63 C890.54 1219.76 892.95 1216.21 894.76 1215.21 C896.56 1214.2 897.9 1214.07 899.57 1215.61 C901.25 1217.15 902.92 1219.96 904.79 1224.44 C906.67 1228.93 908.81 1239.17 910.82 1242.51 C912.83 1245.86 915.17 1243.52 916.84 1244.52 C918.51 1245.53 919.18 1245.53 920.86 1248.54 C922.53 1251.55 925.01 1258.58 926.88 1262.59 C928.75 1266.61 930.43 1271.63 932.1 1272.63 C933.77 1273.63 935.58 1269.75 936.92 1268.62 C938.26 1267.48 938.79 1265.47 940.13 1265.8 C941.47 1266.14 943.48 1267.81 944.95 1270.62 C946.42 1273.43 947.63 1278.32 948.97 1282.67 C950.3 1287.02 951.31 1294.72 952.98 1296.72 C954.65 1298.73 957.33 1294.72 959 1294.72 C960.68 1294.72 961.35 1294.72 963.02 1296.72 C964.69 1298.73 967.37 1303.08 969.04 1306.76 C970.72 1310.44 971.72 1313.79 973.06 1318.81 C974.4 1323.83 975.74 1335.54 977.08 1336.88 C978.41 1338.22 979.08 1330.86 981.09 1326.84 C983.1 1322.83 986.11 1317.27 989.12 1312.79 C992.13 1308.3 995.81 1303.08 999.16 1299.94 C1002.51 1296.79 1006.19 1295.45 1009.2 1293.91 C1012.21 1292.37 1014.55 1290.7 1017.23 1290.7 C1019.91 1290.7 1022.58 1292.24 1025.26 1293.91 C1027.94 1295.59 1030.62 1298.93 1033.29 1300.74 C1035.97 1302.55 1038.98 1304.09 1041.32 1304.76 C1043.67 1305.42 1045.34 1305.76 1047.35 1304.76 C1049.36 1303.75 1051.03 1300.74 1053.37 1298.73 C1055.71 1296.72 1058.73 1294.05 1061.4 1292.71 C1064.08 1291.37 1066.42 1291.17 1069.43 1290.7 C1072.45 1290.23 1076.8 1289.09 1079.47 1289.9 C1082.15 1290.7 1083.15 1292.71 1085.5 1295.52 C1087.84 1298.33 1090.85 1302.21 1093.53 1306.76 C1096.2 1311.31 1099.22 1317.47 1101.56 1322.83 C1103.9 1328.18 1105.91 1333.07 1107.58 1338.89 C1109.25 1344.71 1110.26 1358.43 1111.6 1357.76 C1112.94 1357.09 1113.94 1341.36 1115.61 1334.87 C1117.29 1328.38 1119.29 1322.83 1121.64 1318.81 C1123.98 1314.79 1127.32 1312.25 1129.67 1310.78 C1132.01 1309.31 1134.02 1309.31 1135.69 1309.98 C1137.36 1310.65 1138.37 1311.98 1139.71 1314.79 C1141.04 1317.61 1142.38 1324.03 1143.72 1326.84 C1145.06 1329.65 1146.4 1331.99 1147.74 1331.66 C1149.08 1331.33 1150.08 1328.31 1151.75 1324.83 C1153.43 1321.35 1155.43 1314.79 1157.78 1310.78 C1160.12 1306.76 1163.46 1304.09 1165.81 1300.74 C1168.15 1297.39 1169.82 1293.58 1171.83 1290.7 C1173.84 1287.82 1176.18 1283.81 1177.85 1283.47 C1179.53 1283.14 1180.2 1285.48 1181.87 1288.69 C1183.54 1291.91 1185.89 1298.06 1187.89 1302.75 C1189.9 1307.43 1191.91 1311.45 1193.92 1316.8 C1195.92 1322.16 1197.93 1329.85 1199.94 1334.87 C1201.95 1339.89 1204.42 1342.44 1205.96 1346.92 C1207.5 1351.4 1207.84 1361.78 1209.18 1361.78 C1210.51 1361.78 1211.85 1352.41 1213.99 1346.92 C1216.14 1341.43 1219.35 1334.2 1222.03 1328.85 C1224.7 1323.5 1228.05 1317.47 1230.06 1314.79 C1232.06 1312.12 1232.4 1314.46 1234.07 1312.79 C1235.75 1311.11 1237.75 1307.77 1240.1 1304.76 C1242.44 1301.74 1245.45 1298 1248.13 1294.72 C1250.8 1291.44 1253.15 1286.62 1256.16 1285.08 C1259.17 1283.54 1262.85 1285.08 1266.2 1285.48 C1269.54 1285.88 1273.56 1286.28 1276.24 1287.49 C1278.91 1288.69 1279.92 1290.5 1282.26 1292.71 C1284.6 1294.92 1287.61 1298.06 1290.29 1300.74 C1292.97 1303.42 1295.64 1305.42 1298.32 1308.77 C1301 1312.12 1304.34 1316.07 1306.35 1320.82 C1308.36 1325.57 1308.7 1340.29 1310.37 1337.28 C1312.04 1334.27 1314.38 1311.18 1316.39 1302.75 C1318.4 1294.32 1320.41 1291.71 1322.41 1286.69 C1324.42 1281.67 1326.77 1276.31 1328.44 1272.63 C1330.11 1268.95 1331.45 1266.61 1332.45 1264.6 C1333.46 1262.59 1333.46 1261.25 1334.46 1260.58 C1335.47 1259.92 1337.14 1260.58 1338.48 1260.58 C1339.82 1260.58 1341.15 1262.59 1342.49 1260.58 C1343.83 1258.58 1345.17 1252.89 1346.51 1248.54 C1347.85 1244.19 1348.78 1240.04 1350.52 1234.48 C1352.26 1228.93 1355.88 1218.42 1356.95 1215.21" fill="none" stroke="#000" stroke-width="2.7" stroke-linejoin="round" stroke-linecap="round"/>
<text x="1552.56" y="1180.4" font-size="26.9">Chromosome 59</text>
<path d="M1541.3 1195 H1553.9 V1383.3 H1541.3 M1541.3 1289.2 H1553.9" fill="none" stroke="#333" stroke-width="1.3"/>
<text x="1492.92" y="1204.1" font-size="26.9">1.0</text>
<text x="1515.38" y="1298.6" font-size="26.9">0</text>
<text x="1477.25" y="1391.9" font-size="26.9">−1.0</text>
<text x="1463" y="1384.36" font-size="26.9" transform="rotate(-90 1463 1384.36)">Insulation score</text>
<path d="M1607.93 1247.03 C1609.24 1247.69 1613.15 1249.97 1615.76 1250.95 C1618.37 1251.93 1620.98 1252.39 1623.59 1252.91 C1626.2 1253.43 1628.81 1254.28 1631.42 1254.08 C1634.03 1253.89 1636.65 1252.58 1639.26 1251.73 C1641.87 1250.88 1644.48 1249.25 1647.09 1248.99 C1649.7 1248.73 1651.98 1249.38 1654.92 1250.17 C1657.85 1250.95 1662.09 1251.93 1664.7 1253.69 C1667.31 1255.45 1668.29 1258.26 1670.58 1260.74 C1672.86 1263.22 1676.12 1265.63 1678.41 1268.57 C1680.69 1271.51 1682.32 1274.77 1684.28 1278.36 C1686.24 1281.95 1688.52 1286.97 1690.15 1290.1 C1691.79 1293.23 1692.44 1295.32 1694.07 1297.15 C1695.7 1298.98 1698.31 1299.63 1699.94 1301.07 C1701.57 1302.5 1702.55 1303.68 1703.86 1305.76 C1705.16 1307.85 1706.47 1310.46 1707.77 1313.59 C1709.08 1316.73 1710.38 1324.23 1711.69 1324.56 C1712.99 1324.88 1713.97 1318.36 1715.6 1315.55 C1717.23 1312.75 1719.52 1309.68 1721.48 1307.72 C1723.43 1305.76 1725.39 1304.98 1727.35 1303.81 C1729.31 1302.63 1731.26 1301.52 1733.22 1300.67 C1735.18 1299.83 1737.14 1298.78 1739.09 1298.72 C1741.05 1298.65 1742.68 1299.43 1744.97 1300.28 C1747.25 1301.13 1750.51 1301.91 1752.8 1303.81 C1755.08 1305.7 1756.84 1308.37 1758.67 1311.64 C1760.5 1314.9 1761.8 1320.32 1763.76 1323.38 C1765.72 1326.45 1768.33 1329.39 1770.42 1330.04 C1772.51 1330.69 1774.33 1328.41 1776.29 1327.3 C1778.25 1326.19 1779.88 1325.67 1782.16 1323.38 C1784.45 1321.1 1787.38 1316.53 1789.99 1313.59 C1792.6 1310.66 1795.21 1308.05 1797.82 1305.76 C1800.43 1303.48 1803.04 1301.52 1805.65 1299.89 C1808.26 1298.26 1810.87 1297.28 1813.48 1295.98 C1816.1 1294.67 1818.71 1293.17 1821.32 1292.06 C1823.93 1290.95 1826.54 1289.52 1829.15 1289.32 C1831.76 1289.12 1834.69 1289.58 1836.98 1290.89 C1839.26 1292.19 1840.57 1294.67 1842.85 1297.15 C1845.13 1299.63 1848.07 1302.7 1850.68 1305.76 C1853.29 1308.83 1855.9 1311.96 1858.51 1315.55 C1861.12 1319.14 1863.73 1323.06 1866.34 1327.3 C1868.95 1331.54 1871.89 1336.43 1874.17 1341 C1876.46 1345.57 1878.22 1350.14 1880.04 1354.7 C1881.87 1359.27 1883.5 1369.06 1885.13 1368.41 C1886.77 1367.76 1888.07 1356.66 1889.83 1350.79 C1891.59 1344.92 1893.42 1338.72 1895.71 1333.17 C1897.99 1327.62 1900.6 1322.73 1903.54 1317.51 C1906.47 1312.29 1910.06 1306.74 1913.32 1301.85 C1916.59 1296.95 1919.85 1292.84 1923.11 1288.14 C1926.38 1283.45 1929.96 1276.27 1932.9 1273.66 C1935.84 1271.05 1937.47 1272.48 1940.73 1272.48 C1943.99 1272.48 1949.21 1273.01 1952.48 1273.66 C1955.74 1274.31 1957.7 1274.96 1960.31 1276.4 C1962.92 1277.83 1965.53 1280.51 1968.14 1282.27 C1970.75 1284.03 1973.36 1285.53 1975.97 1286.97 C1978.58 1288.41 1981.19 1289.84 1983.8 1290.89 C1986.41 1291.93 1989.02 1292.06 1991.63 1293.23 C1994.24 1294.41 1997.5 1296.04 1999.46 1297.93 C2001.42 1299.83 2002.07 1301.98 2003.38 1304.59 C2004.68 1307.2 2005.99 1314.05 2007.29 1313.59 C2008.6 1313.14 2009.9 1306.09 2011.21 1301.85 C2012.51 1297.61 2013.49 1292.19 2015.12 1288.14 C2016.75 1284.1 2018.71 1280.38 2020.99 1277.57 C2023.28 1274.77 2026.87 1272.48 2028.83 1271.31 C2030.78 1270.13 2031.44 1271.31 2032.74 1270.53 C2034.05 1269.74 2035.02 1269.87 2036.66 1266.61 C2038.29 1263.35 2040.57 1255.19 2042.53 1250.95 C2044.49 1246.71 2046.44 1243.32 2048.4 1241.16 C2050.36 1239.01 2052.32 1238.03 2054.27 1238.03 C2056.23 1238.03 2058.19 1239.01 2060.15 1241.16 C2062.1 1243.32 2065.04 1249.32 2066.02 1250.95" fill="none" stroke="#000" stroke-width="2.7" stroke-linejoin="round" stroke-linecap="round"/>
<rect x="138.3" y="1406.8" width="76.26" height="13.46" fill="#d65f31"/>
<rect x="214.5" y="1406.8" width="64.16" height="13.46" fill="#e9ac4c"/>
<rect x="278.6" y="1406.8" width="49.16" height="13.46" fill="#f0c67a"/>
<rect x="327.7" y="1406.8" width="48.26" height="13.46" fill="#f2cc86"/>
<rect x="375.9" y="1406.8" width="45.36" height="13.46" fill="#f2cc86"/>
<rect x="421.2" y="1406.8" width="22.56" height="13.46" fill="#f6d79f"/>
<rect x="443.7" y="1406.8" width="42.56" height="13.46" fill="#fae5be"/>
<rect x="486.2" y="1406.8" width="72.96" height="13.46" fill="#fbeaca"/>
<rect x="559.1" y="1406.8" width="31.96" height="13.46" fill="#fdf1dc"/>
<rect x="591" y="1406.8" width="79.56" height="13.46" fill="#fdf6e7"/>
<rect x="124.9" y="1420.2" width="13.46" height="76.26" fill="#d65f31"/>
<rect x="214.5" y="1420.2" width="64.16" height="76.26" fill="#ecb55d"/>
<rect x="278.6" y="1420.2" width="49.16" height="76.26" fill="#f0c67a"/>
<rect x="327.7" y="1420.2" width="48.26" height="76.26" fill="#f2cc86"/>
<rect x="375.9" y="1420.2" width="45.36" height="76.26" fill="#f1c980"/>
<rect x="421.2" y="1420.2" width="22.56" height="76.26" fill="#f2cc86"/>
<rect x="443.7" y="1420.2" width="42.56" height="76.26" fill="#f8e0b1"/>
<rect x="486.2" y="1420.2" width="72.96" height="76.26" fill="#fae5be"/>
<rect x="559.1" y="1420.2" width="31.96" height="76.26" fill="#fcefd6"/>
<rect x="591" y="1420.2" width="79.56" height="76.26" fill="#fdf6e7"/>
<rect x="124.9" y="1496.4" width="13.46" height="64.16" fill="#e9ac4c"/>
<rect x="138.3" y="1496.4" width="76.26" height="64.16" fill="#ecb55d"/>
<rect x="278.6" y="1496.4" width="49.16" height="64.16" fill="#efc274"/>
<rect x="327.7" y="1496.4" width="48.26" height="64.16" fill="#f1c980"/>
<rect x="375.9" y="1496.4" width="45.36" height="64.16" fill="#f0c67a"/>
<rect x="421.2" y="1496.4" width="22.56" height="64.16" fill="#f1c980"/>
<rect x="443.7" y="1496.4" width="42.56" height="64.16" fill="#f6d79f"/>
<rect x="486.2" y="1496.4" width="72.96" height="64.16" fill="#f6daa5"/>
<rect x="559.1" y="1496.4" width="31.96" height="64.16" fill="#fbe8c4"/>
<rect x="591" y="1496.4" width="79.56" height="64.16" fill="#fdf1dc"/>
<rect x="124.9" y="1560.5" width="13.46" height="49.16" fill="#f0c67a"/>
<rect x="138.3" y="1560.5" width="76.26" height="49.16" fill="#f0c67a"/>
<rect x="214.5" y="1560.5" width="64.16" height="49.16" fill="#efc274"/>
<rect x="327.7" y="1560.5" width="48.26" height="49.16" fill="#e8a846"/>
<rect x="375.9" y="1560.5" width="45.36" height="49.16" fill="#eebf6f"/>
<rect x="421.2" y="1560.5" width="22.56" height="49.16" fill="#f0c67a"/>
<rect x="443.7" y="1560.5" width="42.56" height="49.16" fill="#f2cc86"/>
<rect x="486.2" y="1560.5" width="72.96" height="49.16" fill="#f4d292"/>
<rect x="559.1" y="1560.5" width="31.96" height="49.16" fill="#f8e0b1"/>
<rect x="591" y="1560.5" width="79.56" height="49.16" fill="#fbe8c4"/>
<rect x="124.9" y="1609.6" width="13.46" height="48.26" fill="#f2cc86"/>
<rect x="138.3" y="1609.6" width="76.26" height="48.26" fill="#f2cc86"/>
<rect x="214.5" y="1609.6" width="64.16" height="48.26" fill="#f1c980"/>
<rect x="278.6" y="1609.6" width="49.16" height="48.26" fill="#e8a846"/>
<rect x="375.9" y="1609.6" width="45.36" height="48.26" fill="#e9ac4c"/>
<rect x="421.2" y="1609.6" width="22.56" height="48.26" fill="#edbc69"/>
<rect x="443.7" y="1609.6" width="42.56" height="48.26" fill="#f1c980"/>
<rect x="486.2" y="1609.6" width="72.96" height="48.26" fill="#f2cc86"/>
<rect x="559.1" y="1609.6" width="31.96" height="48.26" fill="#f6daa5"/>
<rect x="591" y="1609.6" width="79.56" height="48.26" fill="#f9e2b8"/>
<rect x="124.9" y="1657.8" width="13.46" height="45.36" fill="#f2cc86"/>
<rect x="138.3" y="1657.8" width="76.26" height="45.36" fill="#f1c980"/>
<rect x="214.5" y="1657.8" width="64.16" height="45.36" fill="#f0c67a"/>
<rect x="278.6" y="1657.8" width="49.16" height="45.36" fill="#eebf6f"/>
<rect x="327.7" y="1657.8" width="48.26" height="45.36" fill="#e9ac4c"/>
<rect x="421.2" y="1657.8" width="22.56" height="45.36" fill="#e6a23a"/>
<rect x="443.7" y="1657.8" width="42.56" height="45.36" fill="#ecb963"/>
<rect x="486.2" y="1657.8" width="72.96" height="45.36" fill="#eebf6f"/>
<rect x="559.1" y="1657.8" width="31.96" height="45.36" fill="#f3cf8c"/>
<rect x="591" y="1657.8" width="79.56" height="45.36" fill="#f6d79f"/>
<rect x="124.9" y="1703.1" width="13.46" height="22.56" fill="#f6d79f"/>
<rect x="138.3" y="1703.1" width="76.26" height="22.56" fill="#f2cc86"/>
<rect x="214.5" y="1703.1" width="64.16" height="22.56" fill="#f1c980"/>
<rect x="278.6" y="1703.1" width="49.16" height="22.56" fill="#f0c67a"/>
<rect x="327.7" y="1703.1" width="48.26" height="22.56" fill="#edbc69"/>
<rect x="375.9" y="1703.1" width="45.36" height="22.56" fill="#e6a23a"/>
<rect x="443.7" y="1703.1" width="42.56" height="22.56" fill="#e9ac4c"/>
<rect x="486.2" y="1703.1" width="72.96" height="22.56" fill="#ecb963"/>
<rect x="559.1" y="1703.1" width="31.96" height="22.56" fill="#f0c67a"/>
<rect x="591" y="1703.1" width="79.56" height="22.56" fill="#f2cc86"/>
<rect x="124.9" y="1725.6" width="13.46" height="42.56" fill="#fae5be"/>
<rect x="138.3" y="1725.6" width="76.26" height="42.56" fill="#f8e0b1"/>
<rect x="214.5" y="1725.6" width="64.16" height="42.56" fill="#f6d79f"/>
<rect x="278.6" y="1725.6" width="49.16" height="42.56" fill="#f2cc86"/>
<rect x="327.7" y="1725.6" width="48.26" height="42.56" fill="#f1c980"/>
<rect x="375.9" y="1725.6" width="45.36" height="42.56" fill="#ecb963"/>
<rect x="421.2" y="1725.6" width="22.56" height="42.56" fill="#e9ac4c"/>
<rect x="486.2" y="1725.6" width="72.96" height="42.56" fill="#e9ac4c"/>
<rect x="559.1" y="1725.6" width="31.96" height="42.56" fill="#ecb55d"/>
<rect x="591" y="1725.6" width="79.56" height="42.56" fill="#efc274"/>
<rect x="124.9" y="1768.1" width="13.46" height="72.96" fill="#fbeaca"/>
<rect x="138.3" y="1768.1" width="76.26" height="72.96" fill="#fae5be"/>
<rect x="214.5" y="1768.1" width="64.16" height="72.96" fill="#f6daa5"/>
<rect x="278.6" y="1768.1" width="49.16" height="72.96" fill="#f4d292"/>
<rect x="327.7" y="1768.1" width="48.26" height="72.96" fill="#f2cc86"/>
<rect x="375.9" y="1768.1" width="45.36" height="72.96" fill="#eebf6f"/>
<rect x="421.2" y="1768.1" width="22.56" height="72.96" fill="#ecb963"/>
<rect x="443.7" y="1768.1" width="42.56" height="72.96" fill="#e9ac4c"/>
<rect x="559.1" y="1768.1" width="31.96" height="72.96" fill="#e9ac4c"/>
<rect x="591" y="1768.1" width="79.56" height="72.96" fill="#eebf6f"/>
<rect x="124.9" y="1841" width="13.46" height="31.96" fill="#fdf1dc"/>
<rect x="138.3" y="1841" width="76.26" height="31.96" fill="#fcefd6"/>
<rect x="214.5" y="1841" width="64.16" height="31.96" fill="#fbe8c4"/>
<rect x="278.6" y="1841" width="49.16" height="31.96" fill="#f8e0b1"/>
<rect x="327.7" y="1841" width="48.26" height="31.96" fill="#f6daa5"/>
<rect x="375.9" y="1841" width="45.36" height="31.96" fill="#f3cf8c"/>
<rect x="421.2" y="1841" width="22.56" height="31.96" fill="#f0c67a"/>
<rect x="443.7" y="1841" width="42.56" height="31.96" fill="#ecb55d"/>
<rect x="486.2" y="1841" width="72.96" height="31.96" fill="#e9ac4c"/>
<rect x="591" y="1841" width="79.56" height="31.96" fill="#e6a23a"/>
<rect x="124.9" y="1872.9" width="13.46" height="79.56" fill="#fdf6e7"/>
<rect x="138.3" y="1872.9" width="76.26" height="79.56" fill="#fdf6e7"/>
<rect x="214.5" y="1872.9" width="64.16" height="79.56" fill="#fdf1dc"/>
<rect x="278.6" y="1872.9" width="49.16" height="79.56" fill="#fbe8c4"/>
<rect x="327.7" y="1872.9" width="48.26" height="79.56" fill="#f9e2b8"/>
<rect x="375.9" y="1872.9" width="45.36" height="79.56" fill="#f6d79f"/>
<rect x="421.2" y="1872.9" width="22.56" height="79.56" fill="#f2cc86"/>
<rect x="443.7" y="1872.9" width="42.56" height="79.56" fill="#efc274"/>
<rect x="486.2" y="1872.9" width="72.96" height="79.56" fill="#eebf6f"/>
<rect x="559.1" y="1872.9" width="31.96" height="79.56" fill="#e6a23a"/>
<rect x="214.5" y="1496.4" width="64.16" height="64.16" fill="url(#g1)"/>
<rect x="278.6" y="1560.5" width="49.16" height="49.16" fill="url(#g2)"/>
<rect x="327.7" y="1609.6" width="48.26" height="48.26" fill="url(#g3)"/>
<rect x="375.9" y="1657.8" width="45.36" height="45.36" fill="url(#g4)"/>
<rect x="421.2" y="1703.1" width="22.56" height="22.56" fill="url(#g5)"/>
<rect x="443.7" y="1725.6" width="42.56" height="42.56" fill="url(#g6)"/>
<rect x="486.2" y="1768.1" width="72.96" height="72.96" fill="url(#g7)"/>
<rect x="559.1" y="1841" width="31.96" height="31.96" fill="url(#g8)"/>
<rect x="138.3" y="1420.2" width="76.26" height="76.26" fill="url(#g9)"/>
<rect x="591" y="1872.9" width="79.56" height="79.56" fill="url(#g10)"/>
<rect x="124.9" y="1406.8" width="13.46" height="13.46" fill="url(#g11)"/>
<path d="M125 1406.8 H140 L176 1442 V1454 H162 L125 1418 Z" fill="#4f1015"/>
<path d="M602 1879 L626 1901 L650 1926 L670.5 1944 V1953.5 H656 L630 1929 L606 1906 L594 1891 Z" fill="#4f1015"/>
<rect x="326.9" y="1406.8" width="1.6" height="545.6" fill="#fff"/>
<rect x="124.9" y="1608.8" width="545.6" height="1.6" fill="#fff"/>
<rect x="420.4" y="1406.8" width="1.6" height="545.6" fill="#fff"/>
<rect x="124.9" y="1702.3" width="545.6" height="1.6" fill="#fff"/>
<rect x="651.4" y="1406.8" width="1.6" height="545.6" fill="#fff"/>
<rect x="124.9" y="1933.3" width="545.6" height="1.6" fill="#fff"/>
<rect x="118.9" y="1403" width="6" height="552" fill="#fff"/>
<rect x="120.6" y="1406.8" width="2.6" height="548" fill="#e07a34"/>
<rect x="118.9" y="1403" width="552" height="3.8" fill="#fff"/>
<rect x="118.9" y="1953.5" width="553" height="2" fill="#fff"/>
<rect x="489.8" y="1772.2" width="12.4" height="6.4" fill="#fff"/>
<rect x="489.8" y="1772.2" width="6.4" height="12.4" fill="#fff"/>
<rect x="568.1" y="1772.2" width="12.4" height="6.4" fill="#fff"/>
<rect x="574.1" y="1772.2" width="6.4" height="12.4" fill="#fff"/>
<rect x="489.8" y="1856.2" width="12.4" height="6.4" fill="#fff"/>
<rect x="489.8" y="1850.2" width="6.4" height="12.4" fill="#fff"/>
<rect x="568.1" y="1856.2" width="12.4" height="6.4" fill="#fff"/>
<rect x="574.1" y="1850.2" width="6.4" height="12.4" fill="#fff"/>
<rect x="524.17" y="1772.2" width="21.97" height="6.4" fill="#fff"/>
<rect x="524.17" y="1856.2" width="21.97" height="6.4" fill="#fff"/>
<rect x="489.8" y="1806.57" width="6.4" height="21.97" fill="#fff"/>
<rect x="574.1" y="1806.57" width="6.4" height="21.97" fill="#fff"/>
<rect x="117.5" y="1401.4" width="554.6" height="555.1" fill="none" stroke="#000" stroke-width="2.9"/>
<line x1="104" y1="1414.4" x2="104" y2="1945.7" stroke="#000" stroke-width="1.9"/>
<path d="M104 1404.4 L96 1418.8 L104 1415.8 L112 1418.8 Z" fill="#000"/>
<path d="M104 1955.7 L96 1941.3 L104 1944.3 L112 1941.3 Z" fill="#000"/>
<text x="95.7" y="1724.78" font-size="20.7" transform="rotate(-90 95.7 1724.78)">11.9 Mb</text>
<text x="124.57" y="1944.3" font-size="20.7">Smic1.0; bin size: 50 kb</text>
<rect x="930" y="1407" width="20.46" height="91.46" fill="#d1492f"/>
<rect x="950.4" y="1407" width="24.26" height="91.46" fill="#dd7f34"/>
<rect x="974.6" y="1407" width="133.86" height="91.46" fill="#ecb55d"/>
<rect x="1108.4" y="1407" width="33.66" height="91.46" fill="#f2cc86"/>
<rect x="1142" y="1407" width="54.06" height="91.46" fill="#f6d79f"/>
<rect x="1196" y="1407" width="110.36" height="91.46" fill="#fbe8c4"/>
<rect x="1306.3" y="1407" width="30.66" height="91.46" fill="#fdf4e2"/>
<rect x="1336.9" y="1407" width="46.96" height="91.46" fill="#fef8ed"/>
<rect x="838.6" y="1498.4" width="91.46" height="20.46" fill="#d1492f"/>
<rect x="950.4" y="1498.4" width="24.26" height="20.46" fill="#cf3e2d"/>
<rect x="974.6" y="1498.4" width="133.86" height="20.46" fill="#eaaf51"/>
<rect x="1108.4" y="1498.4" width="33.66" height="20.46" fill="#efc274"/>
<rect x="1142" y="1498.4" width="54.06" height="20.46" fill="#f2cc86"/>
<rect x="1196" y="1498.4" width="110.36" height="20.46" fill="#f9e2b8"/>
<rect x="1306.3" y="1498.4" width="30.66" height="20.46" fill="#fcefd6"/>
<rect x="1336.9" y="1498.4" width="46.96" height="20.46" fill="#fdf4e2"/>
<rect x="838.6" y="1518.8" width="91.46" height="24.26" fill="#dd7f34"/>
<rect x="930" y="1518.8" width="20.46" height="24.26" fill="#cf3e2d"/>
<rect x="974.6" y="1518.8" width="133.86" height="24.26" fill="#e8a846"/>
<rect x="1108.4" y="1518.8" width="33.66" height="24.26" fill="#edbc69"/>
<rect x="1142" y="1518.8" width="54.06" height="24.26" fill="#f0c67a"/>
<rect x="1196" y="1518.8" width="110.36" height="24.26" fill="#f6daa5"/>
<rect x="1306.3" y="1518.8" width="30.66" height="24.26" fill="#fbe8c4"/>
<rect x="1336.9" y="1518.8" width="46.96" height="24.26" fill="#fdf1dc"/>
<rect x="838.6" y="1543" width="91.46" height="133.86" fill="#ecb55d"/>
<rect x="930" y="1543" width="20.46" height="133.86" fill="#eaaf51"/>
<rect x="950.4" y="1543" width="24.26" height="133.86" fill="#e8a846"/>
<rect x="1108.4" y="1543" width="33.66" height="133.86" fill="#ecb55d"/>
<rect x="1142" y="1543" width="54.06" height="133.86" fill="#eebf6f"/>
<rect x="1196" y="1543" width="110.36" height="133.86" fill="#f1c980"/>
<rect x="1306.3" y="1543" width="30.66" height="133.86" fill="#f4d292"/>
<rect x="1336.9" y="1543" width="46.96" height="133.86" fill="#f6daa5"/>
<rect x="838.6" y="1676.8" width="91.46" height="33.66" fill="#f2cc86"/>
<rect x="930" y="1676.8" width="20.46" height="33.66" fill="#efc274"/>
<rect x="950.4" y="1676.8" width="24.26" height="33.66" fill="#edbc69"/>
<rect x="974.6" y="1676.8" width="133.86" height="33.66" fill="#ecb55d"/>
<rect x="1142" y="1676.8" width="54.06" height="33.66" fill="#e7a540"/>
<rect x="1196" y="1676.8" width="110.36" height="33.66" fill="#eebf6f"/>
<rect x="1306.3" y="1676.8" width="30.66" height="33.66" fill="#eebf6f"/>
<rect x="1336.9" y="1676.8" width="46.96" height="33.66" fill="#f0c67a"/>
<rect x="838.6" y="1710.4" width="91.46" height="54.06" fill="#f6d79f"/>
<rect x="930" y="1710.4" width="20.46" height="54.06" fill="#f2cc86"/>
<rect x="950.4" y="1710.4" width="24.26" height="54.06" fill="#f0c67a"/>
<rect x="974.6" y="1710.4" width="133.86" height="54.06" fill="#eebf6f"/>
<rect x="1108.4" y="1710.4" width="33.66" height="54.06" fill="#e7a540"/>
<rect x="1196" y="1710.4" width="110.36" height="54.06" fill="#edbc69"/>
<rect x="1306.3" y="1710.4" width="30.66" height="54.06" fill="#ecb963"/>
<rect x="1336.9" y="1710.4" width="46.96" height="54.06" fill="#edbc69"/>
<rect x="838.6" y="1764.4" width="91.46" height="110.36" fill="#fbe8c4"/>
<rect x="930" y="1764.4" width="20.46" height="110.36" fill="#f9e2b8"/>
<rect x="950.4" y="1764.4" width="24.26" height="110.36" fill="#f6daa5"/>
<rect x="974.6" y="1764.4" width="133.86" height="110.36" fill="#f1c980"/>
<rect x="1108.4" y="1764.4" width="33.66" height="110.36" fill="#eebf6f"/>
<rect x="1142" y="1764.4" width="54.06" height="110.36" fill="#edbc69"/>
<rect x="1306.3" y="1764.4" width="30.66" height="110.36" fill="#ebb257"/>
<rect x="1336.9" y="1764.4" width="46.96" height="110.36" fill="#ecb55d"/>
<rect x="838.6" y="1874.7" width="91.46" height="30.66" fill="#fdf4e2"/>
<rect x="930" y="1874.7" width="20.46" height="30.66" fill="#fcefd6"/>
<rect x="950.4" y="1874.7" width="24.26" height="30.66" fill="#fbe8c4"/>
<rect x="974.6" y="1874.7" width="133.86" height="30.66" fill="#f4d292"/>
<rect x="1108.4" y="1874.7" width="33.66" height="30.66" fill="#eebf6f"/>
<rect x="1142" y="1874.7" width="54.06" height="30.66" fill="#ecb963"/>
<rect x="1196" y="1874.7" width="110.36" height="30.66" fill="#ebb257"/>
<rect x="1336.9" y="1874.7" width="46.96" height="30.66" fill="#ce382c"/>
<rect x="838.6" y="1905.3" width="91.46" height="46.96" fill="#fef8ed"/>
<rect x="930" y="1905.3" width="20.46" height="46.96" fill="#fdf4e2"/>
<rect x="950.4" y="1905.3" width="24.26" height="46.96" fill="#fdf1dc"/>
<rect x="974.6" y="1905.3" width="133.86" height="46.96" fill="#f6daa5"/>
<rect x="1108.4" y="1905.3" width="33.66" height="46.96" fill="#f0c67a"/>
<rect x="1142" y="1905.3" width="54.06" height="46.96" fill="#edbc69"/>
<rect x="1196" y="1905.3" width="110.36" height="46.96" fill="#ecb55d"/>
<rect x="1306.3" y="1905.3" width="30.66" height="46.96" fill="#ce382c"/>
<rect x="838.6" y="1407" width="91.46" height="91.46" fill="url(#g12)"/>
<rect x="950.4" y="1518.8" width="24.26" height="24.26" fill="url(#g13)"/>
<rect x="974.6" y="1543" width="133.86" height="133.86" fill="url(#g14)"/>
<rect x="1108.4" y="1676.8" width="33.66" height="33.66" fill="url(#g15)"/>
<rect x="1142" y="1710.4" width="54.06" height="54.06" fill="url(#g16)"/>
<rect x="1196" y="1764.4" width="110.36" height="110.36" fill="url(#g17)"/>
<rect x="930" y="1498.4" width="20.46" height="20.46" fill="url(#g18)"/>
<rect x="1306.3" y="1874.7" width="30.66" height="30.66" fill="url(#g19)"/>
<rect x="1336.9" y="1905.3" width="46.96" height="46.96" fill="url(#g20)"/>
<rect x="906.5" y="1478" width="23.5" height="22" fill="#4f1015"/>
<rect x="928.4" y="1497" width="21.8" height="21.8" fill="#4f1015"/>
<rect x="1195.1" y="1407" width="2.2" height="545.2" fill="#fff"/>
<rect x="838.6" y="1763.5" width="545.2" height="2.2" fill="#fff"/>
<defs><linearGradient id="c26l" x1="0" y1="0" x2="0" y2="1"><stop offset="0" stop-color="#501015"/><stop offset="0.17" stop-color="#c03028"/><stop offset="0.25" stop-color="#e08838"/><stop offset="0.6" stop-color="#f4d090"/><stop offset="1" stop-color="#fbeed8"/></linearGradient><linearGradient id="c26t" x1="0" y1="0" x2="1" y2="0"><stop offset="0" stop-color="#501015"/><stop offset="0.17" stop-color="#c03028"/><stop offset="0.25" stop-color="#e08838"/><stop offset="0.6" stop-color="#f4d090"/><stop offset="1" stop-color="#fbeed8"/></linearGradient></defs>
<rect x="832.8" y="1402" width="6" height="550" fill="#fff"/>
<rect x="832.8" y="1402" width="551" height="5" fill="#fff"/>
<rect x="832.8" y="1402" width="3.4" height="550" fill="url(#c26l)"/>
<rect x="832.8" y="1402" width="551" height="2.4" fill="url(#c26t)"/>
<rect x="1383.8" y="1402" width="3.5" height="553" fill="#fff"/>
<rect x="832.8" y="1952.2" width="554" height="3" fill="#fff"/>
<rect x="899.6" y="1467.5" width="12.9" height="7" fill="#fff"/>
<rect x="899.6" y="1467.5" width="7" height="12.9" fill="#fff"/>
<rect x="1004.5" y="1467.5" width="12.9" height="7" fill="#fff"/>
<rect x="1010.4" y="1467.5" width="7" height="12.9" fill="#fff"/>
<rect x="899.6" y="1577.2" width="12.9" height="7" fill="#fff"/>
<rect x="899.6" y="1571.3" width="7" height="12.9" fill="#fff"/>
<rect x="1004.5" y="1577.2" width="12.9" height="7" fill="#fff"/>
<rect x="1010.4" y="1571.3" width="7" height="12.9" fill="#fff"/>
<rect x="930.9" y="1467.5" width="18.4" height="7" fill="#fff"/>
<rect x="930.9" y="1577.2" width="18.4" height="7" fill="#fff"/>
<rect x="899.6" y="1498.8" width="7" height="18.4" fill="#fff"/>
<rect x="1010.4" y="1498.8" width="7" height="18.4" fill="#fff"/>
<rect x="967.7" y="1467.5" width="18.4" height="7" fill="#fff"/>
<rect x="967.7" y="1577.2" width="18.4" height="7" fill="#fff"/>
<rect x="899.6" y="1535.6" width="7" height="18.4" fill="#fff"/>
<rect x="1010.4" y="1535.6" width="7" height="18.4" fill="#fff"/>
<rect x="832.25" y="1401.35" width="556.3" height="555.3" fill="none" stroke="#000" stroke-width="2.6"/>
<line x1="821" y1="1414.4" x2="821" y2="1945.7" stroke="#000" stroke-width="1.9"/>
<path d="M821 1404.4 L813 1418.8 L821 1415.8 L829 1418.8 Z" fill="#000"/>
<path d="M821 1955.7 L813 1941.3 L821 1944.3 L829 1941.3 Z" fill="#000"/>
<text x="813.9" y="1718.65" font-size="20.7" transform="rotate(-90 813.9 1718.65)">8.9 Mb</text>
<text x="854.07" y="1944.3" font-size="20.7">Smic1.0; bin size: 50 kb</text>
<rect x="1712.2" y="1406.5" width="15.86" height="147.54" fill="#db7933"/>
<rect x="1728" y="1406.5" width="37.56" height="147.54" fill="#e49c39"/>
<rect x="1765.5" y="1406.5" width="117.86" height="147.54" fill="#e9ac4c"/>
<rect x="1883.3" y="1406.5" width="121.46" height="147.54" fill="#f1c980"/>
<rect x="2004.7" y="1406.5" width="28.56" height="147.54" fill="#f8e0b1"/>
<rect x="2033.2" y="1406.5" width="35.76" height="147.54" fill="#f4d292"/>
<rect x="2068.9" y="1406.5" width="40.36" height="147.54" fill="#f3cf8c"/>
<rect x="1565.8" y="1553.98" width="146.46" height="15.98" fill="#db7933"/>
<rect x="1728" y="1553.98" width="37.56" height="15.98" fill="#d65f31"/>
<rect x="1765.5" y="1553.98" width="117.86" height="15.98" fill="#df8836"/>
<rect x="1883.3" y="1553.98" width="121.46" height="15.98" fill="#e9ac4c"/>
<rect x="2004.7" y="1553.98" width="28.56" height="15.98" fill="#eebf6f"/>
<rect x="2033.2" y="1553.98" width="35.76" height="15.98" fill="#eebf6f"/>
<rect x="2068.9" y="1553.98" width="40.36" height="15.98" fill="#eebf6f"/>
<rect x="1565.8" y="1569.9" width="146.46" height="37.84" fill="#e49c39"/>
<rect x="1712.2" y="1569.9" width="15.86" height="37.84" fill="#d65f31"/>
<rect x="1765.5" y="1569.9" width="117.86" height="37.84" fill="#d97032"/>
<rect x="1883.3" y="1569.9" width="121.46" height="37.84" fill="#e59f3a"/>
<rect x="2004.7" y="1569.9" width="28.56" height="37.84" fill="#ecb55d"/>
<rect x="2033.2" y="1569.9" width="35.76" height="37.84" fill="#ecb55d"/>
<rect x="2068.9" y="1569.9" width="40.36" height="37.84" fill="#ecb55d"/>
<rect x="1565.8" y="1607.68" width="146.46" height="118.73" fill="#e9ac4c"/>
<rect x="1712.2" y="1607.68" width="15.86" height="118.73" fill="#df8836"/>
<rect x="1728" y="1607.68" width="37.56" height="118.73" fill="#d97032"/>
<rect x="1883.3" y="1607.68" width="121.46" height="118.73" fill="#eaaf51"/>
<rect x="2004.7" y="1607.68" width="28.56" height="118.73" fill="#ebb257"/>
<rect x="2033.2" y="1607.68" width="35.76" height="118.73" fill="#ebb257"/>
<rect x="2068.9" y="1607.68" width="40.36" height="118.73" fill="#ecb55d"/>
<rect x="1565.8" y="1726.35" width="146.46" height="122.36" fill="#f1c980"/>
<rect x="1712.2" y="1726.35" width="15.86" height="122.36" fill="#e9ac4c"/>
<rect x="1728" y="1726.35" width="37.56" height="122.36" fill="#e59f3a"/>
<rect x="1765.5" y="1726.35" width="117.86" height="122.36" fill="#eaaf51"/>
<rect x="2004.7" y="1726.35" width="28.56" height="122.36" fill="#df8836"/>
<rect x="2033.2" y="1726.35" width="35.76" height="122.36" fill="#db7933"/>
<rect x="2068.9" y="1726.35" width="40.36" height="122.36" fill="#dc7c34"/>
<rect x="1565.8" y="1848.65" width="146.46" height="28.77" fill="#f8e0b1"/>
<rect x="1712.2" y="1848.65" width="15.86" height="28.77" fill="#eebf6f"/>
<rect x="1728" y="1848.65" width="37.56" height="28.77" fill="#ecb55d"/>
<rect x="1765.5" y="1848.65" width="117.86" height="28.77" fill="#ebb257"/>
<rect x="1883.3" y="1848.65" width="121.46" height="28.77" fill="#df8836"/>
<rect x="2033.2" y="1848.65" width="35.76" height="28.77" fill="#ac2326"/>
<rect x="2068.9" y="1848.65" width="40.36" height="28.77" fill="#cd332b"/>
<rect x="1565.8" y="1877.36" width="146.46" height="36.02" fill="#f4d292"/>
<rect x="1712.2" y="1877.36" width="15.86" height="36.02" fill="#eebf6f"/>
<rect x="1728" y="1877.36" width="37.56" height="36.02" fill="#ecb55d"/>
<rect x="1765.5" y="1877.36" width="117.86" height="36.02" fill="#ebb257"/>
<rect x="1883.3" y="1877.36" width="121.46" height="36.02" fill="#db7933"/>
<rect x="2004.7" y="1877.36" width="28.56" height="36.02" fill="#ac2326"/>
<rect x="2068.9" y="1877.36" width="40.36" height="36.02" fill="#a42125"/>
<rect x="1565.8" y="1913.32" width="146.46" height="40.66" fill="#f3cf8c"/>
<rect x="1712.2" y="1913.32" width="15.86" height="40.66" fill="#eebf6f"/>
<rect x="1728" y="1913.32" width="37.56" height="40.66" fill="#ecb55d"/>
<rect x="1765.5" y="1913.32" width="117.86" height="40.66" fill="#ecb55d"/>
<rect x="1883.3" y="1913.32" width="121.46" height="40.66" fill="#dc7c34"/>
<rect x="2004.7" y="1913.32" width="28.56" height="40.66" fill="#cd332b"/>
<rect x="2033.2" y="1913.32" width="35.76" height="40.66" fill="#a42125"/>
<rect x="1565.8" y="1406.5" width="146.46" height="147.54" fill="url(#g21)"/>
<rect x="1765.5" y="1607.68" width="117.86" height="118.73" fill="url(#g22)"/>
<rect x="1883.3" y="1726.35" width="121.46" height="122.36" fill="url(#g23)"/>
<rect x="2004.7" y="1848.65" width="28.56" height="28.77" fill="url(#g24)"/>
<rect x="2033.2" y="1877.36" width="35.76" height="36.02" fill="url(#g25)"/>
<rect x="2068.9" y="1913.32" width="40.36" height="40.66" fill="url(#g26)"/>
<rect x="1712.2" y="1553.98" width="15.86" height="15.98" fill="url(#g27)"/>
<rect x="1728" y="1569.9" width="37.56" height="37.84" fill="url(#g28)"/>
<rect x="1725.9" y="1406.5" width="4.9" height="547.42" fill="#fff"/>
<rect x="1565.8" y="1567.78" width="543.4" height="4.94" fill="#fff"/>
<rect x="1565.8" y="1406.7" width="12.4" height="7.3" fill="#fff"/>
<rect x="1565.8" y="1406.7" width="7.3" height="12.4" fill="#fff"/>
<rect x="1748.3" y="1406.7" width="12.4" height="7.3" fill="#fff"/>
<rect x="1753.4" y="1406.7" width="7.3" height="12.4" fill="#fff"/>
<rect x="1565.8" y="1595.7" width="12.4" height="7.3" fill="#fff"/>
<rect x="1565.8" y="1590.6" width="7.3" height="12.4" fill="#fff"/>
<rect x="1748.3" y="1595.7" width="12.4" height="7.3" fill="#fff"/>
<rect x="1753.4" y="1590.6" width="7.3" height="12.4" fill="#fff"/>
<rect x="1597.1" y="1406.7" width="18.9" height="7.3" fill="#fff"/>
<rect x="1597.1" y="1595.7" width="18.9" height="7.3" fill="#fff"/>
<rect x="1565.8" y="1438" width="7.3" height="18.9" fill="#fff"/>
<rect x="1753.4" y="1438" width="7.3" height="18.9" fill="#fff"/>
<rect x="1634.9" y="1406.7" width="18.9" height="7.3" fill="#fff"/>
<rect x="1634.9" y="1595.7" width="18.9" height="7.3" fill="#fff"/>
<rect x="1565.8" y="1475.8" width="7.3" height="18.9" fill="#fff"/>
<rect x="1753.4" y="1475.8" width="7.3" height="18.9" fill="#fff"/>
<rect x="1672.7" y="1406.7" width="18.9" height="7.3" fill="#fff"/>
<rect x="1672.7" y="1595.7" width="18.9" height="7.3" fill="#fff"/>
<rect x="1565.8" y="1513.6" width="7.3" height="18.9" fill="#fff"/>
<rect x="1753.4" y="1513.6" width="7.3" height="18.9" fill="#fff"/>
<rect x="1710.5" y="1406.7" width="18.9" height="7.3" fill="#fff"/>
<rect x="1710.5" y="1595.7" width="18.9" height="7.3" fill="#fff"/>
<rect x="1565.8" y="1551.4" width="7.3" height="18.9" fill="#fff"/>
<rect x="1753.4" y="1551.4" width="7.3" height="18.9" fill="#fff"/>
<rect x="1564.85" y="1404.55" width="546.3" height="551.2" fill="none" stroke="#000" stroke-width="3.5"/>
<line x1="1553" y1="1414.2" x2="1553" y2="1945.7" stroke="#000" stroke-width="1.9"/>
<path d="M1553 1404.2 L1545 1418.6 L1553 1415.6 L1561 1418.6 Z" fill="#000"/>
<path d="M1553 1955.7 L1545 1941.3 L1553 1944.3 L1561 1941.3 Z" fill="#000"/>
<text x="1546" y="1718.62" font-size="20.7" transform="rotate(-90 1546 1718.62)">5.8 Mb</text>
<text x="1580.77" y="1944.3" font-size="20.7">Smic1.0; bin size: 50 kb</text>
<rect x="2016.8" y="1355.5" width="94" height="16.8" fill="url(#cbar)" stroke="#111" stroke-width="1.1"/>
<text x="2006" y="1348" font-size="26.9">0</text>
<text x="2051.98" y="1348" font-size="26.9">0.012</text>
<text x="1993.97" y="1397" font-size="26.9">Hi-C count</text>
<rect x="412" y="2063" width="147.86" height="116.06" fill="#e9ac4c"/>
<rect x="559.8" y="2063" width="88.86" height="116.06" fill="#f4d292"/>
<rect x="296" y="2179" width="116.06" height="147.86" fill="#e9ac4c"/>
<rect x="559.8" y="2179" width="88.86" height="147.86" fill="#f4d292"/>
<rect x="296" y="2326.8" width="116.06" height="88.86" fill="#f4d292"/>
<rect x="412" y="2326.8" width="147.86" height="88.86" fill="#f4d292"/>
<rect x="296" y="2063" width="116.06" height="116.06" fill="url(#g29)"/>
<rect x="412" y="2179" width="147.86" height="147.86" fill="url(#g30)"/>
<rect x="559.8" y="2326.8" width="88.86" height="88.86" fill="url(#g31)"/>
<rect x="333.3" y="2063" width="1" height="352.6" fill="#fdf3e3"/>
<rect x="296" y="2100.3" width="352.6" height="1" fill="#fdf3e3"/>
<rect x="351.6" y="2063" width="1" height="352.6" fill="#fdf3e3"/>
<rect x="296" y="2118.6" width="352.6" height="1" fill="#fdf3e3"/>
<rect x="374" y="2063" width="1" height="352.6" fill="#fdf3e3"/>
<rect x="296" y="2141" width="352.6" height="1" fill="#fdf3e3"/>
<rect x="411.2" y="2063" width="1.8" height="352.6" fill="#fdf3e3"/>
<rect x="296" y="2178.2" width="352.6" height="1.8" fill="#fdf3e3"/>
<rect x="430" y="2063" width="1" height="352.6" fill="#fdf3e3"/>
<rect x="296" y="2197" width="352.6" height="1" fill="#fdf3e3"/>
<rect x="440.2" y="2063" width="1" height="352.6" fill="#fdf3e3"/>
<rect x="296" y="2207.2" width="352.6" height="1" fill="#fdf3e3"/>
<rect x="559.3" y="2063" width="1" height="352.6" fill="#fdf3e3"/>
<rect x="296" y="2326.3" width="352.6" height="1" fill="#fdf3e3"/>
<rect x="584.7" y="2063" width="1" height="352.6" fill="#fdf3e3"/>
<rect x="296" y="2351.7" width="352.6" height="1" fill="#fdf3e3"/>
<rect x="616.3" y="2063" width="1" height="352.6" fill="#fdf3e3"/>
<rect x="296" y="2383.3" width="352.6" height="1" fill="#fdf3e3"/>
<rect x="627.5" y="2063" width="1" height="352.6" fill="#fdf3e3"/>
<rect x="296" y="2394.5" width="352.6" height="1" fill="#fdf3e3"/>
<text x="298.45" y="2037.9" font-size="26.9">Chromosome 4: 8–10 Mb</text>
<path d="M296.05 2062.85 H648.55 V2415.35 H296.05 Z" fill="none" stroke="#000" stroke-width="7.3" stroke-dasharray="17.58 17.67" stroke-dashoffset="8.79" stroke-linejoin="miter"/>
<line x1="277.4" y1="2072.3" x2="277.4" y2="2407" stroke="#000" stroke-width="1.9"/>
<path d="M277.4 2062.3 L269.4 2076.7 L277.4 2073.7 L285.4 2076.7 Z" fill="#000"/>
<path d="M277.4 2417 L269.4 2402.6 L277.4 2405.6 L285.4 2402.6 Z" fill="#000"/>
<text x="264" y="2268.31" font-size="20.7" transform="rotate(-90 264 2268.31)">2 Mb</text>
<text x="303.87" y="2396.8" font-size="20.7">Smic1.0; bin size: 5 kb</text>
<defs><linearGradient id="cbar2" x1="0" y1="0" x2="1" y2="0"><stop offset="0" stop-color="#ffffff"/><stop offset="0.05" stop-color="#fdf4e2"/><stop offset="0.1" stop-color="#fbe8c4"/><stop offset="0.15" stop-color="#f6daa5"/><stop offset="0.2" stop-color="#f2cc86"/><stop offset="0.25" stop-color="#edbc69"/><stop offset="0.3" stop-color="#e9ac4c"/><stop offset="0.35" stop-color="#e49c39"/><stop offset="0.4" stop-color="#e18d37"/><stop offset="0.45" stop-color="#dd7f34"/><stop offset="0.5" stop-color="#d97032"/><stop offset="0.55" stop-color="#d65f31"/><stop offset="0.6" stop-color="#d24f30"/><stop offset="0.65" stop-color="#d0412e"/><stop offset="0.7" stop-color="#cd332b"/><stop offset="0.75" stop-color="#c32829"/><stop offset="0.8" stop-color="#ac2326"/><stop offset="0.85" stop-color="#961e23"/><stop offset="0.9" stop-color="#7e191e"/><stop offset="0.95" stop-color="#67151a"/><stop offset="1" stop-color="#4f1015"/></linearGradient></defs>
<rect x="135" y="2368.5" width="94" height="17.6" fill="url(#cbar2)" stroke="#111" stroke-width="1.1"/>
<text x="129.08" y="2362.8" font-size="20.7">0</text>
<text x="187.95" y="2362.8" font-size="20.7">0.002</text>
<text x="135.75" y="2411.1" font-size="20.7">Hi-C count</text>
<rect x="1063.9" y="2058.1" width="56.06" height="44.96" fill="#d55c31"/>
<rect x="1119.9" y="2058.1" width="59.06" height="44.96" fill="#de8235"/>
<rect x="1178.9" y="2058.1" width="68.26" height="44.96" fill="#e7a540"/>
<rect x="1247.1" y="2058.1" width="125.26" height="44.96" fill="#f2cc86"/>
<rect x="1019" y="2103" width="44.96" height="56.06" fill="#d55c31"/>
<rect x="1119.9" y="2103" width="59.06" height="56.06" fill="#db7933"/>
<rect x="1178.9" y="2103" width="68.26" height="56.06" fill="#e59f3a"/>
<rect x="1247.1" y="2103" width="125.26" height="56.06" fill="#f0c67a"/>
<rect x="1019" y="2159" width="44.96" height="59.06" fill="#de8235"/>
<rect x="1063.9" y="2159" width="56.06" height="59.06" fill="#db7933"/>
<rect x="1178.9" y="2159" width="68.26" height="59.06" fill="#de8235"/>
<rect x="1247.1" y="2159" width="125.26" height="59.06" fill="#eebf6f"/>
<rect x="1019" y="2218" width="44.96" height="68.26" fill="#e7a540"/>
<rect x="1063.9" y="2218" width="56.06" height="68.26" fill="#e59f3a"/>
<rect x="1119.9" y="2218" width="59.06" height="68.26" fill="#de8235"/>
<rect x="1247.1" y="2218" width="125.26" height="68.26" fill="#ebb257"/>
<rect x="1019" y="2286.2" width="44.96" height="125.26" fill="#f2cc86"/>
<rect x="1063.9" y="2286.2" width="56.06" height="125.26" fill="#f0c67a"/>
<rect x="1119.9" y="2286.2" width="59.06" height="125.26" fill="#eebf6f"/>
<rect x="1178.9" y="2286.2" width="68.26" height="125.26" fill="#ebb257"/>
<rect x="1019" y="2058.1" width="44.96" height="44.96" fill="url(#g32)"/>
<rect x="1063.9" y="2103" width="56.06" height="56.06" fill="url(#g33)"/>
<rect x="1119.9" y="2159" width="59.06" height="59.06" fill="url(#g34)"/>
<rect x="1178.9" y="2218" width="68.26" height="68.26" fill="url(#g35)"/>
<rect x="1247.1" y="2286.2" width="125.26" height="125.26" fill="url(#g36)"/>
<rect x="1023.7" y="2058.1" width="1" height="353.3" fill="#fdf3e3"/>
<rect x="1019" y="2062.8" width="353.3" height="1" fill="#fdf3e3"/>
<rect x="1063.4" y="2058.1" width="1" height="353.3" fill="#fdf3e3"/>
<rect x="1019" y="2102.5" width="353.3" height="1" fill="#fdf3e3"/>
<rect x="1083.7" y="2058.1" width="1" height="353.3" fill="#fdf3e3"/>
<rect x="1019" y="2122.8" width="353.3" height="1" fill="#fdf3e3"/>
<rect x="1115.3" y="2058.1" width="1" height="353.3" fill="#fdf3e3"/>
<rect x="1019" y="2154.4" width="353.3" height="1" fill="#fdf3e3"/>
<rect x="1140.7" y="2058.1" width="1" height="353.3" fill="#fdf3e3"/>
<rect x="1019" y="2179.8" width="353.3" height="1" fill="#fdf3e3"/>
<rect x="1160.1" y="2058.1" width="1" height="353.3" fill="#fdf3e3"/>
<rect x="1019" y="2199.2" width="353.3" height="1" fill="#fdf3e3"/>
<rect x="1195.7" y="2058.1" width="1" height="353.3" fill="#fdf3e3"/>
<rect x="1019" y="2234.8" width="353.3" height="1" fill="#fdf3e3"/>
<rect x="1222.6" y="2058.1" width="2.2" height="353.3" fill="#fdf3e3"/>
<rect x="1019" y="2261.7" width="353.3" height="2.2" fill="#fdf3e3"/>
<rect x="1312.8" y="2058.1" width="1" height="353.3" fill="#fdf3e3"/>
<rect x="1019" y="2351.9" width="353.3" height="1" fill="#fdf3e3"/>
<rect x="1334.1" y="2058.1" width="1" height="353.3" fill="#fdf3e3"/>
<rect x="1019" y="2373.2" width="353.3" height="1" fill="#fdf3e3"/>
<rect x="1356.5" y="2058.1" width="1" height="353.3" fill="#fdf3e3"/>
<rect x="1019" y="2395.6" width="353.3" height="1" fill="#fdf3e3"/>
<rect x="1222.6" y="2058.1" width="2.2" height="314" fill="#fff"/>
<rect x="1019" y="2261.7" width="353.3" height="2.2" fill="#fff"/>
<text x="1037.86" y="2037.9" font-size="26.9">Chromosome 26: 1–3 Mb</text>
<path d="M1020.05 2058.95 H1371.85 V2410.75 H1020.05 Z" fill="none" stroke="#000" stroke-width="7.3" stroke-dasharray="17.54 17.64" stroke-dashoffset="8.77" stroke-linejoin="miter"/>
<line x1="1000.7" y1="2070" x2="1000.7" y2="2407" stroke="#000" stroke-width="1.9"/>
<path d="M1000.7 2060 L992.7 2074.4 L1000.7 2071.4 L1008.7 2074.4 Z" fill="#000"/>
<path d="M1000.7 2417 L992.7 2402.6 L1000.7 2405.6 L1008.7 2402.6 Z" fill="#000"/>
<text x="989" y="2268.31" font-size="20.7" transform="rotate(-90 989 2268.31)">2 Mb</text>
<text x="1031.57" y="2396.8" font-size="20.7">Smic1.0; bin size: 5 kb</text>
<rect x="1860" y="2059.1" width="148.56" height="100.96" fill="#df8836"/>
<rect x="2008.5" y="2059.1" width="35.66" height="100.96" fill="#e18d37"/>
<rect x="2044.1" y="2059.1" width="66.26" height="100.96" fill="#ecb963"/>
<rect x="1759.1" y="2160" width="100.96" height="148.56" fill="#df8836"/>
<rect x="2008.5" y="2160" width="35.66" height="148.56" fill="#de8235"/>
<rect x="2044.1" y="2160" width="66.26" height="148.56" fill="#ecb963"/>
<rect x="1759.1" y="2308.5" width="100.96" height="35.66" fill="#e18d37"/>
<rect x="1860" y="2308.5" width="148.56" height="35.66" fill="#de8235"/>
<rect x="2044.1" y="2308.5" width="66.26" height="35.66" fill="#e29338"/>
<rect x="1759.1" y="2344.1" width="100.96" height="66.26" fill="#ecb963"/>
<rect x="1860" y="2344.1" width="148.56" height="66.26" fill="#ecb963"/>
<rect x="2008.5" y="2344.1" width="35.66" height="66.26" fill="#e29338"/>
<rect x="1759.1" y="2059.1" width="100.96" height="100.96" fill="url(#g37)"/>
<rect x="1860" y="2160" width="148.56" height="148.56" fill="url(#g38)"/>
<rect x="2008.5" y="2308.5" width="35.66" height="35.66" fill="url(#g39)"/>
<rect x="2044.1" y="2344.1" width="66.26" height="66.26" fill="url(#g40)"/>
<rect x="1855.05" y="2059.1" width="1.5" height="351.2" fill="#fdf3e3"/>
<rect x="1759.1" y="2155.05" width="351.2" height="1.5" fill="#fdf3e3"/>
<rect x="1858.15" y="2059.1" width="1.5" height="351.2" fill="#fdf3e3"/>
<rect x="1759.1" y="2158.15" width="351.2" height="1.5" fill="#fdf3e3"/>
<rect x="1883.8" y="2059.1" width="1" height="351.2" fill="#fdf3e3"/>
<rect x="1759.1" y="2183.8" width="351.2" height="1" fill="#fdf3e3"/>
<rect x="1908.2" y="2059.1" width="1" height="351.2" fill="#fdf3e3"/>
<rect x="1759.1" y="2208.2" width="351.2" height="1" fill="#fdf3e3"/>
<rect x="2055.8" y="2059.1" width="1" height="351.2" fill="#fdf3e3"/>
<rect x="1759.1" y="2355.8" width="351.2" height="1" fill="#fdf3e3"/>
<rect x="2061.9" y="2059.1" width="1" height="351.2" fill="#fdf3e3"/>
<rect x="1759.1" y="2361.9" width="351.2" height="1" fill="#fdf3e3"/>
<rect x="2069.4" y="2059.1" width="2.4" height="351.2" fill="#fdf3e3"/>
<rect x="1759.1" y="2369.4" width="351.2" height="2.4" fill="#fdf3e3"/>
<rect x="2081.3" y="2059.1" width="1" height="351.2" fill="#fdf3e3"/>
<rect x="1759.1" y="2381.3" width="351.2" height="1" fill="#fdf3e3"/>
<rect x="1855.1" y="2059.1" width="1.4" height="351.2" fill="#fff"/>
<rect x="1759.1" y="2155.1" width="351.2" height="1.4" fill="#fff"/>
<rect x="1858.2" y="2059.1" width="1.4" height="351.2" fill="#fff"/>
<rect x="1759.1" y="2158.2" width="351.2" height="1.4" fill="#fff"/>
<rect x="2069.9" y="2059.1" width="1.4" height="351.2" fill="#fff"/>
<rect x="1759.1" y="2369.9" width="351.2" height="1.4" fill="#fff"/>
<text x="1777.86" y="2037.9" font-size="26.9">Chromosome 59: 0–2 Mb</text>
<path d="M1758.65 2059.15 H2110.65 V2411.15 H1758.65 Z" fill="none" stroke="#000" stroke-width="7.3" stroke-dasharray="17.55 17.65" stroke-dashoffset="8.78" stroke-linejoin="miter"/>
<line x1="1741" y1="2070" x2="1741" y2="2407" stroke="#000" stroke-width="1.9"/>
<path d="M1741 2060 L1733 2074.4 L1741 2071.4 L1749 2074.4 Z" fill="#000"/>
<path d="M1741 2417 L1733 2402.6 L1741 2405.6 L1749 2402.6 Z" fill="#000"/>
<text x="1727.5" y="2268.31" font-size="20.7" transform="rotate(-90 1727.5 2268.31)">2 Mb</text>
<text x="1770.87" y="2396.8" font-size="20.7">Smic1.0; bin size: 5 kb</text>
</svg>
</body></html>
